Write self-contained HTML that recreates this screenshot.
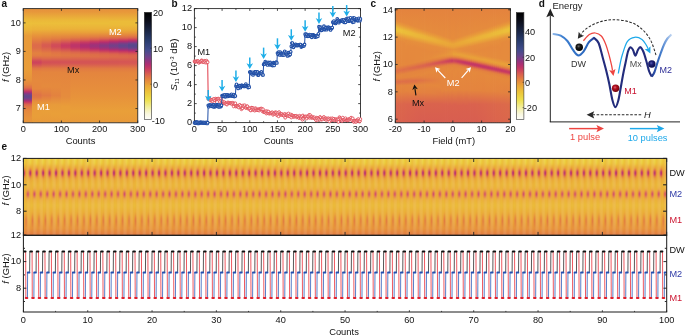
<!DOCTYPE html><html><head><meta charset="utf-8"><title>fig</title><style>html,body{margin:0;padding:0;background:#fff;width:685px;height:336px;overflow:hidden}svg{display:block;will-change:transform}text{font-family:"Liberation Sans",sans-serif}</style></head><body><svg width="685" height="336" viewBox="0 0 685 336"><defs><linearGradient id="g1" x1="0" y1="0" x2="0" y2="1"><stop offset="0.000" stop-color="#e6913c"/><stop offset="0.026" stop-color="#e7973b"/><stop offset="0.100" stop-color="#ebb939"/><stop offset="0.130" stop-color="#ecbf3a"/><stop offset="0.183" stop-color="#ebb439"/><stop offset="0.239" stop-color="#e89b3a"/><stop offset="0.322" stop-color="#e89a3a"/><stop offset="0.535" stop-color="#e99d39"/><stop offset="0.617" stop-color="#e7943b"/><stop offset="0.665" stop-color="#e4843e"/><stop offset="0.691" stop-color="#de7047"/><stop offset="0.704" stop-color="#d85e50"/><stop offset="0.722" stop-color="#c73a62"/><stop offset="0.730" stop-color="#b5306e"/><stop offset="0.743" stop-color="#8d3680"/><stop offset="0.757" stop-color="#6d438b"/><stop offset="0.765" stop-color="#64458c"/><stop offset="0.774" stop-color="#63458c"/><stop offset="0.783" stop-color="#6b448c"/><stop offset="0.796" stop-color="#893882"/><stop offset="0.809" stop-color="#b22e70"/><stop offset="0.822" stop-color="#cb3f5e"/><stop offset="0.839" stop-color="#da624e"/><stop offset="0.861" stop-color="#e17844"/><stop offset="0.896" stop-color="#e5883d"/><stop offset="0.961" stop-color="#e7933b"/><stop offset="1.000" stop-color="#e7953b"/></linearGradient><linearGradient id="g2" x1="0" y1="0" x2="0" y2="1"><stop offset="0.000" stop-color="#e6913c"/><stop offset="0.026" stop-color="#e7963b"/><stop offset="0.100" stop-color="#ebb839"/><stop offset="0.130" stop-color="#ecbe3a"/><stop offset="0.183" stop-color="#ebb139"/><stop offset="0.239" stop-color="#e7923b"/><stop offset="0.283" stop-color="#e27c42"/><stop offset="0.317" stop-color="#dd6b4a"/><stop offset="0.343" stop-color="#dd6d49"/><stop offset="0.391" stop-color="#e38140"/><stop offset="0.413" stop-color="#e27c42"/><stop offset="0.435" stop-color="#dc684b"/><stop offset="0.457" stop-color="#d14c59"/><stop offset="0.470" stop-color="#cd445c"/><stop offset="0.483" stop-color="#d0495a"/><stop offset="0.522" stop-color="#e07545"/><stop offset="0.548" stop-color="#e4833e"/><stop offset="0.630" stop-color="#e5893d"/><stop offset="0.700" stop-color="#e5873d"/><stop offset="0.757" stop-color="#df7246"/><stop offset="0.778" stop-color="#e07844"/><stop offset="0.817" stop-color="#e6913c"/><stop offset="0.857" stop-color="#e99c39"/><stop offset="0.939" stop-color="#e99e39"/><stop offset="1.000" stop-color="#e8993a"/></linearGradient><linearGradient id="g3" x1="0" y1="0" x2="0" y2="1"><stop offset="0.000" stop-color="#e6913c"/><stop offset="0.026" stop-color="#e7963b"/><stop offset="0.100" stop-color="#ebb839"/><stop offset="0.130" stop-color="#ecbe3a"/><stop offset="0.183" stop-color="#ebb139"/><stop offset="0.239" stop-color="#e6903c"/><stop offset="0.274" stop-color="#e17b42"/><stop offset="0.313" stop-color="#d85e50"/><stop offset="0.330" stop-color="#d75b51"/><stop offset="0.357" stop-color="#dc684b"/><stop offset="0.391" stop-color="#e27c42"/><stop offset="0.413" stop-color="#e17b42"/><stop offset="0.435" stop-color="#dd6c49"/><stop offset="0.461" stop-color="#d45355"/><stop offset="0.474" stop-color="#d35056"/><stop offset="0.491" stop-color="#d75b51"/><stop offset="0.526" stop-color="#e17b42"/><stop offset="0.557" stop-color="#e4853e"/><stop offset="0.683" stop-color="#e58a3d"/><stop offset="0.726" stop-color="#e3823f"/><stop offset="0.761" stop-color="#e17a43"/><stop offset="0.791" stop-color="#e4863e"/><stop offset="0.835" stop-color="#e8993a"/><stop offset="0.904" stop-color="#e99f39"/><stop offset="1.000" stop-color="#e8993a"/></linearGradient><linearGradient id="g4" x1="0" y1="0" x2="0" y2="1"><stop offset="0.000" stop-color="#e6913c"/><stop offset="0.026" stop-color="#e7963b"/><stop offset="0.100" stop-color="#ebb839"/><stop offset="0.130" stop-color="#ecbe3a"/><stop offset="0.178" stop-color="#ebb339"/><stop offset="0.217" stop-color="#e89c3a"/><stop offset="0.265" stop-color="#e27c42"/><stop offset="0.313" stop-color="#d24f57"/><stop offset="0.330" stop-color="#d04b59"/><stop offset="0.352" stop-color="#d65853"/><stop offset="0.387" stop-color="#e07545"/><stop offset="0.409" stop-color="#e17a43"/><stop offset="0.430" stop-color="#de6f48"/><stop offset="0.461" stop-color="#d45355"/><stop offset="0.474" stop-color="#d35156"/><stop offset="0.491" stop-color="#d75c51"/><stop offset="0.526" stop-color="#e17b42"/><stop offset="0.557" stop-color="#e4853e"/><stop offset="0.687" stop-color="#e58a3d"/><stop offset="0.761" stop-color="#e3823f"/><stop offset="0.843" stop-color="#e89b3a"/><stop offset="0.922" stop-color="#e99f39"/><stop offset="1.000" stop-color="#e8993a"/></linearGradient><linearGradient id="g5" x1="0" y1="0" x2="0" y2="1"><stop offset="0.000" stop-color="#e6913c"/><stop offset="0.026" stop-color="#e7963b"/><stop offset="0.100" stop-color="#ebb839"/><stop offset="0.130" stop-color="#ecbe3a"/><stop offset="0.178" stop-color="#ebb239"/><stop offset="0.213" stop-color="#e99e39"/><stop offset="0.257" stop-color="#e27f41"/><stop offset="0.287" stop-color="#d85d51"/><stop offset="0.309" stop-color="#cd435d"/><stop offset="0.322" stop-color="#c93c60"/><stop offset="0.339" stop-color="#cb3f5e"/><stop offset="0.365" stop-color="#d75b51"/><stop offset="0.387" stop-color="#de7047"/><stop offset="0.409" stop-color="#e07744"/><stop offset="0.430" stop-color="#dd6e48"/><stop offset="0.461" stop-color="#d45455"/><stop offset="0.474" stop-color="#d35256"/><stop offset="0.491" stop-color="#d85d51"/><stop offset="0.526" stop-color="#e17b42"/><stop offset="0.561" stop-color="#e4853e"/><stop offset="0.717" stop-color="#e58a3d"/><stop offset="0.774" stop-color="#e58c3d"/><stop offset="0.857" stop-color="#e99d39"/><stop offset="0.943" stop-color="#e99e39"/><stop offset="1.000" stop-color="#e8993a"/></linearGradient><linearGradient id="g6" x1="0" y1="0" x2="0" y2="1"><stop offset="0.000" stop-color="#e6913c"/><stop offset="0.026" stop-color="#e7963b"/><stop offset="0.100" stop-color="#ebb839"/><stop offset="0.130" stop-color="#ecbe3a"/><stop offset="0.178" stop-color="#ebb239"/><stop offset="0.213" stop-color="#e99d39"/><stop offset="0.252" stop-color="#e27f41"/><stop offset="0.278" stop-color="#d9604f"/><stop offset="0.300" stop-color="#cb3e5f"/><stop offset="0.317" stop-color="#be3568"/><stop offset="0.335" stop-color="#be3568"/><stop offset="0.352" stop-color="#cb3e5f"/><stop offset="0.383" stop-color="#db674c"/><stop offset="0.400" stop-color="#df7346"/><stop offset="0.417" stop-color="#df7446"/><stop offset="0.443" stop-color="#da624e"/><stop offset="0.465" stop-color="#d45355"/><stop offset="0.478" stop-color="#d45455"/><stop offset="0.526" stop-color="#e17b42"/><stop offset="0.561" stop-color="#e4853e"/><stop offset="0.765" stop-color="#e7923b"/><stop offset="0.900" stop-color="#e99f39"/><stop offset="1.000" stop-color="#e8993a"/></linearGradient><linearGradient id="g7" x1="0" y1="0" x2="0" y2="1"><stop offset="0.000" stop-color="#e6913c"/><stop offset="0.026" stop-color="#e7963b"/><stop offset="0.100" stop-color="#ebb839"/><stop offset="0.130" stop-color="#ecbe3a"/><stop offset="0.178" stop-color="#ebb239"/><stop offset="0.209" stop-color="#e9a039"/><stop offset="0.248" stop-color="#e37f40"/><stop offset="0.270" stop-color="#db664c"/><stop offset="0.296" stop-color="#c73a62"/><stop offset="0.313" stop-color="#b42f6e"/><stop offset="0.326" stop-color="#ae2f72"/><stop offset="0.339" stop-color="#b52f6e"/><stop offset="0.361" stop-color="#cb3f5f"/><stop offset="0.383" stop-color="#d9604f"/><stop offset="0.400" stop-color="#de6f48"/><stop offset="0.417" stop-color="#df7247"/><stop offset="0.439" stop-color="#db654c"/><stop offset="0.461" stop-color="#d45554"/><stop offset="0.478" stop-color="#d45554"/><stop offset="0.526" stop-color="#e17b42"/><stop offset="0.561" stop-color="#e4853e"/><stop offset="0.770" stop-color="#e7923b"/><stop offset="0.900" stop-color="#e99f39"/><stop offset="1.000" stop-color="#e8993a"/></linearGradient><linearGradient id="g8" x1="0" y1="0" x2="0" y2="1"><stop offset="0.000" stop-color="#e6913c"/><stop offset="0.026" stop-color="#e7963b"/><stop offset="0.100" stop-color="#ebb839"/><stop offset="0.130" stop-color="#ebbd39"/><stop offset="0.178" stop-color="#ebb139"/><stop offset="0.209" stop-color="#e99f39"/><stop offset="0.248" stop-color="#e27c42"/><stop offset="0.270" stop-color="#d95f4f"/><stop offset="0.287" stop-color="#ca3d60"/><stop offset="0.304" stop-color="#b12e71"/><stop offset="0.317" stop-color="#9f3279"/><stop offset="0.330" stop-color="#9c337a"/><stop offset="0.343" stop-color="#aa3074"/><stop offset="0.348" stop-color="#b12e70"/><stop offset="0.365" stop-color="#ca3c60"/><stop offset="0.387" stop-color="#d9604f"/><stop offset="0.404" stop-color="#dd6e48"/><stop offset="0.422" stop-color="#de6f48"/><stop offset="0.465" stop-color="#d45455"/><stop offset="0.483" stop-color="#d65853"/><stop offset="0.526" stop-color="#e17b42"/><stop offset="0.561" stop-color="#e4853e"/><stop offset="0.770" stop-color="#e7923b"/><stop offset="0.900" stop-color="#e99f39"/><stop offset="1.000" stop-color="#e8993a"/></linearGradient><linearGradient id="g9" x1="0" y1="0" x2="0" y2="1"><stop offset="0.000" stop-color="#e6913c"/><stop offset="0.026" stop-color="#e7963b"/><stop offset="0.100" stop-color="#ebb839"/><stop offset="0.130" stop-color="#ebbd39"/><stop offset="0.178" stop-color="#ebb139"/><stop offset="0.209" stop-color="#e99e39"/><stop offset="0.243" stop-color="#e27e41"/><stop offset="0.265" stop-color="#d9614f"/><stop offset="0.283" stop-color="#ca3c60"/><stop offset="0.296" stop-color="#b32f6f"/><stop offset="0.309" stop-color="#98347c"/><stop offset="0.322" stop-color="#893882"/><stop offset="0.330" stop-color="#8a3881"/><stop offset="0.343" stop-color="#98347b"/><stop offset="0.357" stop-color="#b32f6f"/><stop offset="0.370" stop-color="#c93b61"/><stop offset="0.391" stop-color="#d9604f"/><stop offset="0.409" stop-color="#dd6c49"/><stop offset="0.426" stop-color="#dd6b4a"/><stop offset="0.465" stop-color="#d45454"/><stop offset="0.483" stop-color="#d65853"/><stop offset="0.526" stop-color="#e17b42"/><stop offset="0.561" stop-color="#e4853e"/><stop offset="0.770" stop-color="#e7923b"/><stop offset="0.900" stop-color="#e99f39"/><stop offset="1.000" stop-color="#e8993a"/></linearGradient><linearGradient id="g10" x1="0" y1="0" x2="0" y2="1"><stop offset="0.000" stop-color="#e6913c"/><stop offset="0.030" stop-color="#e8983a"/><stop offset="0.113" stop-color="#ebbc39"/><stop offset="0.143" stop-color="#ebbb39"/><stop offset="0.187" stop-color="#eaac38"/><stop offset="0.213" stop-color="#e8993a"/><stop offset="0.243" stop-color="#e27c42"/><stop offset="0.261" stop-color="#da634d"/><stop offset="0.278" stop-color="#cb3d5f"/><stop offset="0.291" stop-color="#b12e70"/><stop offset="0.304" stop-color="#8f3680"/><stop offset="0.317" stop-color="#793e87"/><stop offset="0.326" stop-color="#754088"/><stop offset="0.335" stop-color="#7a3e87"/><stop offset="0.348" stop-color="#90367f"/><stop offset="0.361" stop-color="#b12e70"/><stop offset="0.374" stop-color="#c93b61"/><stop offset="0.391" stop-color="#d75a52"/><stop offset="0.404" stop-color="#dc684b"/><stop offset="0.422" stop-color="#dd6b4a"/><stop offset="0.448" stop-color="#d85d50"/><stop offset="0.465" stop-color="#d45554"/><stop offset="0.483" stop-color="#d65952"/><stop offset="0.526" stop-color="#e17b42"/><stop offset="0.561" stop-color="#e4853e"/><stop offset="0.770" stop-color="#e7923b"/><stop offset="0.900" stop-color="#e99f39"/><stop offset="1.000" stop-color="#e8993a"/></linearGradient><linearGradient id="g11" x1="0" y1="0" x2="0" y2="1"><stop offset="0.000" stop-color="#e6913c"/><stop offset="0.030" stop-color="#e8983a"/><stop offset="0.113" stop-color="#ebbc39"/><stop offset="0.143" stop-color="#ebbb39"/><stop offset="0.187" stop-color="#eaac38"/><stop offset="0.209" stop-color="#e99c39"/><stop offset="0.239" stop-color="#e27e41"/><stop offset="0.257" stop-color="#db664c"/><stop offset="0.274" stop-color="#cc405e"/><stop offset="0.287" stop-color="#b22e70"/><stop offset="0.304" stop-color="#7e3c85"/><stop offset="0.313" stop-color="#6d438b"/><stop offset="0.322" stop-color="#65458c"/><stop offset="0.335" stop-color="#68448c"/><stop offset="0.343" stop-color="#763f88"/><stop offset="0.361" stop-color="#a43176"/><stop offset="0.365" stop-color="#b12e71"/><stop offset="0.378" stop-color="#ca3c60"/><stop offset="0.396" stop-color="#d75b51"/><stop offset="0.409" stop-color="#db674c"/><stop offset="0.426" stop-color="#dc694b"/><stop offset="0.465" stop-color="#d55554"/><stop offset="0.483" stop-color="#d75a52"/><stop offset="0.526" stop-color="#e17b42"/><stop offset="0.561" stop-color="#e4853e"/><stop offset="0.770" stop-color="#e7923b"/><stop offset="0.900" stop-color="#e99f39"/><stop offset="1.000" stop-color="#e8993a"/></linearGradient><linearGradient id="g12" x1="0" y1="0" x2="0" y2="1"><stop offset="0.000" stop-color="#e6913c"/><stop offset="0.030" stop-color="#e8983a"/><stop offset="0.113" stop-color="#ebbc39"/><stop offset="0.143" stop-color="#ebbb39"/><stop offset="0.187" stop-color="#eaac38"/><stop offset="0.213" stop-color="#e8973a"/><stop offset="0.239" stop-color="#e27c42"/><stop offset="0.257" stop-color="#da624e"/><stop offset="0.274" stop-color="#c73a62"/><stop offset="0.283" stop-color="#b42f6f"/><stop offset="0.296" stop-color="#883982"/><stop offset="0.304" stop-color="#6e438b"/><stop offset="0.313" stop-color="#5e468c"/><stop offset="0.326" stop-color="#56488c"/><stop offset="0.339" stop-color="#5f468c"/><stop offset="0.348" stop-color="#6f428a"/><stop offset="0.365" stop-color="#a43176"/><stop offset="0.370" stop-color="#b22e70"/><stop offset="0.383" stop-color="#cb3f5f"/><stop offset="0.396" stop-color="#d55753"/><stop offset="0.409" stop-color="#db644d"/><stop offset="0.426" stop-color="#dc674b"/><stop offset="0.465" stop-color="#d55654"/><stop offset="0.483" stop-color="#d75a52"/><stop offset="0.526" stop-color="#e17b42"/><stop offset="0.565" stop-color="#e4863e"/><stop offset="0.770" stop-color="#e7923b"/><stop offset="0.900" stop-color="#e99f39"/><stop offset="1.000" stop-color="#e8993a"/></linearGradient><linearGradient id="g13" x1="0" y1="0" x2="0" y2="1"><stop offset="0.000" stop-color="#000000"/><stop offset="0.017" stop-color="#020305"/><stop offset="0.033" stop-color="#05060a"/><stop offset="0.050" stop-color="#070910"/><stop offset="0.067" stop-color="#0a0b15"/><stop offset="0.083" stop-color="#0c0f1c"/><stop offset="0.100" stop-color="#0f1323"/><stop offset="0.117" stop-color="#11172b"/><stop offset="0.133" stop-color="#141b32"/><stop offset="0.150" stop-color="#16203a"/><stop offset="0.167" stop-color="#192441"/><stop offset="0.183" stop-color="#1c2849"/><stop offset="0.200" stop-color="#1e2c50"/><stop offset="0.217" stop-color="#213158"/><stop offset="0.233" stop-color="#243560"/><stop offset="0.250" stop-color="#263967"/><stop offset="0.267" stop-color="#2a3d6e"/><stop offset="0.283" stop-color="#2f4074"/><stop offset="0.300" stop-color="#34437a"/><stop offset="0.317" stop-color="#384680"/><stop offset="0.333" stop-color="#3d4986"/><stop offset="0.350" stop-color="#424c8c"/><stop offset="0.367" stop-color="#4d4a8c"/><stop offset="0.383" stop-color="#58488c"/><stop offset="0.400" stop-color="#63458c"/><stop offset="0.417" stop-color="#70428a"/><stop offset="0.433" stop-color="#7f3c85"/><stop offset="0.450" stop-color="#8e3680"/><stop offset="0.467" stop-color="#9d3379"/><stop offset="0.483" stop-color="#ac2f73"/><stop offset="0.500" stop-color="#b8326c"/><stop offset="0.517" stop-color="#c23765"/><stop offset="0.533" stop-color="#cb3f5f"/><stop offset="0.550" stop-color="#d04b59"/><stop offset="0.567" stop-color="#d65853"/><stop offset="0.583" stop-color="#db644d"/><stop offset="0.600" stop-color="#de7048"/><stop offset="0.617" stop-color="#e17b42"/><stop offset="0.633" stop-color="#e4863e"/><stop offset="0.650" stop-color="#e6913c"/><stop offset="0.667" stop-color="#e89b3a"/><stop offset="0.683" stop-color="#eaa638"/><stop offset="0.700" stop-color="#ebae39"/><stop offset="0.717" stop-color="#ebb639"/><stop offset="0.733" stop-color="#ecbe3a"/><stop offset="0.750" stop-color="#ecc63a"/><stop offset="0.767" stop-color="#eccc3f"/><stop offset="0.783" stop-color="#ecd244"/><stop offset="0.800" stop-color="#edd948"/><stop offset="0.817" stop-color="#eddf4d"/><stop offset="0.833" stop-color="#eee35e"/><stop offset="0.850" stop-color="#f0e671"/><stop offset="0.867" stop-color="#f1ea85"/><stop offset="0.883" stop-color="#f2ee98"/><stop offset="0.900" stop-color="#f4f0aa"/><stop offset="0.917" stop-color="#f6f3bc"/><stop offset="0.933" stop-color="#f7f5cd"/><stop offset="0.950" stop-color="#f9f7de"/><stop offset="0.967" stop-color="#faf9e7"/><stop offset="0.983" stop-color="#fcfbf1"/><stop offset="1.000" stop-color="#fdfdfa"/></linearGradient><clipPath id="clipb"><rect x="192.4" y="2.5999999999999996" width="170.1" height="123.0"/></clipPath><linearGradient id="g14" x1="0" y1="0" x2="0" y2="1"><stop offset="0.000" stop-color="#e4833e"/><stop offset="0.100" stop-color="#e5883d"/><stop offset="0.129" stop-color="#e8973a"/><stop offset="0.171" stop-color="#ecbf3a"/><stop offset="0.192" stop-color="#ecc23a"/><stop offset="0.221" stop-color="#eaac38"/><stop offset="0.254" stop-color="#e6903c"/><stop offset="0.296" stop-color="#e5893d"/><stop offset="0.508" stop-color="#e5873d"/><stop offset="0.546" stop-color="#de7147"/><stop offset="0.562" stop-color="#e07844"/><stop offset="0.588" stop-color="#e4863e"/><stop offset="0.613" stop-color="#e4833e"/><stop offset="0.642" stop-color="#de6e48"/><stop offset="0.658" stop-color="#e07844"/><stop offset="0.679" stop-color="#e4853e"/><stop offset="0.738" stop-color="#e38140"/><stop offset="0.833" stop-color="#dc674c"/><stop offset="1.000" stop-color="#da634e"/></linearGradient><linearGradient id="g15" x1="0" y1="0" x2="0" y2="1"><stop offset="0.000" stop-color="#e4833e"/><stop offset="0.108" stop-color="#e5893d"/><stop offset="0.133" stop-color="#e7973b"/><stop offset="0.179" stop-color="#ecc03a"/><stop offset="0.200" stop-color="#ecc03a"/><stop offset="0.250" stop-color="#e7953b"/><stop offset="0.283" stop-color="#e58a3d"/><stop offset="0.504" stop-color="#e5873d"/><stop offset="0.542" stop-color="#de7147"/><stop offset="0.558" stop-color="#e07644"/><stop offset="0.583" stop-color="#e4863e"/><stop offset="0.608" stop-color="#e4853e"/><stop offset="0.637" stop-color="#de6f48"/><stop offset="0.650" stop-color="#df7247"/><stop offset="0.675" stop-color="#e4843e"/><stop offset="0.721" stop-color="#e4843e"/><stop offset="0.838" stop-color="#db664c"/><stop offset="1.000" stop-color="#da624e"/></linearGradient><linearGradient id="g16" x1="0" y1="0" x2="0" y2="1"><stop offset="0.000" stop-color="#e4833e"/><stop offset="0.113" stop-color="#e5893d"/><stop offset="0.142" stop-color="#e8993a"/><stop offset="0.183" stop-color="#ecbf3a"/><stop offset="0.204" stop-color="#ecbf3a"/><stop offset="0.254" stop-color="#e7943b"/><stop offset="0.287" stop-color="#e58a3d"/><stop offset="0.500" stop-color="#e5873d"/><stop offset="0.525" stop-color="#e17844"/><stop offset="0.542" stop-color="#de7048"/><stop offset="0.567" stop-color="#e38040"/><stop offset="0.592" stop-color="#e5883d"/><stop offset="0.613" stop-color="#e3823f"/><stop offset="0.637" stop-color="#de6f48"/><stop offset="0.650" stop-color="#df7246"/><stop offset="0.675" stop-color="#e4853e"/><stop offset="0.725" stop-color="#e4833e"/><stop offset="0.838" stop-color="#db664c"/><stop offset="1.000" stop-color="#da624e"/></linearGradient><linearGradient id="g17" x1="0" y1="0" x2="0" y2="1"><stop offset="0.000" stop-color="#e4833e"/><stop offset="0.117" stop-color="#e5893d"/><stop offset="0.146" stop-color="#e8983a"/><stop offset="0.188" stop-color="#ecbe3a"/><stop offset="0.208" stop-color="#ecbe3a"/><stop offset="0.258" stop-color="#e7943b"/><stop offset="0.292" stop-color="#e58a3d"/><stop offset="0.496" stop-color="#e5883d"/><stop offset="0.521" stop-color="#e17843"/><stop offset="0.537" stop-color="#de6f48"/><stop offset="0.554" stop-color="#e07844"/><stop offset="0.579" stop-color="#e5873d"/><stop offset="0.608" stop-color="#e4843e"/><stop offset="0.637" stop-color="#de6f48"/><stop offset="0.654" stop-color="#e07744"/><stop offset="0.675" stop-color="#e4853e"/><stop offset="0.729" stop-color="#e3823f"/><stop offset="0.838" stop-color="#db664c"/><stop offset="1.000" stop-color="#da624e"/></linearGradient><linearGradient id="g18" x1="0" y1="0" x2="0" y2="1"><stop offset="0.000" stop-color="#e4833e"/><stop offset="0.125" stop-color="#e58a3d"/><stop offset="0.150" stop-color="#e8973a"/><stop offset="0.192" stop-color="#ebbc39"/><stop offset="0.212" stop-color="#ebbd39"/><stop offset="0.267" stop-color="#e6913c"/><stop offset="0.304" stop-color="#e5893d"/><stop offset="0.492" stop-color="#e5883d"/><stop offset="0.512" stop-color="#e27c42"/><stop offset="0.533" stop-color="#de6e48"/><stop offset="0.550" stop-color="#e07644"/><stop offset="0.575" stop-color="#e4873e"/><stop offset="0.604" stop-color="#e4853e"/><stop offset="0.637" stop-color="#de6f48"/><stop offset="0.654" stop-color="#e07844"/><stop offset="0.675" stop-color="#e4853e"/><stop offset="0.733" stop-color="#e3813f"/><stop offset="0.833" stop-color="#db664c"/><stop offset="1.000" stop-color="#da614e"/></linearGradient><linearGradient id="g19" x1="0" y1="0" x2="0" y2="1"><stop offset="0.000" stop-color="#e4833e"/><stop offset="0.129" stop-color="#e58a3d"/><stop offset="0.154" stop-color="#e7963b"/><stop offset="0.196" stop-color="#ebbb39"/><stop offset="0.217" stop-color="#ebbd39"/><stop offset="0.254" stop-color="#e99d39"/><stop offset="0.279" stop-color="#e68d3c"/><stop offset="0.350" stop-color="#e5893d"/><stop offset="0.492" stop-color="#e5873d"/><stop offset="0.529" stop-color="#dd6e49"/><stop offset="0.546" stop-color="#e07545"/><stop offset="0.571" stop-color="#e4863e"/><stop offset="0.604" stop-color="#e4853e"/><stop offset="0.633" stop-color="#de6f48"/><stop offset="0.646" stop-color="#df7147"/><stop offset="0.671" stop-color="#e4843e"/><stop offset="0.717" stop-color="#e4843e"/><stop offset="0.838" stop-color="#db654d"/><stop offset="1.000" stop-color="#d9614f"/></linearGradient><linearGradient id="g20" x1="0" y1="0" x2="0" y2="1"><stop offset="0.000" stop-color="#e4833e"/><stop offset="0.133" stop-color="#e58a3d"/><stop offset="0.163" stop-color="#e8993a"/><stop offset="0.200" stop-color="#ebba39"/><stop offset="0.221" stop-color="#ebbc39"/><stop offset="0.254" stop-color="#e9a139"/><stop offset="0.279" stop-color="#e68f3c"/><stop offset="0.329" stop-color="#e5893d"/><stop offset="0.487" stop-color="#e5873d"/><stop offset="0.512" stop-color="#e07545"/><stop offset="0.529" stop-color="#dd6d49"/><stop offset="0.567" stop-color="#e4863e"/><stop offset="0.600" stop-color="#e4863e"/><stop offset="0.633" stop-color="#de6f48"/><stop offset="0.646" stop-color="#df7246"/><stop offset="0.671" stop-color="#e4853e"/><stop offset="0.721" stop-color="#e4833e"/><stop offset="0.838" stop-color="#db644d"/><stop offset="1.000" stop-color="#d9604f"/></linearGradient><linearGradient id="g21" x1="0" y1="0" x2="0" y2="1"><stop offset="0.000" stop-color="#e4833e"/><stop offset="0.142" stop-color="#e58a3d"/><stop offset="0.167" stop-color="#e8983a"/><stop offset="0.204" stop-color="#ebb939"/><stop offset="0.225" stop-color="#ebbb39"/><stop offset="0.258" stop-color="#e9a139"/><stop offset="0.283" stop-color="#e68e3c"/><stop offset="0.333" stop-color="#e5893d"/><stop offset="0.483" stop-color="#e5883d"/><stop offset="0.504" stop-color="#e17a43"/><stop offset="0.521" stop-color="#dd6c49"/><stop offset="0.533" stop-color="#de6f48"/><stop offset="0.562" stop-color="#e4863e"/><stop offset="0.600" stop-color="#e4863e"/><stop offset="0.633" stop-color="#de6f48"/><stop offset="0.650" stop-color="#e07644"/><stop offset="0.671" stop-color="#e4853e"/><stop offset="0.725" stop-color="#e4833f"/><stop offset="0.838" stop-color="#db644d"/><stop offset="1.000" stop-color="#d9604f"/></linearGradient><linearGradient id="g22" x1="0" y1="0" x2="0" y2="1"><stop offset="0.000" stop-color="#e4833e"/><stop offset="0.146" stop-color="#e58a3d"/><stop offset="0.171" stop-color="#e8973a"/><stop offset="0.208" stop-color="#ebb839"/><stop offset="0.229" stop-color="#ebba39"/><stop offset="0.263" stop-color="#e9a039"/><stop offset="0.287" stop-color="#e68e3c"/><stop offset="0.342" stop-color="#e5893d"/><stop offset="0.479" stop-color="#e5883d"/><stop offset="0.500" stop-color="#e17a43"/><stop offset="0.517" stop-color="#dd6c49"/><stop offset="0.529" stop-color="#dd6e48"/><stop offset="0.558" stop-color="#e4853e"/><stop offset="0.596" stop-color="#e5873d"/><stop offset="0.617" stop-color="#e17a43"/><stop offset="0.633" stop-color="#de6f48"/><stop offset="0.650" stop-color="#e07744"/><stop offset="0.671" stop-color="#e4853e"/><stop offset="0.729" stop-color="#e3823f"/><stop offset="0.833" stop-color="#db644d"/><stop offset="1.000" stop-color="#d95f4f"/></linearGradient><linearGradient id="g23" x1="0" y1="0" x2="0" y2="1"><stop offset="0.000" stop-color="#e4833e"/><stop offset="0.154" stop-color="#e58b3d"/><stop offset="0.179" stop-color="#e8993a"/><stop offset="0.217" stop-color="#ebb939"/><stop offset="0.237" stop-color="#ebb739"/><stop offset="0.287" stop-color="#e6903c"/><stop offset="0.329" stop-color="#e5893d"/><stop offset="0.475" stop-color="#e5883d"/><stop offset="0.496" stop-color="#e17b42"/><stop offset="0.512" stop-color="#dd6b4a"/><stop offset="0.525" stop-color="#dd6c49"/><stop offset="0.554" stop-color="#e4853e"/><stop offset="0.592" stop-color="#e5873d"/><stop offset="0.613" stop-color="#e27d41"/><stop offset="0.633" stop-color="#de6f48"/><stop offset="0.650" stop-color="#e17844"/><stop offset="0.671" stop-color="#e4853e"/><stop offset="0.729" stop-color="#e3823f"/><stop offset="0.833" stop-color="#db644d"/><stop offset="0.992" stop-color="#d95f4f"/><stop offset="1.000" stop-color="#d95f4f"/></linearGradient><linearGradient id="g24" x1="0" y1="0" x2="0" y2="1"><stop offset="0.000" stop-color="#e4833e"/><stop offset="0.158" stop-color="#e58b3d"/><stop offset="0.183" stop-color="#e8983a"/><stop offset="0.221" stop-color="#ebb739"/><stop offset="0.242" stop-color="#ebb739"/><stop offset="0.292" stop-color="#e68f3c"/><stop offset="0.333" stop-color="#e5893d"/><stop offset="0.471" stop-color="#e5893d"/><stop offset="0.492" stop-color="#e17b42"/><stop offset="0.512" stop-color="#dc694b"/><stop offset="0.525" stop-color="#de6e48"/><stop offset="0.550" stop-color="#e4843e"/><stop offset="0.588" stop-color="#e5883d"/><stop offset="0.608" stop-color="#e38040"/><stop offset="0.629" stop-color="#de6f48"/><stop offset="0.642" stop-color="#df7246"/><stop offset="0.667" stop-color="#e4853e"/><stop offset="0.717" stop-color="#e4843e"/><stop offset="0.838" stop-color="#da634e"/><stop offset="1.000" stop-color="#d95e50"/></linearGradient><linearGradient id="g25" x1="0" y1="0" x2="0" y2="1"><stop offset="0.000" stop-color="#e4833e"/><stop offset="0.163" stop-color="#e58b3d"/><stop offset="0.188" stop-color="#e8973a"/><stop offset="0.225" stop-color="#ebb639"/><stop offset="0.246" stop-color="#ebb639"/><stop offset="0.296" stop-color="#e68f3c"/><stop offset="0.342" stop-color="#e5893d"/><stop offset="0.467" stop-color="#e5893d"/><stop offset="0.487" stop-color="#e17b42"/><stop offset="0.508" stop-color="#dc684b"/><stop offset="0.521" stop-color="#dd6c49"/><stop offset="0.546" stop-color="#e4843e"/><stop offset="0.583" stop-color="#e5883d"/><stop offset="0.608" stop-color="#e37f40"/><stop offset="0.629" stop-color="#de7147"/><stop offset="0.646" stop-color="#e07744"/><stop offset="0.667" stop-color="#e4853e"/><stop offset="0.721" stop-color="#e4833e"/><stop offset="0.838" stop-color="#da634e"/><stop offset="1.000" stop-color="#d85e50"/></linearGradient><linearGradient id="g26" x1="0" y1="0" x2="0" y2="1"><stop offset="0.000" stop-color="#e4833e"/><stop offset="0.171" stop-color="#e58b3d"/><stop offset="0.196" stop-color="#e89a3a"/><stop offset="0.229" stop-color="#ebb539"/><stop offset="0.250" stop-color="#ebb539"/><stop offset="0.300" stop-color="#e68f3c"/><stop offset="0.346" stop-color="#e5893d"/><stop offset="0.463" stop-color="#e5893d"/><stop offset="0.483" stop-color="#e27c42"/><stop offset="0.504" stop-color="#dc674b"/><stop offset="0.517" stop-color="#dc6a4a"/><stop offset="0.542" stop-color="#e4833e"/><stop offset="0.575" stop-color="#e5883d"/><stop offset="0.604" stop-color="#e3823f"/><stop offset="0.629" stop-color="#df7246"/><stop offset="0.646" stop-color="#e17943"/><stop offset="0.667" stop-color="#e4863e"/><stop offset="0.729" stop-color="#e3823f"/><stop offset="0.833" stop-color="#da634d"/><stop offset="0.979" stop-color="#d85e50"/><stop offset="1.000" stop-color="#d85e50"/></linearGradient><linearGradient id="g27" x1="0" y1="0" x2="0" y2="1"><stop offset="0.000" stop-color="#e4833e"/><stop offset="0.175" stop-color="#e58b3d"/><stop offset="0.200" stop-color="#e8993a"/><stop offset="0.233" stop-color="#ebb439"/><stop offset="0.254" stop-color="#ebb439"/><stop offset="0.304" stop-color="#e68f3c"/><stop offset="0.354" stop-color="#e5893d"/><stop offset="0.458" stop-color="#e58a3d"/><stop offset="0.479" stop-color="#e27c42"/><stop offset="0.500" stop-color="#db674c"/><stop offset="0.512" stop-color="#dc694b"/><stop offset="0.542" stop-color="#e4853e"/><stop offset="0.588" stop-color="#e5883d"/><stop offset="0.613" stop-color="#e27c42"/><stop offset="0.629" stop-color="#df7446"/><stop offset="0.671" stop-color="#e4873e"/><stop offset="0.738" stop-color="#e38040"/><stop offset="0.833" stop-color="#da634d"/><stop offset="0.979" stop-color="#d85e50"/><stop offset="1.000" stop-color="#d85e50"/></linearGradient><linearGradient id="g28" x1="0" y1="0" x2="0" y2="1"><stop offset="0.000" stop-color="#e4833e"/><stop offset="0.179" stop-color="#e58b3d"/><stop offset="0.204" stop-color="#e8973a"/><stop offset="0.237" stop-color="#ebb339"/><stop offset="0.258" stop-color="#ebb339"/><stop offset="0.308" stop-color="#e68e3c"/><stop offset="0.358" stop-color="#e5893d"/><stop offset="0.454" stop-color="#e58a3d"/><stop offset="0.475" stop-color="#e27d41"/><stop offset="0.496" stop-color="#db664c"/><stop offset="0.508" stop-color="#db674c"/><stop offset="0.537" stop-color="#e4843e"/><stop offset="0.579" stop-color="#e5883d"/><stop offset="0.604" stop-color="#e3823f"/><stop offset="0.629" stop-color="#e07545"/><stop offset="0.667" stop-color="#e4863e"/><stop offset="0.733" stop-color="#e38140"/><stop offset="0.833" stop-color="#da634d"/><stop offset="0.979" stop-color="#d85e50"/><stop offset="1.000" stop-color="#d85e50"/></linearGradient><linearGradient id="g29" x1="0" y1="0" x2="0" y2="1"><stop offset="0.000" stop-color="#e4833e"/><stop offset="0.188" stop-color="#e58c3d"/><stop offset="0.212" stop-color="#e89a3a"/><stop offset="0.242" stop-color="#ebb239"/><stop offset="0.263" stop-color="#ebb339"/><stop offset="0.312" stop-color="#e68e3c"/><stop offset="0.362" stop-color="#e5893d"/><stop offset="0.450" stop-color="#e58b3d"/><stop offset="0.471" stop-color="#e27e41"/><stop offset="0.492" stop-color="#db654d"/><stop offset="0.504" stop-color="#db654d"/><stop offset="0.533" stop-color="#e4833e"/><stop offset="0.571" stop-color="#e5893d"/><stop offset="0.604" stop-color="#e3823f"/><stop offset="0.629" stop-color="#e07744"/><stop offset="0.667" stop-color="#e4873e"/><stop offset="0.733" stop-color="#e38140"/><stop offset="0.833" stop-color="#da634d"/><stop offset="0.979" stop-color="#d85e50"/><stop offset="1.000" stop-color="#d85e50"/></linearGradient><linearGradient id="g30" x1="0" y1="0" x2="0" y2="1"><stop offset="0.000" stop-color="#e4833e"/><stop offset="0.192" stop-color="#e58b3d"/><stop offset="0.217" stop-color="#e8993a"/><stop offset="0.246" stop-color="#ebb039"/><stop offset="0.267" stop-color="#ebb239"/><stop offset="0.317" stop-color="#e68e3c"/><stop offset="0.371" stop-color="#e5893d"/><stop offset="0.446" stop-color="#e58b3d"/><stop offset="0.467" stop-color="#e27e41"/><stop offset="0.487" stop-color="#db644d"/><stop offset="0.500" stop-color="#da634e"/><stop offset="0.529" stop-color="#e4833f"/><stop offset="0.558" stop-color="#e5893d"/><stop offset="0.600" stop-color="#e4843e"/><stop offset="0.629" stop-color="#e17943"/><stop offset="0.667" stop-color="#e5873d"/><stop offset="0.738" stop-color="#e38040"/><stop offset="0.833" stop-color="#da634d"/><stop offset="0.979" stop-color="#d85e50"/><stop offset="1.000" stop-color="#d85e50"/></linearGradient><linearGradient id="g31" x1="0" y1="0" x2="0" y2="1"><stop offset="0.000" stop-color="#e4833e"/><stop offset="0.196" stop-color="#e58b3d"/><stop offset="0.221" stop-color="#e8983a"/><stop offset="0.254" stop-color="#ebb139"/><stop offset="0.275" stop-color="#ebaf39"/><stop offset="0.321" stop-color="#e68e3c"/><stop offset="0.379" stop-color="#e5893d"/><stop offset="0.442" stop-color="#e58c3d"/><stop offset="0.463" stop-color="#e27f40"/><stop offset="0.487" stop-color="#d9604f"/><stop offset="0.500" stop-color="#db644d"/><stop offset="0.525" stop-color="#e3823f"/><stop offset="0.550" stop-color="#e5883d"/><stop offset="0.600" stop-color="#e4843e"/><stop offset="0.629" stop-color="#e17a43"/><stop offset="0.667" stop-color="#e5873d"/><stop offset="0.738" stop-color="#e38040"/><stop offset="0.833" stop-color="#da634d"/><stop offset="0.979" stop-color="#d85e50"/><stop offset="1.000" stop-color="#d85e50"/></linearGradient><linearGradient id="g32" x1="0" y1="0" x2="0" y2="1"><stop offset="0.000" stop-color="#e4833e"/><stop offset="0.204" stop-color="#e58c3d"/><stop offset="0.229" stop-color="#e89a3a"/><stop offset="0.258" stop-color="#ebb039"/><stop offset="0.279" stop-color="#ebae39"/><stop offset="0.325" stop-color="#e68d3c"/><stop offset="0.383" stop-color="#e5893d"/><stop offset="0.438" stop-color="#e68c3c"/><stop offset="0.458" stop-color="#e37f40"/><stop offset="0.483" stop-color="#d95f50"/><stop offset="0.492" stop-color="#d85e50"/><stop offset="0.525" stop-color="#e4843e"/><stop offset="0.562" stop-color="#e5893d"/><stop offset="0.604" stop-color="#e4833f"/><stop offset="0.629" stop-color="#e27c42"/><stop offset="0.667" stop-color="#e5873d"/><stop offset="0.738" stop-color="#e38040"/><stop offset="0.833" stop-color="#da634d"/><stop offset="0.979" stop-color="#d85e50"/><stop offset="1.000" stop-color="#d85e50"/></linearGradient><linearGradient id="g33" x1="0" y1="0" x2="0" y2="1"><stop offset="0.000" stop-color="#e4833e"/><stop offset="0.208" stop-color="#e58b3d"/><stop offset="0.233" stop-color="#e8993a"/><stop offset="0.263" stop-color="#ebaf39"/><stop offset="0.283" stop-color="#ebad39"/><stop offset="0.329" stop-color="#e68d3c"/><stop offset="0.383" stop-color="#e5893d"/><stop offset="0.433" stop-color="#e68d3c"/><stop offset="0.454" stop-color="#e38040"/><stop offset="0.479" stop-color="#d85d50"/><stop offset="0.487" stop-color="#d75b51"/><stop offset="0.504" stop-color="#de7048"/><stop offset="0.521" stop-color="#e4833f"/><stop offset="0.550" stop-color="#e5893d"/><stop offset="0.600" stop-color="#e4853e"/><stop offset="0.629" stop-color="#e27e41"/><stop offset="0.671" stop-color="#e5873d"/><stop offset="0.742" stop-color="#e27f41"/><stop offset="0.833" stop-color="#da634d"/><stop offset="0.979" stop-color="#d85e50"/><stop offset="1.000" stop-color="#d85e50"/></linearGradient><linearGradient id="g34" x1="0" y1="0" x2="0" y2="1"><stop offset="0.000" stop-color="#e4833e"/><stop offset="0.212" stop-color="#e58b3d"/><stop offset="0.237" stop-color="#e8983a"/><stop offset="0.267" stop-color="#ebae39"/><stop offset="0.287" stop-color="#ebad39"/><stop offset="0.333" stop-color="#e68d3c"/><stop offset="0.383" stop-color="#e58a3d"/><stop offset="0.429" stop-color="#e68e3c"/><stop offset="0.450" stop-color="#e3813f"/><stop offset="0.475" stop-color="#d85c51"/><stop offset="0.483" stop-color="#d65952"/><stop offset="0.496" stop-color="#db664c"/><stop offset="0.517" stop-color="#e3823f"/><stop offset="0.542" stop-color="#e5883d"/><stop offset="0.600" stop-color="#e4853e"/><stop offset="0.629" stop-color="#e37f40"/><stop offset="0.671" stop-color="#e5873d"/><stop offset="0.742" stop-color="#e27f41"/><stop offset="0.833" stop-color="#da634d"/><stop offset="0.979" stop-color="#d85e50"/><stop offset="1.000" stop-color="#d85e50"/></linearGradient><linearGradient id="g35" x1="0" y1="0" x2="0" y2="1"><stop offset="0.000" stop-color="#e4833e"/><stop offset="0.221" stop-color="#e58c3d"/><stop offset="0.250" stop-color="#e99e39"/><stop offset="0.275" stop-color="#ebae39"/><stop offset="0.296" stop-color="#eaaa38"/><stop offset="0.333" stop-color="#e68e3c"/><stop offset="0.375" stop-color="#e5893d"/><stop offset="0.425" stop-color="#e68f3c"/><stop offset="0.446" stop-color="#e3823f"/><stop offset="0.475" stop-color="#d55753"/><stop offset="0.483" stop-color="#d65853"/><stop offset="0.512" stop-color="#e38140"/><stop offset="0.537" stop-color="#e5883d"/><stop offset="0.600" stop-color="#e4853e"/><stop offset="0.629" stop-color="#e38140"/><stop offset="0.675" stop-color="#e5873d"/><stop offset="0.746" stop-color="#e27d41"/><stop offset="0.833" stop-color="#da634d"/><stop offset="0.979" stop-color="#d85e50"/><stop offset="1.000" stop-color="#d85e50"/></linearGradient><linearGradient id="g36" x1="0" y1="0" x2="0" y2="1"><stop offset="0.000" stop-color="#e4833e"/><stop offset="0.225" stop-color="#e58b3d"/><stop offset="0.254" stop-color="#e99c39"/><stop offset="0.279" stop-color="#ebad39"/><stop offset="0.300" stop-color="#eaa938"/><stop offset="0.338" stop-color="#e68e3c"/><stop offset="0.375" stop-color="#e58a3d"/><stop offset="0.421" stop-color="#e6903c"/><stop offset="0.442" stop-color="#e4833e"/><stop offset="0.471" stop-color="#d55554"/><stop offset="0.479" stop-color="#d55554"/><stop offset="0.508" stop-color="#e38040"/><stop offset="0.529" stop-color="#e5883d"/><stop offset="0.600" stop-color="#e4853e"/><stop offset="0.629" stop-color="#e3823f"/><stop offset="0.679" stop-color="#e5873d"/><stop offset="0.746" stop-color="#e27d41"/><stop offset="0.833" stop-color="#da634d"/><stop offset="0.979" stop-color="#d85e50"/><stop offset="1.000" stop-color="#d85e50"/></linearGradient><linearGradient id="g37" x1="0" y1="0" x2="0" y2="1"><stop offset="0.000" stop-color="#e4833e"/><stop offset="0.229" stop-color="#e58b3d"/><stop offset="0.258" stop-color="#e89b3a"/><stop offset="0.283" stop-color="#eaac38"/><stop offset="0.304" stop-color="#eaa838"/><stop offset="0.342" stop-color="#e68e3c"/><stop offset="0.379" stop-color="#e58b3d"/><stop offset="0.417" stop-color="#e6913c"/><stop offset="0.438" stop-color="#e4843e"/><stop offset="0.467" stop-color="#d45455"/><stop offset="0.475" stop-color="#d35256"/><stop offset="0.487" stop-color="#da644d"/><stop offset="0.504" stop-color="#e27e41"/><stop offset="0.521" stop-color="#e5873d"/><stop offset="0.600" stop-color="#e4863e"/><stop offset="0.633" stop-color="#e4843e"/><stop offset="0.692" stop-color="#e4863e"/><stop offset="0.758" stop-color="#e17943"/><stop offset="0.833" stop-color="#da634d"/><stop offset="0.979" stop-color="#d85e50"/><stop offset="1.000" stop-color="#d85e50"/></linearGradient><linearGradient id="g38" x1="0" y1="0" x2="0" y2="1"><stop offset="0.000" stop-color="#e4833e"/><stop offset="0.237" stop-color="#e58c3d"/><stop offset="0.267" stop-color="#e99d39"/><stop offset="0.287" stop-color="#eaaa38"/><stop offset="0.308" stop-color="#eaa738"/><stop offset="0.346" stop-color="#e68e3c"/><stop offset="0.379" stop-color="#e58c3d"/><stop offset="0.412" stop-color="#e7923b"/><stop offset="0.433" stop-color="#e4863e"/><stop offset="0.450" stop-color="#dc694b"/><stop offset="0.463" stop-color="#d35256"/><stop offset="0.471" stop-color="#d24e57"/><stop offset="0.479" stop-color="#d65853"/><stop offset="0.500" stop-color="#e27c42"/><stop offset="0.517" stop-color="#e5873d"/><stop offset="0.600" stop-color="#e4863e"/><stop offset="0.642" stop-color="#e4863e"/><stop offset="0.721" stop-color="#e4833e"/><stop offset="0.838" stop-color="#da624e"/><stop offset="1.000" stop-color="#d85e50"/></linearGradient><linearGradient id="g39" x1="0" y1="0" x2="0" y2="1"><stop offset="0.000" stop-color="#e4833e"/><stop offset="0.242" stop-color="#e58b3d"/><stop offset="0.271" stop-color="#e99c39"/><stop offset="0.292" stop-color="#eaa938"/><stop offset="0.312" stop-color="#eaa738"/><stop offset="0.350" stop-color="#e68d3c"/><stop offset="0.379" stop-color="#e68d3c"/><stop offset="0.408" stop-color="#e7933b"/><stop offset="0.425" stop-color="#e58b3d"/><stop offset="0.438" stop-color="#e17b42"/><stop offset="0.458" stop-color="#d35156"/><stop offset="0.467" stop-color="#d04b59"/><stop offset="0.475" stop-color="#d45355"/><stop offset="0.496" stop-color="#e17a43"/><stop offset="0.512" stop-color="#e5873d"/><stop offset="0.604" stop-color="#e4863e"/><stop offset="0.708" stop-color="#e4853e"/><stop offset="0.775" stop-color="#df7346"/><stop offset="0.842" stop-color="#da624e"/><stop offset="1.000" stop-color="#d85e50"/></linearGradient><linearGradient id="g40" x1="0" y1="0" x2="0" y2="1"><stop offset="0.000" stop-color="#e4833e"/><stop offset="0.250" stop-color="#e68c3c"/><stop offset="0.279" stop-color="#e99e39"/><stop offset="0.300" stop-color="#eaa938"/><stop offset="0.321" stop-color="#eaa438"/><stop offset="0.354" stop-color="#e68d3c"/><stop offset="0.379" stop-color="#e68f3c"/><stop offset="0.408" stop-color="#e7943b"/><stop offset="0.425" stop-color="#e5893d"/><stop offset="0.442" stop-color="#dd6c49"/><stop offset="0.454" stop-color="#d25057"/><stop offset="0.463" stop-color="#cf475b"/><stop offset="0.471" stop-color="#d14e58"/><stop offset="0.492" stop-color="#e07744"/><stop offset="0.504" stop-color="#e4843e"/><stop offset="0.550" stop-color="#e5893d"/><stop offset="0.717" stop-color="#e4843e"/><stop offset="0.838" stop-color="#da624e"/><stop offset="1.000" stop-color="#d85e50"/></linearGradient><linearGradient id="g41" x1="0" y1="0" x2="0" y2="1"><stop offset="0.000" stop-color="#e4833e"/><stop offset="0.254" stop-color="#e58c3d"/><stop offset="0.283" stop-color="#e99d39"/><stop offset="0.304" stop-color="#eaa838"/><stop offset="0.325" stop-color="#eaa338"/><stop offset="0.354" stop-color="#e68f3c"/><stop offset="0.379" stop-color="#e6913c"/><stop offset="0.404" stop-color="#e7963b"/><stop offset="0.421" stop-color="#e58b3d"/><stop offset="0.433" stop-color="#e07744"/><stop offset="0.454" stop-color="#cf485a"/><stop offset="0.463" stop-color="#cd445c"/><stop offset="0.471" stop-color="#d24f57"/><stop offset="0.487" stop-color="#df7446"/><stop offset="0.500" stop-color="#e4833e"/><stop offset="0.529" stop-color="#e5893d"/><stop offset="0.713" stop-color="#e4843e"/><stop offset="0.783" stop-color="#de7047"/><stop offset="0.850" stop-color="#da614e"/><stop offset="1.000" stop-color="#d85e50"/></linearGradient><linearGradient id="g42" x1="0" y1="0" x2="0" y2="1"><stop offset="0.000" stop-color="#e4833e"/><stop offset="0.258" stop-color="#e58b3d"/><stop offset="0.287" stop-color="#e89b3a"/><stop offset="0.308" stop-color="#eaa738"/><stop offset="0.329" stop-color="#eaa238"/><stop offset="0.358" stop-color="#e6903c"/><stop offset="0.383" stop-color="#e7953b"/><stop offset="0.404" stop-color="#e8973a"/><stop offset="0.421" stop-color="#e5893d"/><stop offset="0.433" stop-color="#df7247"/><stop offset="0.450" stop-color="#cf485a"/><stop offset="0.458" stop-color="#cc405e"/><stop offset="0.467" stop-color="#cf485a"/><stop offset="0.487" stop-color="#e07644"/><stop offset="0.500" stop-color="#e4843e"/><stop offset="0.542" stop-color="#e5893d"/><stop offset="0.717" stop-color="#e4843e"/><stop offset="0.838" stop-color="#da624e"/><stop offset="1.000" stop-color="#d85e50"/></linearGradient><linearGradient id="g43" x1="0" y1="0" x2="0" y2="1"><stop offset="0.000" stop-color="#e4833e"/><stop offset="0.267" stop-color="#e68c3c"/><stop offset="0.312" stop-color="#eaa638"/><stop offset="0.333" stop-color="#e9a139"/><stop offset="0.358" stop-color="#e7923b"/><stop offset="0.383" stop-color="#e8973a"/><stop offset="0.404" stop-color="#e8983a"/><stop offset="0.421" stop-color="#e5883d"/><stop offset="0.438" stop-color="#da634e"/><stop offset="0.450" stop-color="#cd425d"/><stop offset="0.458" stop-color="#ca3c60"/><stop offset="0.467" stop-color="#ce465b"/><stop offset="0.483" stop-color="#de7048"/><stop offset="0.496" stop-color="#e3823f"/><stop offset="0.521" stop-color="#e5883d"/><stop offset="0.713" stop-color="#e4843e"/><stop offset="0.783" stop-color="#de7047"/><stop offset="0.850" stop-color="#da614e"/><stop offset="1.000" stop-color="#d85e50"/></linearGradient><linearGradient id="g44" x1="0" y1="0" x2="0" y2="1"><stop offset="0.000" stop-color="#e4833e"/><stop offset="0.267" stop-color="#e68c3c"/><stop offset="0.312" stop-color="#eaa638"/><stop offset="0.333" stop-color="#e9a139"/><stop offset="0.358" stop-color="#e7933b"/><stop offset="0.379" stop-color="#e8993a"/><stop offset="0.400" stop-color="#e9a039"/><stop offset="0.417" stop-color="#e7923b"/><stop offset="0.429" stop-color="#e27c42"/><stop offset="0.450" stop-color="#d04a5a"/><stop offset="0.458" stop-color="#cd445c"/><stop offset="0.467" stop-color="#d14d58"/><stop offset="0.487" stop-color="#e17943"/><stop offset="0.500" stop-color="#e4853e"/><stop offset="0.567" stop-color="#e5893d"/><stop offset="0.717" stop-color="#e4843e"/><stop offset="0.838" stop-color="#da624e"/><stop offset="1.000" stop-color="#d85e50"/></linearGradient><linearGradient id="g45" x1="0" y1="0" x2="0" y2="1"><stop offset="0.000" stop-color="#e4833e"/><stop offset="0.258" stop-color="#e58b3d"/><stop offset="0.287" stop-color="#e89b3a"/><stop offset="0.308" stop-color="#eaa738"/><stop offset="0.329" stop-color="#eaa238"/><stop offset="0.358" stop-color="#e6913c"/><stop offset="0.379" stop-color="#e8983a"/><stop offset="0.400" stop-color="#e9a039"/><stop offset="0.417" stop-color="#e7943b"/><stop offset="0.429" stop-color="#e27e41"/><stop offset="0.450" stop-color="#d0495a"/><stop offset="0.458" stop-color="#cc405e"/><stop offset="0.467" stop-color="#cf475b"/><stop offset="0.487" stop-color="#e07645"/><stop offset="0.500" stop-color="#e4843e"/><stop offset="0.542" stop-color="#e5893d"/><stop offset="0.717" stop-color="#e4843e"/><stop offset="0.838" stop-color="#da624e"/><stop offset="1.000" stop-color="#d85e50"/></linearGradient><linearGradient id="g46" x1="0" y1="0" x2="0" y2="1"><stop offset="0.000" stop-color="#e4833e"/><stop offset="0.254" stop-color="#e58c3d"/><stop offset="0.283" stop-color="#e99d39"/><stop offset="0.304" stop-color="#eaa838"/><stop offset="0.325" stop-color="#eaa338"/><stop offset="0.354" stop-color="#e6903c"/><stop offset="0.375" stop-color="#e7933b"/><stop offset="0.400" stop-color="#e9a039"/><stop offset="0.412" stop-color="#e89b3a"/><stop offset="0.429" stop-color="#e4833f"/><stop offset="0.454" stop-color="#cd435d"/><stop offset="0.463" stop-color="#ca3d60"/><stop offset="0.471" stop-color="#cf485a"/><stop offset="0.487" stop-color="#de7047"/><stop offset="0.500" stop-color="#e3823f"/><stop offset="0.525" stop-color="#e5883d"/><stop offset="0.713" stop-color="#e4843e"/><stop offset="0.783" stop-color="#de7047"/><stop offset="0.850" stop-color="#da614e"/><stop offset="1.000" stop-color="#d85e50"/></linearGradient><linearGradient id="g47" x1="0" y1="0" x2="0" y2="1"><stop offset="0.000" stop-color="#e4833e"/><stop offset="0.250" stop-color="#e68c3c"/><stop offset="0.279" stop-color="#e99e39"/><stop offset="0.300" stop-color="#eaa938"/><stop offset="0.321" stop-color="#eaa438"/><stop offset="0.350" stop-color="#e68f3c"/><stop offset="0.371" stop-color="#e68f3c"/><stop offset="0.400" stop-color="#e9a039"/><stop offset="0.412" stop-color="#e99d39"/><stop offset="0.429" stop-color="#e5883d"/><stop offset="0.446" stop-color="#d85d50"/><stop offset="0.454" stop-color="#ce465b"/><stop offset="0.458" stop-color="#cb3e5f"/><stop offset="0.467" stop-color="#c93b61"/><stop offset="0.475" stop-color="#cf485a"/><stop offset="0.492" stop-color="#df7246"/><stop offset="0.504" stop-color="#e4833f"/><stop offset="0.533" stop-color="#e5893d"/><stop offset="0.713" stop-color="#e4843e"/><stop offset="0.783" stop-color="#de7047"/><stop offset="0.850" stop-color="#da614e"/><stop offset="1.000" stop-color="#d85e50"/></linearGradient><linearGradient id="g48" x1="0" y1="0" x2="0" y2="1"><stop offset="0.000" stop-color="#e4833e"/><stop offset="0.242" stop-color="#e58b3d"/><stop offset="0.271" stop-color="#e99c39"/><stop offset="0.292" stop-color="#eaa938"/><stop offset="0.312" stop-color="#eaa738"/><stop offset="0.350" stop-color="#e68d3c"/><stop offset="0.375" stop-color="#e68f3c"/><stop offset="0.404" stop-color="#e9a039"/><stop offset="0.417" stop-color="#e99c39"/><stop offset="0.429" stop-color="#e68d3c"/><stop offset="0.442" stop-color="#de7147"/><stop offset="0.458" stop-color="#cc405e"/><stop offset="0.467" stop-color="#c53963"/><stop offset="0.475" stop-color="#cb3e5f"/><stop offset="0.496" stop-color="#df7346"/><stop offset="0.508" stop-color="#e4833e"/><stop offset="0.537" stop-color="#e5893d"/><stop offset="0.713" stop-color="#e4843e"/><stop offset="0.783" stop-color="#de7047"/><stop offset="0.850" stop-color="#da614e"/><stop offset="1.000" stop-color="#d85e50"/></linearGradient><linearGradient id="g49" x1="0" y1="0" x2="0" y2="1"><stop offset="0.000" stop-color="#e4833e"/><stop offset="0.237" stop-color="#e58c3d"/><stop offset="0.267" stop-color="#e99d39"/><stop offset="0.287" stop-color="#eaaa38"/><stop offset="0.308" stop-color="#eaa738"/><stop offset="0.346" stop-color="#e68e3c"/><stop offset="0.371" stop-color="#e58c3d"/><stop offset="0.408" stop-color="#e9a039"/><stop offset="0.421" stop-color="#e89c3a"/><stop offset="0.433" stop-color="#e58b3d"/><stop offset="0.446" stop-color="#dd6e48"/><stop offset="0.463" stop-color="#ca3c60"/><stop offset="0.471" stop-color="#c33865"/><stop offset="0.479" stop-color="#ca3d60"/><stop offset="0.500" stop-color="#df7446"/><stop offset="0.512" stop-color="#e4843e"/><stop offset="0.546" stop-color="#e5893d"/><stop offset="0.717" stop-color="#e4843e"/><stop offset="0.838" stop-color="#da624e"/><stop offset="1.000" stop-color="#d85e50"/></linearGradient><linearGradient id="g50" x1="0" y1="0" x2="0" y2="1"><stop offset="0.000" stop-color="#e4833e"/><stop offset="0.229" stop-color="#e58b3d"/><stop offset="0.258" stop-color="#e89b3a"/><stop offset="0.283" stop-color="#eaac38"/><stop offset="0.304" stop-color="#eaa838"/><stop offset="0.342" stop-color="#e68e3c"/><stop offset="0.371" stop-color="#e58b3d"/><stop offset="0.412" stop-color="#e9a039"/><stop offset="0.425" stop-color="#e89b3a"/><stop offset="0.438" stop-color="#e58a3d"/><stop offset="0.450" stop-color="#dd6b4a"/><stop offset="0.463" stop-color="#cd435d"/><stop offset="0.467" stop-color="#c73a62"/><stop offset="0.475" stop-color="#c13766"/><stop offset="0.483" stop-color="#ca3d60"/><stop offset="0.500" stop-color="#dd6c49"/><stop offset="0.512" stop-color="#e38140"/><stop offset="0.533" stop-color="#e5883d"/><stop offset="0.713" stop-color="#e4843e"/><stop offset="0.783" stop-color="#de7047"/><stop offset="0.850" stop-color="#da614e"/><stop offset="1.000" stop-color="#d85e50"/></linearGradient><linearGradient id="g51" x1="0" y1="0" x2="0" y2="1"><stop offset="0.000" stop-color="#e4833e"/><stop offset="0.225" stop-color="#e58b3d"/><stop offset="0.254" stop-color="#e99c39"/><stop offset="0.279" stop-color="#ebad39"/><stop offset="0.300" stop-color="#eaa938"/><stop offset="0.338" stop-color="#e68e3c"/><stop offset="0.371" stop-color="#e58a3d"/><stop offset="0.396" stop-color="#e7953b"/><stop offset="0.417" stop-color="#e9a039"/><stop offset="0.429" stop-color="#e89a3a"/><stop offset="0.442" stop-color="#e5893d"/><stop offset="0.454" stop-color="#dc694b"/><stop offset="0.467" stop-color="#cc415e"/><stop offset="0.475" stop-color="#c23765"/><stop offset="0.483" stop-color="#c53963"/><stop offset="0.487" stop-color="#cb3e5f"/><stop offset="0.504" stop-color="#dd6e49"/><stop offset="0.517" stop-color="#e3813f"/><stop offset="0.537" stop-color="#e5883d"/><stop offset="0.713" stop-color="#e4843e"/><stop offset="0.783" stop-color="#de7047"/><stop offset="0.850" stop-color="#da614e"/><stop offset="1.000" stop-color="#d85e50"/></linearGradient><linearGradient id="g52" x1="0" y1="0" x2="0" y2="1"><stop offset="0.000" stop-color="#e4833e"/><stop offset="0.221" stop-color="#e58c3d"/><stop offset="0.250" stop-color="#e99e39"/><stop offset="0.275" stop-color="#ebae39"/><stop offset="0.296" stop-color="#eaaa38"/><stop offset="0.333" stop-color="#e68e3c"/><stop offset="0.371" stop-color="#e58a3d"/><stop offset="0.396" stop-color="#e7933b"/><stop offset="0.421" stop-color="#e9a039"/><stop offset="0.433" stop-color="#e89a3a"/><stop offset="0.446" stop-color="#e5873d"/><stop offset="0.458" stop-color="#db674c"/><stop offset="0.471" stop-color="#cb3f5e"/><stop offset="0.479" stop-color="#c23766"/><stop offset="0.487" stop-color="#c63a63"/><stop offset="0.492" stop-color="#cc405e"/><stop offset="0.508" stop-color="#de6f48"/><stop offset="0.521" stop-color="#e3823f"/><stop offset="0.546" stop-color="#e5883d"/><stop offset="0.717" stop-color="#e4843e"/><stop offset="0.838" stop-color="#da624e"/><stop offset="1.000" stop-color="#d85e50"/></linearGradient><linearGradient id="g53" x1="0" y1="0" x2="0" y2="1"><stop offset="0.000" stop-color="#e4833e"/><stop offset="0.212" stop-color="#e58b3d"/><stop offset="0.237" stop-color="#e8983a"/><stop offset="0.267" stop-color="#ebae39"/><stop offset="0.287" stop-color="#ebad39"/><stop offset="0.333" stop-color="#e68d3c"/><stop offset="0.379" stop-color="#e58a3d"/><stop offset="0.404" stop-color="#e7963b"/><stop offset="0.425" stop-color="#e9a039"/><stop offset="0.438" stop-color="#e8993a"/><stop offset="0.450" stop-color="#e4863e"/><stop offset="0.463" stop-color="#db654c"/><stop offset="0.475" stop-color="#cb3e5f"/><stop offset="0.483" stop-color="#c13766"/><stop offset="0.492" stop-color="#c73a62"/><stop offset="0.500" stop-color="#d14e58"/><stop offset="0.512" stop-color="#de7047"/><stop offset="0.525" stop-color="#e4823f"/><stop offset="0.550" stop-color="#e5883d"/><stop offset="0.717" stop-color="#e4843e"/><stop offset="0.838" stop-color="#da624e"/><stop offset="1.000" stop-color="#d85e50"/></linearGradient><linearGradient id="g54" x1="0" y1="0" x2="0" y2="1"><stop offset="0.000" stop-color="#e4833e"/><stop offset="0.208" stop-color="#e58b3d"/><stop offset="0.233" stop-color="#e8993a"/><stop offset="0.263" stop-color="#ebaf39"/><stop offset="0.283" stop-color="#ebad39"/><stop offset="0.329" stop-color="#e68d3c"/><stop offset="0.379" stop-color="#e58a3d"/><stop offset="0.404" stop-color="#e7933b"/><stop offset="0.425" stop-color="#e9a039"/><stop offset="0.438" stop-color="#e99c39"/><stop offset="0.450" stop-color="#e68d3c"/><stop offset="0.463" stop-color="#de7048"/><stop offset="0.479" stop-color="#ca3c60"/><stop offset="0.487" stop-color="#c13766"/><stop offset="0.496" stop-color="#c83b62"/><stop offset="0.504" stop-color="#d24f57"/><stop offset="0.517" stop-color="#df7247"/><stop offset="0.529" stop-color="#e4833f"/><stop offset="0.558" stop-color="#e5893d"/><stop offset="0.717" stop-color="#e4843e"/><stop offset="0.838" stop-color="#da624e"/><stop offset="1.000" stop-color="#d85e50"/></linearGradient><linearGradient id="g55" x1="0" y1="0" x2="0" y2="1"><stop offset="0.000" stop-color="#e4833e"/><stop offset="0.204" stop-color="#e58c3d"/><stop offset="0.229" stop-color="#e89a3a"/><stop offset="0.258" stop-color="#ebb039"/><stop offset="0.279" stop-color="#ebae39"/><stop offset="0.325" stop-color="#e68d3c"/><stop offset="0.379" stop-color="#e5893d"/><stop offset="0.404" stop-color="#e6913c"/><stop offset="0.429" stop-color="#e9a039"/><stop offset="0.442" stop-color="#e89c3a"/><stop offset="0.454" stop-color="#e58c3d"/><stop offset="0.467" stop-color="#de6e48"/><stop offset="0.483" stop-color="#c93b61"/><stop offset="0.492" stop-color="#c13766"/><stop offset="0.500" stop-color="#c93b61"/><stop offset="0.521" stop-color="#df7346"/><stop offset="0.533" stop-color="#e4833e"/><stop offset="0.562" stop-color="#e5893d"/><stop offset="0.717" stop-color="#e4843e"/><stop offset="0.838" stop-color="#da624e"/><stop offset="1.000" stop-color="#d85e50"/></linearGradient><linearGradient id="g56" x1="0" y1="0" x2="0" y2="1"><stop offset="0.000" stop-color="#e4833e"/><stop offset="0.196" stop-color="#e58b3d"/><stop offset="0.221" stop-color="#e8983a"/><stop offset="0.254" stop-color="#ebb139"/><stop offset="0.275" stop-color="#ebaf39"/><stop offset="0.321" stop-color="#e68e3c"/><stop offset="0.375" stop-color="#e5893d"/><stop offset="0.404" stop-color="#e68f3c"/><stop offset="0.433" stop-color="#e9a039"/><stop offset="0.446" stop-color="#e89b3a"/><stop offset="0.458" stop-color="#e58b3d"/><stop offset="0.471" stop-color="#dd6d49"/><stop offset="0.483" stop-color="#cd445c"/><stop offset="0.487" stop-color="#c83b61"/><stop offset="0.496" stop-color="#c13766"/><stop offset="0.504" stop-color="#ca3c60"/><stop offset="0.521" stop-color="#dd6b4a"/><stop offset="0.533" stop-color="#e38040"/><stop offset="0.554" stop-color="#e5883d"/><stop offset="0.717" stop-color="#e4843e"/><stop offset="0.838" stop-color="#da634e"/><stop offset="1.000" stop-color="#d85e50"/></linearGradient><linearGradient id="g57" x1="0" y1="0" x2="0" y2="1"><stop offset="0.000" stop-color="#e4833e"/><stop offset="0.192" stop-color="#e58b3d"/><stop offset="0.217" stop-color="#e8993a"/><stop offset="0.246" stop-color="#ebb039"/><stop offset="0.267" stop-color="#ebb239"/><stop offset="0.317" stop-color="#e68e3c"/><stop offset="0.371" stop-color="#e5893d"/><stop offset="0.404" stop-color="#e68d3c"/><stop offset="0.438" stop-color="#e9a039"/><stop offset="0.450" stop-color="#e89b3a"/><stop offset="0.463" stop-color="#e58a3d"/><stop offset="0.475" stop-color="#dd6b4a"/><stop offset="0.487" stop-color="#cd435d"/><stop offset="0.492" stop-color="#c73a62"/><stop offset="0.500" stop-color="#c13766"/><stop offset="0.508" stop-color="#ca3d60"/><stop offset="0.525" stop-color="#dd6c49"/><stop offset="0.537" stop-color="#e38140"/><stop offset="0.558" stop-color="#e5883d"/><stop offset="0.717" stop-color="#e4843e"/><stop offset="0.838" stop-color="#da634d"/><stop offset="1.000" stop-color="#d95f50"/></linearGradient><linearGradient id="g58" x1="0" y1="0" x2="0" y2="1"><stop offset="0.000" stop-color="#e4833e"/><stop offset="0.188" stop-color="#e58c3d"/><stop offset="0.212" stop-color="#e89a3a"/><stop offset="0.242" stop-color="#ebb239"/><stop offset="0.263" stop-color="#ebb339"/><stop offset="0.312" stop-color="#e68e3c"/><stop offset="0.362" stop-color="#e5893d"/><stop offset="0.408" stop-color="#e68d3c"/><stop offset="0.442" stop-color="#e9a039"/><stop offset="0.454" stop-color="#e89a3a"/><stop offset="0.467" stop-color="#e5893d"/><stop offset="0.479" stop-color="#dc694b"/><stop offset="0.492" stop-color="#cc415e"/><stop offset="0.500" stop-color="#c23765"/><stop offset="0.508" stop-color="#c53963"/><stop offset="0.512" stop-color="#cb3e5f"/><stop offset="0.529" stop-color="#dd6d49"/><stop offset="0.542" stop-color="#e3813f"/><stop offset="0.562" stop-color="#e5883d"/><stop offset="0.717" stop-color="#e4843e"/><stop offset="0.838" stop-color="#da644d"/><stop offset="1.000" stop-color="#d95f4f"/></linearGradient><linearGradient id="g59" x1="0" y1="0" x2="0" y2="1"><stop offset="0.000" stop-color="#e4833e"/><stop offset="0.179" stop-color="#e58b3d"/><stop offset="0.204" stop-color="#e8973a"/><stop offset="0.237" stop-color="#ebb339"/><stop offset="0.258" stop-color="#ebb339"/><stop offset="0.308" stop-color="#e68e3c"/><stop offset="0.358" stop-color="#e5893d"/><stop offset="0.408" stop-color="#e58c3d"/><stop offset="0.446" stop-color="#e9a039"/><stop offset="0.458" stop-color="#e89a3a"/><stop offset="0.471" stop-color="#e5883d"/><stop offset="0.483" stop-color="#dc684b"/><stop offset="0.496" stop-color="#cc405e"/><stop offset="0.504" stop-color="#c23765"/><stop offset="0.512" stop-color="#c63963"/><stop offset="0.517" stop-color="#cb3f5e"/><stop offset="0.533" stop-color="#de6f48"/><stop offset="0.546" stop-color="#e3823f"/><stop offset="0.571" stop-color="#e5883d"/><stop offset="0.721" stop-color="#e4833e"/><stop offset="0.838" stop-color="#db644d"/><stop offset="1.000" stop-color="#d9604f"/></linearGradient><linearGradient id="g60" x1="0" y1="0" x2="0" y2="1"><stop offset="0.000" stop-color="#e4833e"/><stop offset="0.175" stop-color="#e58b3d"/><stop offset="0.200" stop-color="#e8993a"/><stop offset="0.233" stop-color="#ebb439"/><stop offset="0.254" stop-color="#ebb439"/><stop offset="0.304" stop-color="#e68f3c"/><stop offset="0.354" stop-color="#e5893d"/><stop offset="0.412" stop-color="#e68c3c"/><stop offset="0.446" stop-color="#e9a039"/><stop offset="0.458" stop-color="#e99d39"/><stop offset="0.471" stop-color="#e68e3c"/><stop offset="0.483" stop-color="#df7246"/><stop offset="0.500" stop-color="#cb3f5f"/><stop offset="0.508" stop-color="#c23765"/><stop offset="0.517" stop-color="#c73a62"/><stop offset="0.525" stop-color="#d14d58"/><stop offset="0.537" stop-color="#de7048"/><stop offset="0.550" stop-color="#e3823f"/><stop offset="0.575" stop-color="#e5883d"/><stop offset="0.721" stop-color="#e4833e"/><stop offset="0.838" stop-color="#db654d"/><stop offset="1.000" stop-color="#d9604f"/></linearGradient><linearGradient id="g61" x1="0" y1="0" x2="0" y2="1"><stop offset="0.000" stop-color="#e4833e"/><stop offset="0.171" stop-color="#e58b3d"/><stop offset="0.196" stop-color="#e89a3a"/><stop offset="0.229" stop-color="#ebb539"/><stop offset="0.250" stop-color="#ebb539"/><stop offset="0.300" stop-color="#e68f3c"/><stop offset="0.346" stop-color="#e5893d"/><stop offset="0.417" stop-color="#e68c3c"/><stop offset="0.450" stop-color="#e9a039"/><stop offset="0.463" stop-color="#e99d39"/><stop offset="0.475" stop-color="#e68d3c"/><stop offset="0.487" stop-color="#de7147"/><stop offset="0.504" stop-color="#cb3e5f"/><stop offset="0.512" stop-color="#c23765"/><stop offset="0.521" stop-color="#c83b62"/><stop offset="0.529" stop-color="#d24f57"/><stop offset="0.542" stop-color="#de7147"/><stop offset="0.554" stop-color="#e4833f"/><stop offset="0.583" stop-color="#e5893d"/><stop offset="0.721" stop-color="#e4843e"/><stop offset="0.838" stop-color="#db654d"/><stop offset="1.000" stop-color="#da614e"/></linearGradient><linearGradient id="g62" x1="0" y1="0" x2="0" y2="1"><stop offset="0.000" stop-color="#e4833e"/><stop offset="0.163" stop-color="#e58b3d"/><stop offset="0.188" stop-color="#e8973a"/><stop offset="0.225" stop-color="#ebb639"/><stop offset="0.246" stop-color="#ebb639"/><stop offset="0.296" stop-color="#e68f3c"/><stop offset="0.342" stop-color="#e5893d"/><stop offset="0.417" stop-color="#e58b3d"/><stop offset="0.454" stop-color="#e9a039"/><stop offset="0.467" stop-color="#e99c39"/><stop offset="0.479" stop-color="#e68d3c"/><stop offset="0.492" stop-color="#de7048"/><stop offset="0.508" stop-color="#ca3d60"/><stop offset="0.517" stop-color="#c23765"/><stop offset="0.525" stop-color="#c93b61"/><stop offset="0.546" stop-color="#df7246"/><stop offset="0.558" stop-color="#e4833e"/><stop offset="0.588" stop-color="#e5893d"/><stop offset="0.721" stop-color="#e4843e"/><stop offset="0.838" stop-color="#db664c"/><stop offset="1.000" stop-color="#da624e"/></linearGradient><linearGradient id="g63" x1="0" y1="0" x2="0" y2="1"><stop offset="0.000" stop-color="#e4833e"/><stop offset="0.158" stop-color="#e58b3d"/><stop offset="0.183" stop-color="#e8983a"/><stop offset="0.221" stop-color="#ebb739"/><stop offset="0.242" stop-color="#ebb739"/><stop offset="0.292" stop-color="#e68f3c"/><stop offset="0.333" stop-color="#e5893d"/><stop offset="0.421" stop-color="#e58b3d"/><stop offset="0.458" stop-color="#e9a039"/><stop offset="0.471" stop-color="#e89c3a"/><stop offset="0.483" stop-color="#e58c3d"/><stop offset="0.496" stop-color="#de6e48"/><stop offset="0.512" stop-color="#ca3c60"/><stop offset="0.521" stop-color="#c23765"/><stop offset="0.529" stop-color="#ca3c60"/><stop offset="0.550" stop-color="#df7346"/><stop offset="0.562" stop-color="#e4833e"/><stop offset="0.596" stop-color="#e5893d"/><stop offset="0.725" stop-color="#e4833e"/><stop offset="0.838" stop-color="#db664c"/><stop offset="1.000" stop-color="#da624e"/></linearGradient><linearGradient id="g64" x1="0" y1="0" x2="0" y2="1"><stop offset="0.000" stop-color="#e4833e"/><stop offset="0.154" stop-color="#e58b3d"/><stop offset="0.179" stop-color="#e8993a"/><stop offset="0.217" stop-color="#ebb939"/><stop offset="0.237" stop-color="#ebb739"/><stop offset="0.287" stop-color="#e6903c"/><stop offset="0.329" stop-color="#e5893d"/><stop offset="0.425" stop-color="#e58b3d"/><stop offset="0.463" stop-color="#e9a039"/><stop offset="0.475" stop-color="#e89b3a"/><stop offset="0.487" stop-color="#e58b3d"/><stop offset="0.500" stop-color="#dd6d49"/><stop offset="0.517" stop-color="#c93c61"/><stop offset="0.525" stop-color="#c33865"/><stop offset="0.533" stop-color="#ca3d60"/><stop offset="0.550" stop-color="#dd6b4a"/><stop offset="0.562" stop-color="#e38040"/><stop offset="0.583" stop-color="#e5883d"/><stop offset="0.721" stop-color="#e4843e"/><stop offset="0.838" stop-color="#db674c"/><stop offset="1.000" stop-color="#da634e"/></linearGradient><linearGradient id="g65" x1="0" y1="0" x2="0" y2="1"><stop offset="0.000" stop-color="#e4833e"/><stop offset="0.146" stop-color="#e58a3d"/><stop offset="0.171" stop-color="#e8973a"/><stop offset="0.208" stop-color="#ebb839"/><stop offset="0.229" stop-color="#ebba39"/><stop offset="0.263" stop-color="#e9a039"/><stop offset="0.287" stop-color="#e68e3c"/><stop offset="0.342" stop-color="#e5893d"/><stop offset="0.429" stop-color="#e58c3d"/><stop offset="0.467" stop-color="#e9a039"/><stop offset="0.479" stop-color="#e89b3a"/><stop offset="0.492" stop-color="#e58a3d"/><stop offset="0.504" stop-color="#dd6c4a"/><stop offset="0.517" stop-color="#cd445c"/><stop offset="0.521" stop-color="#c93b61"/><stop offset="0.529" stop-color="#c33865"/><stop offset="0.537" stop-color="#cb3e5f"/><stop offset="0.554" stop-color="#dd6d49"/><stop offset="0.567" stop-color="#e3813f"/><stop offset="0.588" stop-color="#e5883d"/><stop offset="0.721" stop-color="#e4843e"/><stop offset="0.838" stop-color="#db674c"/><stop offset="1.000" stop-color="#da634d"/></linearGradient><linearGradient id="g66" x1="0" y1="0" x2="0" y2="1"><stop offset="0.000" stop-color="#e4833e"/><stop offset="0.142" stop-color="#e58a3d"/><stop offset="0.167" stop-color="#e8983a"/><stop offset="0.204" stop-color="#ebb939"/><stop offset="0.225" stop-color="#ebbb39"/><stop offset="0.258" stop-color="#e9a139"/><stop offset="0.283" stop-color="#e68e3c"/><stop offset="0.333" stop-color="#e5893d"/><stop offset="0.433" stop-color="#e58c3d"/><stop offset="0.471" stop-color="#e9a039"/><stop offset="0.483" stop-color="#e89a3a"/><stop offset="0.496" stop-color="#e5893d"/><stop offset="0.508" stop-color="#dc6a4a"/><stop offset="0.521" stop-color="#cd435d"/><stop offset="0.525" stop-color="#c83b61"/><stop offset="0.533" stop-color="#c33865"/><stop offset="0.542" stop-color="#cc405e"/><stop offset="0.558" stop-color="#de6e48"/><stop offset="0.571" stop-color="#e3813f"/><stop offset="0.592" stop-color="#e5883d"/><stop offset="0.725" stop-color="#e4833e"/><stop offset="0.838" stop-color="#dc674b"/><stop offset="1.000" stop-color="#db644d"/></linearGradient><linearGradient id="g67" x1="0" y1="0" x2="0" y2="1"><stop offset="0.000" stop-color="#e4833e"/><stop offset="0.133" stop-color="#e58a3d"/><stop offset="0.163" stop-color="#e8993a"/><stop offset="0.200" stop-color="#ebba39"/><stop offset="0.221" stop-color="#ebbc39"/><stop offset="0.254" stop-color="#e9a139"/><stop offset="0.279" stop-color="#e68f3c"/><stop offset="0.329" stop-color="#e5893d"/><stop offset="0.433" stop-color="#e58b3d"/><stop offset="0.475" stop-color="#e9a039"/><stop offset="0.487" stop-color="#e89a3a"/><stop offset="0.500" stop-color="#e5883d"/><stop offset="0.512" stop-color="#dc694b"/><stop offset="0.525" stop-color="#cc425d"/><stop offset="0.529" stop-color="#c83b62"/><stop offset="0.537" stop-color="#c43864"/><stop offset="0.546" stop-color="#cc415d"/><stop offset="0.562" stop-color="#de6f48"/><stop offset="0.575" stop-color="#e3823f"/><stop offset="0.600" stop-color="#e5883d"/><stop offset="0.725" stop-color="#e4833e"/><stop offset="0.838" stop-color="#dc684b"/><stop offset="1.000" stop-color="#db644d"/></linearGradient><linearGradient id="g68" x1="0" y1="0" x2="0" y2="1"><stop offset="0.000" stop-color="#e4833e"/><stop offset="0.129" stop-color="#e58a3d"/><stop offset="0.154" stop-color="#e7963b"/><stop offset="0.196" stop-color="#ebbb39"/><stop offset="0.217" stop-color="#ebbd39"/><stop offset="0.254" stop-color="#e99d39"/><stop offset="0.279" stop-color="#e68d3c"/><stop offset="0.350" stop-color="#e5893d"/><stop offset="0.438" stop-color="#e58b3d"/><stop offset="0.479" stop-color="#e9a039"/><stop offset="0.492" stop-color="#e8993a"/><stop offset="0.504" stop-color="#e5873d"/><stop offset="0.517" stop-color="#dc674b"/><stop offset="0.529" stop-color="#cc415e"/><stop offset="0.537" stop-color="#c43864"/><stop offset="0.546" stop-color="#c83b61"/><stop offset="0.554" stop-color="#d24f57"/><stop offset="0.567" stop-color="#de7047"/><stop offset="0.579" stop-color="#e3823f"/><stop offset="0.604" stop-color="#e5883d"/><stop offset="0.729" stop-color="#e4833f"/><stop offset="0.838" stop-color="#dc684b"/><stop offset="1.000" stop-color="#db654d"/></linearGradient><linearGradient id="g69" x1="0" y1="0" x2="0" y2="1"><stop offset="0.000" stop-color="#e4833e"/><stop offset="0.125" stop-color="#e58a3d"/><stop offset="0.150" stop-color="#e8973a"/><stop offset="0.192" stop-color="#ebbc39"/><stop offset="0.212" stop-color="#ebbd39"/><stop offset="0.267" stop-color="#e6913c"/><stop offset="0.304" stop-color="#e5893d"/><stop offset="0.442" stop-color="#e58b3d"/><stop offset="0.479" stop-color="#e9a039"/><stop offset="0.492" stop-color="#e99d39"/><stop offset="0.504" stop-color="#e68e3c"/><stop offset="0.517" stop-color="#df7246"/><stop offset="0.533" stop-color="#cc405e"/><stop offset="0.542" stop-color="#c43864"/><stop offset="0.550" stop-color="#c93c61"/><stop offset="0.571" stop-color="#df7147"/><stop offset="0.583" stop-color="#e4833f"/><stop offset="0.613" stop-color="#e5883d"/><stop offset="0.729" stop-color="#e4833f"/><stop offset="0.838" stop-color="#dc694b"/><stop offset="1.000" stop-color="#db654c"/></linearGradient><linearGradient id="g70" x1="0" y1="0" x2="0" y2="1"><stop offset="0.000" stop-color="#e4833e"/><stop offset="0.117" stop-color="#e5893d"/><stop offset="0.146" stop-color="#e8983a"/><stop offset="0.188" stop-color="#ecbe3a"/><stop offset="0.208" stop-color="#ecbe3a"/><stop offset="0.258" stop-color="#e7943b"/><stop offset="0.292" stop-color="#e58a3d"/><stop offset="0.446" stop-color="#e58b3d"/><stop offset="0.483" stop-color="#e9a039"/><stop offset="0.496" stop-color="#e99c39"/><stop offset="0.508" stop-color="#e68d3c"/><stop offset="0.521" stop-color="#de7147"/><stop offset="0.537" stop-color="#cb3f5f"/><stop offset="0.546" stop-color="#c43864"/><stop offset="0.554" stop-color="#ca3c60"/><stop offset="0.575" stop-color="#df7346"/><stop offset="0.588" stop-color="#e4833e"/><stop offset="0.617" stop-color="#e5883d"/><stop offset="0.733" stop-color="#e3823f"/><stop offset="0.838" stop-color="#dc694b"/><stop offset="1.000" stop-color="#db664c"/></linearGradient><linearGradient id="g71" x1="0" y1="0" x2="0" y2="1"><stop offset="0.000" stop-color="#e4833e"/><stop offset="0.113" stop-color="#e5893d"/><stop offset="0.142" stop-color="#e8993a"/><stop offset="0.183" stop-color="#ecbf3a"/><stop offset="0.204" stop-color="#ecbf3a"/><stop offset="0.254" stop-color="#e7943b"/><stop offset="0.287" stop-color="#e58a3d"/><stop offset="0.450" stop-color="#e58b3d"/><stop offset="0.487" stop-color="#e9a039"/><stop offset="0.500" stop-color="#e89c3a"/><stop offset="0.512" stop-color="#e68c3c"/><stop offset="0.525" stop-color="#de6f48"/><stop offset="0.542" stop-color="#cb3e5f"/><stop offset="0.550" stop-color="#c43964"/><stop offset="0.558" stop-color="#cb3e5f"/><stop offset="0.579" stop-color="#df7446"/><stop offset="0.592" stop-color="#e4833e"/><stop offset="0.625" stop-color="#e5883d"/><stop offset="0.733" stop-color="#e3823f"/><stop offset="0.838" stop-color="#dc6a4a"/><stop offset="1.000" stop-color="#db664c"/></linearGradient><linearGradient id="g72" x1="0" y1="0" x2="0" y2="1"><stop offset="0.000" stop-color="#e4833e"/><stop offset="0.108" stop-color="#e5893d"/><stop offset="0.133" stop-color="#e7973b"/><stop offset="0.179" stop-color="#ecc03a"/><stop offset="0.200" stop-color="#ecc03a"/><stop offset="0.250" stop-color="#e7953b"/><stop offset="0.283" stop-color="#e58a3d"/><stop offset="0.454" stop-color="#e58b3d"/><stop offset="0.492" stop-color="#e9a039"/><stop offset="0.504" stop-color="#e89b3a"/><stop offset="0.517" stop-color="#e58b3d"/><stop offset="0.529" stop-color="#de6e48"/><stop offset="0.546" stop-color="#cb3d5f"/><stop offset="0.554" stop-color="#c43964"/><stop offset="0.562" stop-color="#cb3f5f"/><stop offset="0.579" stop-color="#dd6c49"/><stop offset="0.592" stop-color="#e38040"/><stop offset="0.613" stop-color="#e5883d"/><stop offset="0.729" stop-color="#e4833e"/><stop offset="0.842" stop-color="#dc6a4a"/><stop offset="1.000" stop-color="#db674c"/></linearGradient><linearGradient id="g73" x1="0" y1="0" x2="0" y2="1"><stop offset="0.000" stop-color="#e4833e"/><stop offset="0.100" stop-color="#e5883d"/><stop offset="0.129" stop-color="#e8973a"/><stop offset="0.171" stop-color="#ecbf3a"/><stop offset="0.192" stop-color="#ecc23a"/><stop offset="0.221" stop-color="#eaac38"/><stop offset="0.254" stop-color="#e6903c"/><stop offset="0.296" stop-color="#e5893d"/><stop offset="0.458" stop-color="#e58c3d"/><stop offset="0.496" stop-color="#e9a039"/><stop offset="0.508" stop-color="#e89b3a"/><stop offset="0.521" stop-color="#e58a3d"/><stop offset="0.533" stop-color="#dd6d49"/><stop offset="0.550" stop-color="#ca3d60"/><stop offset="0.558" stop-color="#c53964"/><stop offset="0.567" stop-color="#cc405e"/><stop offset="0.583" stop-color="#dd6d49"/><stop offset="0.596" stop-color="#e3813f"/><stop offset="0.617" stop-color="#e5883d"/><stop offset="0.733" stop-color="#e4823f"/><stop offset="0.842" stop-color="#dc6a4a"/><stop offset="1.000" stop-color="#dc674b"/></linearGradient><linearGradient id="g74" x1="0" y1="0" x2="0" y2="1"><stop offset="0.000" stop-color="#000000"/><stop offset="0.017" stop-color="#020305"/><stop offset="0.033" stop-color="#05060a"/><stop offset="0.050" stop-color="#070910"/><stop offset="0.067" stop-color="#0a0b15"/><stop offset="0.083" stop-color="#0c0f1c"/><stop offset="0.100" stop-color="#0f1323"/><stop offset="0.117" stop-color="#11172b"/><stop offset="0.133" stop-color="#141b32"/><stop offset="0.150" stop-color="#16203a"/><stop offset="0.167" stop-color="#192441"/><stop offset="0.183" stop-color="#1c2849"/><stop offset="0.200" stop-color="#1e2c50"/><stop offset="0.217" stop-color="#213158"/><stop offset="0.233" stop-color="#243560"/><stop offset="0.250" stop-color="#263967"/><stop offset="0.267" stop-color="#2a3d6e"/><stop offset="0.283" stop-color="#2f4074"/><stop offset="0.300" stop-color="#34437a"/><stop offset="0.317" stop-color="#384680"/><stop offset="0.333" stop-color="#3d4986"/><stop offset="0.350" stop-color="#424c8c"/><stop offset="0.367" stop-color="#4d4a8c"/><stop offset="0.383" stop-color="#58488c"/><stop offset="0.400" stop-color="#63458c"/><stop offset="0.417" stop-color="#70428a"/><stop offset="0.433" stop-color="#7f3c85"/><stop offset="0.450" stop-color="#8e3680"/><stop offset="0.467" stop-color="#9d3379"/><stop offset="0.483" stop-color="#ac2f73"/><stop offset="0.500" stop-color="#b8326c"/><stop offset="0.517" stop-color="#c23765"/><stop offset="0.533" stop-color="#cb3f5f"/><stop offset="0.550" stop-color="#d04b59"/><stop offset="0.567" stop-color="#d65853"/><stop offset="0.583" stop-color="#db644d"/><stop offset="0.600" stop-color="#de7048"/><stop offset="0.617" stop-color="#e17b42"/><stop offset="0.633" stop-color="#e4863e"/><stop offset="0.650" stop-color="#e6913c"/><stop offset="0.667" stop-color="#e89b3a"/><stop offset="0.683" stop-color="#eaa638"/><stop offset="0.700" stop-color="#ebae39"/><stop offset="0.717" stop-color="#ebb639"/><stop offset="0.733" stop-color="#ecbe3a"/><stop offset="0.750" stop-color="#ecc63a"/><stop offset="0.767" stop-color="#eccc3f"/><stop offset="0.783" stop-color="#ecd244"/><stop offset="0.800" stop-color="#edd948"/><stop offset="0.817" stop-color="#eddf4d"/><stop offset="0.833" stop-color="#eee35e"/><stop offset="0.850" stop-color="#f0e671"/><stop offset="0.867" stop-color="#f1ea85"/><stop offset="0.883" stop-color="#f2ee98"/><stop offset="0.900" stop-color="#f4f0aa"/><stop offset="0.917" stop-color="#f6f3bc"/><stop offset="0.933" stop-color="#f7f5cd"/><stop offset="0.950" stop-color="#f9f7de"/><stop offset="0.967" stop-color="#faf9e7"/><stop offset="0.983" stop-color="#fcfbf1"/><stop offset="1.000" stop-color="#fdfdfa"/></linearGradient><linearGradient id="cv1" gradientUnits="userSpaceOnUse" x1="553" y1="0" x2="596" y2="0"><stop offset="0" stop-color="#8fb8ea"/><stop offset="0.22" stop-color="#3d7fd0"/><stop offset="0.8" stop-color="#2a66bd"/><stop offset="1" stop-color="#24308a"/></linearGradient><linearGradient id="cv3" gradientUnits="userSpaceOnUse" x1="650" y1="0" x2="673" y2="0"><stop offset="0" stop-color="#23307e"/><stop offset="0.2" stop-color="#2a4fa8"/><stop offset="0.45" stop-color="#3f78c8"/><stop offset="0.72" stop-color="#80a8e0"/><stop offset="1" stop-color="#d2e2f6"/></linearGradient><radialGradient id="bk" cx="0.42" cy="0.38" r="0.65"><stop offset="0" stop-color="#6a6a6a"/><stop offset="0.35" stop-color="#1a1a1a"/><stop offset="1" stop-color="#000"/></radialGradient><radialGradient id="rd" cx="0.42" cy="0.38" r="0.65"><stop offset="0" stop-color="#e06070"/><stop offset="0.35" stop-color="#b01020"/><stop offset="1" stop-color="#6a0008"/></radialGradient><radialGradient id="nv" cx="0.42" cy="0.38" r="0.65"><stop offset="0" stop-color="#5a60b0"/><stop offset="0.35" stop-color="#1e2078"/><stop offset="1" stop-color="#0a0a40"/></radialGradient><linearGradient id="g75" x1="0" y1="0" x2="0" y2="1"><stop offset="0.000" stop-color="#edd545"/><stop offset="0.062" stop-color="#eccc3f"/><stop offset="0.087" stop-color="#ecbe3a"/><stop offset="0.125" stop-color="#e99e39"/><stop offset="0.144" stop-color="#e27f40"/><stop offset="0.163" stop-color="#d24f57"/><stop offset="0.169" stop-color="#cb3e5f"/><stop offset="0.181" stop-color="#b8326c"/><stop offset="0.188" stop-color="#b42f6f"/><stop offset="0.194" stop-color="#b42f6f"/><stop offset="0.206" stop-color="#bf3667"/><stop offset="0.212" stop-color="#ca3c60"/><stop offset="0.231" stop-color="#dd6c49"/><stop offset="0.244" stop-color="#e4863e"/><stop offset="0.263" stop-color="#e99e39"/><stop offset="0.287" stop-color="#eaab38"/><stop offset="0.350" stop-color="#ebb439"/><stop offset="0.475" stop-color="#eaab38"/><stop offset="0.613" stop-color="#ebba39"/><stop offset="0.825" stop-color="#eaa238"/><stop offset="0.912" stop-color="#e7963b"/><stop offset="1.000" stop-color="#e17a43"/></linearGradient><linearGradient id="g76" x1="0" y1="0" x2="0" y2="1"><stop offset="0.000" stop-color="#eccb3e"/><stop offset="0.062" stop-color="#ecc53a"/><stop offset="0.131" stop-color="#e9a139"/><stop offset="0.163" stop-color="#e3813f"/><stop offset="0.181" stop-color="#de7047"/><stop offset="0.194" stop-color="#de6e48"/><stop offset="0.212" stop-color="#e17a43"/><stop offset="0.244" stop-color="#e8993a"/><stop offset="0.269" stop-color="#eaa838"/><stop offset="0.338" stop-color="#ebb439"/><stop offset="0.481" stop-color="#ebae39"/><stop offset="0.613" stop-color="#ebbd39"/><stop offset="0.713" stop-color="#ebae39"/><stop offset="0.806" stop-color="#e7963b"/><stop offset="0.912" stop-color="#e7943b"/><stop offset="0.994" stop-color="#e27c42"/><stop offset="1.000" stop-color="#e17a43"/></linearGradient><linearGradient id="g77" x1="0" y1="0" x2="0" y2="1"><stop offset="0.000" stop-color="#ecc53a"/><stop offset="0.069" stop-color="#ecbe3a"/><stop offset="0.131" stop-color="#eaa938"/><stop offset="0.181" stop-color="#e89b3a"/><stop offset="0.219" stop-color="#e9a039"/><stop offset="0.312" stop-color="#ebb339"/><stop offset="0.362" stop-color="#ebb539"/><stop offset="0.469" stop-color="#eaa738"/><stop offset="0.544" stop-color="#ebb239"/><stop offset="0.613" stop-color="#ebba39"/><stop offset="0.688" stop-color="#ebaf39"/><stop offset="0.725" stop-color="#e9a139"/><stop offset="0.781" stop-color="#e38040"/><stop offset="0.812" stop-color="#e17943"/><stop offset="0.856" stop-color="#e4843e"/><stop offset="0.906" stop-color="#e6913c"/><stop offset="0.969" stop-color="#e4843e"/><stop offset="1.000" stop-color="#e17a43"/></linearGradient><linearGradient id="g78" x1="0" y1="0" x2="0" y2="1"><stop offset="0.000" stop-color="#ecc43a"/><stop offset="0.069" stop-color="#ebbd39"/><stop offset="0.125" stop-color="#ebae39"/><stop offset="0.194" stop-color="#eaa838"/><stop offset="0.344" stop-color="#ebb939"/><stop offset="0.394" stop-color="#ebb039"/><stop offset="0.425" stop-color="#e9a039"/><stop offset="0.456" stop-color="#e68c3c"/><stop offset="0.475" stop-color="#e68c3c"/><stop offset="0.525" stop-color="#eaa838"/><stop offset="0.588" stop-color="#ebb639"/><stop offset="0.637" stop-color="#ebb639"/><stop offset="0.706" stop-color="#eaaa38"/><stop offset="0.750" stop-color="#e7963b"/><stop offset="0.794" stop-color="#e4833f"/><stop offset="0.825" stop-color="#e3813f"/><stop offset="0.906" stop-color="#e7923b"/><stop offset="0.975" stop-color="#e3823f"/><stop offset="1.000" stop-color="#e17a43"/></linearGradient><linearGradient id="g79" x1="0" y1="0" x2="0" y2="1"><stop offset="0.000" stop-color="#ecc43a"/><stop offset="0.069" stop-color="#ebbd39"/><stop offset="0.125" stop-color="#ebae39"/><stop offset="0.194" stop-color="#eaa838"/><stop offset="0.344" stop-color="#ebb839"/><stop offset="0.388" stop-color="#ebae39"/><stop offset="0.406" stop-color="#eaa238"/><stop offset="0.425" stop-color="#e4863e"/><stop offset="0.450" stop-color="#d55753"/><stop offset="0.463" stop-color="#d14c59"/><stop offset="0.469" stop-color="#d14c58"/><stop offset="0.481" stop-color="#d65952"/><stop offset="0.506" stop-color="#e4863e"/><stop offset="0.525" stop-color="#e9a039"/><stop offset="0.550" stop-color="#ebad39"/><stop offset="0.613" stop-color="#ebb639"/><stop offset="0.719" stop-color="#ebad39"/><stop offset="0.825" stop-color="#e89b3a"/><stop offset="0.912" stop-color="#e7953b"/><stop offset="0.994" stop-color="#e27c42"/><stop offset="1.000" stop-color="#e17a43"/></linearGradient><linearGradient id="g80" x1="0" y1="0" x2="0" y2="1"><stop offset="0.000" stop-color="#ecc53a"/><stop offset="0.069" stop-color="#ecbe3a"/><stop offset="0.131" stop-color="#eaa938"/><stop offset="0.181" stop-color="#e89b3a"/><stop offset="0.219" stop-color="#e9a039"/><stop offset="0.306" stop-color="#ebb239"/><stop offset="0.356" stop-color="#ebb339"/><stop offset="0.394" stop-color="#eaa738"/><stop offset="0.406" stop-color="#e89c3a"/><stop offset="0.419" stop-color="#e5883d"/><stop offset="0.444" stop-color="#d24f57"/><stop offset="0.450" stop-color="#cd425d"/><stop offset="0.456" stop-color="#c83b61"/><stop offset="0.463" stop-color="#c43964"/><stop offset="0.469" stop-color="#c53963"/><stop offset="0.475" stop-color="#ca3c60"/><stop offset="0.487" stop-color="#d45455"/><stop offset="0.506" stop-color="#e27f40"/><stop offset="0.525" stop-color="#e99d39"/><stop offset="0.544" stop-color="#eaaa38"/><stop offset="0.600" stop-color="#ebb639"/><stop offset="0.738" stop-color="#ebad39"/><stop offset="0.912" stop-color="#e7963b"/><stop offset="1.000" stop-color="#e17a43"/></linearGradient><linearGradient id="g81" x1="0" y1="0" x2="0" y2="1"><stop offset="0.000" stop-color="#eccb3e"/><stop offset="0.062" stop-color="#ecc53a"/><stop offset="0.131" stop-color="#e9a139"/><stop offset="0.163" stop-color="#e3813f"/><stop offset="0.181" stop-color="#de7047"/><stop offset="0.194" stop-color="#de6e48"/><stop offset="0.212" stop-color="#e17a43"/><stop offset="0.244" stop-color="#e8993a"/><stop offset="0.269" stop-color="#eaa838"/><stop offset="0.331" stop-color="#ebb339"/><stop offset="0.375" stop-color="#ebaf39"/><stop offset="0.406" stop-color="#eaa438"/><stop offset="0.444" stop-color="#e27c42"/><stop offset="0.456" stop-color="#df7246"/><stop offset="0.469" stop-color="#de7147"/><stop offset="0.487" stop-color="#e27f41"/><stop offset="0.519" stop-color="#e9a039"/><stop offset="0.544" stop-color="#eaac38"/><stop offset="0.606" stop-color="#ebb739"/><stop offset="0.762" stop-color="#eaab38"/><stop offset="0.912" stop-color="#e7963b"/><stop offset="1.000" stop-color="#e17a43"/></linearGradient><linearGradient id="g82" x1="0" y1="0" x2="0" y2="1"><stop offset="0.000" stop-color="#edd545"/><stop offset="0.062" stop-color="#eccc3f"/><stop offset="0.087" stop-color="#ecbe3a"/><stop offset="0.125" stop-color="#e99e39"/><stop offset="0.144" stop-color="#e27f40"/><stop offset="0.163" stop-color="#d24f57"/><stop offset="0.169" stop-color="#cb3e5f"/><stop offset="0.181" stop-color="#b8326c"/><stop offset="0.188" stop-color="#b42f6f"/><stop offset="0.194" stop-color="#b42f6f"/><stop offset="0.206" stop-color="#bf3667"/><stop offset="0.212" stop-color="#ca3c60"/><stop offset="0.231" stop-color="#dd6c49"/><stop offset="0.244" stop-color="#e4863e"/><stop offset="0.263" stop-color="#e99e39"/><stop offset="0.287" stop-color="#eaab38"/><stop offset="0.350" stop-color="#ebb339"/><stop offset="0.419" stop-color="#eaa838"/><stop offset="0.463" stop-color="#e99e39"/><stop offset="0.506" stop-color="#eaa638"/><stop offset="0.581" stop-color="#ebb539"/><stop offset="0.631" stop-color="#ebb639"/><stop offset="0.838" stop-color="#eaa238"/><stop offset="0.919" stop-color="#e7943b"/><stop offset="1.000" stop-color="#e17a43"/></linearGradient><pattern id="pe" patternUnits="userSpaceOnUse" x="23.800" y="158.4" width="6.437" height="76.90"><rect x="0.000" y="0" width="1.155" height="76.90" fill="url(#g75)"/><rect x="0.805" y="0" width="1.155" height="76.90" fill="url(#g76)"/><rect x="1.609" y="0" width="1.155" height="76.90" fill="url(#g77)"/><rect x="2.414" y="0" width="1.155" height="76.90" fill="url(#g78)"/><rect x="3.219" y="0" width="1.155" height="76.90" fill="url(#g79)"/><rect x="4.023" y="0" width="1.155" height="76.90" fill="url(#g80)"/><rect x="4.828" y="0" width="1.155" height="76.90" fill="url(#g81)"/><rect x="5.632" y="0" width="1.155" height="76.90" fill="url(#g82)"/></pattern><clipPath id="clipel"><rect x="23.4" y="235.3" width="643.30" height="76.70"/></clipPath></defs><rect x="23.25" y="8.6" width="9.70" height="114.20" fill="url(#g1)"/><rect x="31.95" y="8.6" width="10.62" height="114.20" fill="url(#g2)"/><rect x="41.57" y="8.6" width="10.62" height="114.20" fill="url(#g3)"/><rect x="51.19" y="8.6" width="10.62" height="114.20" fill="url(#g4)"/><rect x="60.80" y="8.6" width="10.62" height="114.20" fill="url(#g5)"/><rect x="70.42" y="8.6" width="10.62" height="114.20" fill="url(#g6)"/><rect x="80.04" y="8.6" width="10.62" height="114.20" fill="url(#g7)"/><rect x="89.66" y="8.6" width="10.62" height="114.20" fill="url(#g8)"/><rect x="99.28" y="8.6" width="10.62" height="114.20" fill="url(#g9)"/><rect x="108.90" y="8.6" width="10.62" height="114.20" fill="url(#g10)"/><rect x="118.51" y="8.6" width="10.62" height="114.20" fill="url(#g11)"/><rect x="128.13" y="8.6" width="9.62" height="114.20" fill="url(#g12)"/><rect x="23.25" y="8.60" width="114.50" height="114.20" fill="none" stroke="#2a2a2a" stroke-width="0.9"/><line x1="23.25" y1="108.52" x2="25.55" y2="108.52" stroke="#222" stroke-width="0.8" /><line x1="135.45" y1="108.52" x2="137.75" y2="108.52" stroke="#222" stroke-width="0.8" /><text x="20.85" y="111.32" font-size="9.2" text-anchor="end" fill="#111" >7</text><line x1="23.25" y1="79.97" x2="25.55" y2="79.97" stroke="#222" stroke-width="0.8" /><line x1="135.45" y1="79.97" x2="137.75" y2="79.97" stroke="#222" stroke-width="0.8" /><text x="20.85" y="82.77" font-size="9.2" text-anchor="end" fill="#111" >8</text><line x1="23.25" y1="51.43" x2="25.55" y2="51.43" stroke="#222" stroke-width="0.8" /><line x1="135.45" y1="51.43" x2="137.75" y2="51.43" stroke="#222" stroke-width="0.8" /><text x="20.85" y="54.23" font-size="9.2" text-anchor="end" fill="#111" >9</text><line x1="23.25" y1="22.88" x2="25.55" y2="22.88" stroke="#222" stroke-width="0.8" /><line x1="135.45" y1="22.88" x2="137.75" y2="22.88" stroke="#222" stroke-width="0.8" /><text x="20.85" y="25.68" font-size="9.2" text-anchor="end" fill="#111" >10</text><line x1="23.25" y1="122.80" x2="23.25" y2="120.50" stroke="#222" stroke-width="0.8" /><line x1="23.25" y1="8.60" x2="23.25" y2="10.90" stroke="#222" stroke-width="0.8" /><text x="23.25" y="132.10" font-size="9.2" text-anchor="middle" fill="#111" >0</text><line x1="61.42" y1="122.80" x2="61.42" y2="120.50" stroke="#222" stroke-width="0.8" /><line x1="61.42" y1="8.60" x2="61.42" y2="10.90" stroke="#222" stroke-width="0.8" /><text x="61.42" y="132.10" font-size="9.2" text-anchor="middle" fill="#111" >100</text><line x1="99.58" y1="122.80" x2="99.58" y2="120.50" stroke="#222" stroke-width="0.8" /><line x1="99.58" y1="8.60" x2="99.58" y2="10.90" stroke="#222" stroke-width="0.8" /><text x="99.58" y="132.10" font-size="9.2" text-anchor="middle" fill="#111" >200</text><line x1="137.75" y1="122.80" x2="137.75" y2="120.50" stroke="#222" stroke-width="0.8" /><line x1="137.75" y1="8.60" x2="137.75" y2="10.90" stroke="#222" stroke-width="0.8" /><text x="137.75" y="132.10" font-size="9.2" text-anchor="middle" fill="#111" >300</text><text x="80.50" y="144.20" font-size="9.4" text-anchor="middle" fill="#111" >Counts</text><text transform="translate(8.6,67) rotate(-90)" font-size="9.4" text-anchor="middle" fill="#111"><tspan font-style="italic">f</tspan> (GHz)</text><text x="115.30" y="34.60" font-size="9.2" text-anchor="middle" fill="#fff" >M2</text><text x="73.20" y="73.00" font-size="9.2" text-anchor="middle" fill="#111" >Mx</text><text x="43.50" y="110.00" font-size="9.2" text-anchor="middle" fill="#fff" >M1</text><text x="1.6" y="7.2" font-size="10" font-weight="bold" fill="#111">a</text><rect x="144.3" y="12.3" width="7.30" height="107.00" fill="url(#g13)" stroke="#333" stroke-width="0.6"/><line x1="150.30" y1="12.50" x2="151.60" y2="12.50" stroke="#222" stroke-width="0.6" /><text x="153.00" y="15.80" font-size="9.2" text-anchor="start" fill="#111" >20</text><line x1="150.30" y1="48.20" x2="151.60" y2="48.20" stroke="#222" stroke-width="0.6" /><text x="153.00" y="51.50" font-size="9.2" text-anchor="start" fill="#111" >10</text><line x1="150.30" y1="84.20" x2="151.60" y2="84.20" stroke="#222" stroke-width="0.6" /><text x="153.00" y="87.50" font-size="9.2" text-anchor="start" fill="#111" >0</text><text x="151.70" y="124.30" font-size="9.2" text-anchor="start" fill="#111" >-10</text><text transform="translate(176.9,64.6) rotate(-90)" font-size="9.8" text-anchor="middle" fill="#111"><tspan font-style="italic">S</tspan><tspan font-size="5.6" dy="1.8">11</tspan><tspan dy="-1.8"> (10</tspan><tspan font-size="5.6" dy="-3.2">-3</tspan><tspan dy="3.2"> dB)</tspan></text><rect x="194.40" y="8.60" width="166.10" height="114.00" fill="none" stroke="#2a2a2a" stroke-width="0.9"/><line x1="194.40" y1="122.60" x2="196.70" y2="122.60" stroke="#222" stroke-width="0.8" /><line x1="358.20" y1="122.60" x2="360.50" y2="122.60" stroke="#222" stroke-width="0.8" /><text x="192.00" y="125.40" font-size="9.2" text-anchor="end" fill="#111" >0</text><line x1="194.40" y1="113.10" x2="195.80" y2="113.10" stroke="#222" stroke-width="0.8" /><line x1="359.10" y1="113.10" x2="360.50" y2="113.10" stroke="#222" stroke-width="0.8" /><line x1="194.40" y1="103.60" x2="196.70" y2="103.60" stroke="#222" stroke-width="0.8" /><line x1="358.20" y1="103.60" x2="360.50" y2="103.60" stroke="#222" stroke-width="0.8" /><text x="192.00" y="106.40" font-size="9.2" text-anchor="end" fill="#111" >2</text><line x1="194.40" y1="94.10" x2="195.80" y2="94.10" stroke="#222" stroke-width="0.8" /><line x1="359.10" y1="94.10" x2="360.50" y2="94.10" stroke="#222" stroke-width="0.8" /><line x1="194.40" y1="84.60" x2="196.70" y2="84.60" stroke="#222" stroke-width="0.8" /><line x1="358.20" y1="84.60" x2="360.50" y2="84.60" stroke="#222" stroke-width="0.8" /><text x="192.00" y="87.40" font-size="9.2" text-anchor="end" fill="#111" >4</text><line x1="194.40" y1="75.10" x2="195.80" y2="75.10" stroke="#222" stroke-width="0.8" /><line x1="359.10" y1="75.10" x2="360.50" y2="75.10" stroke="#222" stroke-width="0.8" /><line x1="194.40" y1="65.60" x2="196.70" y2="65.60" stroke="#222" stroke-width="0.8" /><line x1="358.20" y1="65.60" x2="360.50" y2="65.60" stroke="#222" stroke-width="0.8" /><text x="192.00" y="68.40" font-size="9.2" text-anchor="end" fill="#111" >6</text><line x1="194.40" y1="56.10" x2="195.80" y2="56.10" stroke="#222" stroke-width="0.8" /><line x1="359.10" y1="56.10" x2="360.50" y2="56.10" stroke="#222" stroke-width="0.8" /><line x1="194.40" y1="46.60" x2="196.70" y2="46.60" stroke="#222" stroke-width="0.8" /><line x1="358.20" y1="46.60" x2="360.50" y2="46.60" stroke="#222" stroke-width="0.8" /><text x="192.00" y="49.40" font-size="9.2" text-anchor="end" fill="#111" >8</text><line x1="194.40" y1="37.10" x2="195.80" y2="37.10" stroke="#222" stroke-width="0.8" /><line x1="359.10" y1="37.10" x2="360.50" y2="37.10" stroke="#222" stroke-width="0.8" /><line x1="194.40" y1="27.60" x2="196.70" y2="27.60" stroke="#222" stroke-width="0.8" /><line x1="358.20" y1="27.60" x2="360.50" y2="27.60" stroke="#222" stroke-width="0.8" /><text x="192.00" y="30.40" font-size="9.2" text-anchor="end" fill="#111" >10</text><line x1="194.40" y1="18.10" x2="195.80" y2="18.10" stroke="#222" stroke-width="0.8" /><line x1="359.10" y1="18.10" x2="360.50" y2="18.10" stroke="#222" stroke-width="0.8" /><line x1="194.40" y1="8.60" x2="196.70" y2="8.60" stroke="#222" stroke-width="0.8" /><line x1="358.20" y1="8.60" x2="360.50" y2="8.60" stroke="#222" stroke-width="0.8" /><text x="192.00" y="11.40" font-size="9.2" text-anchor="end" fill="#111" >12</text><line x1="194.40" y1="122.60" x2="194.40" y2="120.30" stroke="#222" stroke-width="0.8" /><line x1="194.40" y1="8.60" x2="194.40" y2="10.90" stroke="#222" stroke-width="0.8" /><text x="194.40" y="132.10" font-size="9.2" text-anchor="middle" fill="#111" >0</text><line x1="208.24" y1="122.60" x2="208.24" y2="121.20" stroke="#222" stroke-width="0.8" /><line x1="208.24" y1="8.60" x2="208.24" y2="10.00" stroke="#222" stroke-width="0.8" /><line x1="222.08" y1="122.60" x2="222.08" y2="120.30" stroke="#222" stroke-width="0.8" /><line x1="222.08" y1="8.60" x2="222.08" y2="10.90" stroke="#222" stroke-width="0.8" /><text x="222.08" y="132.10" font-size="9.2" text-anchor="middle" fill="#111" >50</text><line x1="235.93" y1="122.60" x2="235.93" y2="121.20" stroke="#222" stroke-width="0.8" /><line x1="235.93" y1="8.60" x2="235.93" y2="10.00" stroke="#222" stroke-width="0.8" /><line x1="249.77" y1="122.60" x2="249.77" y2="120.30" stroke="#222" stroke-width="0.8" /><line x1="249.77" y1="8.60" x2="249.77" y2="10.90" stroke="#222" stroke-width="0.8" /><text x="249.77" y="132.10" font-size="9.2" text-anchor="middle" fill="#111" >100</text><line x1="263.61" y1="122.60" x2="263.61" y2="121.20" stroke="#222" stroke-width="0.8" /><line x1="263.61" y1="8.60" x2="263.61" y2="10.00" stroke="#222" stroke-width="0.8" /><line x1="277.45" y1="122.60" x2="277.45" y2="120.30" stroke="#222" stroke-width="0.8" /><line x1="277.45" y1="8.60" x2="277.45" y2="10.90" stroke="#222" stroke-width="0.8" /><text x="277.45" y="132.10" font-size="9.2" text-anchor="middle" fill="#111" >150</text><line x1="291.29" y1="122.60" x2="291.29" y2="121.20" stroke="#222" stroke-width="0.8" /><line x1="291.29" y1="8.60" x2="291.29" y2="10.00" stroke="#222" stroke-width="0.8" /><line x1="305.13" y1="122.60" x2="305.13" y2="120.30" stroke="#222" stroke-width="0.8" /><line x1="305.13" y1="8.60" x2="305.13" y2="10.90" stroke="#222" stroke-width="0.8" /><text x="305.13" y="132.10" font-size="9.2" text-anchor="middle" fill="#111" >200</text><line x1="318.98" y1="122.60" x2="318.98" y2="121.20" stroke="#222" stroke-width="0.8" /><line x1="318.98" y1="8.60" x2="318.98" y2="10.00" stroke="#222" stroke-width="0.8" /><line x1="332.82" y1="122.60" x2="332.82" y2="120.30" stroke="#222" stroke-width="0.8" /><line x1="332.82" y1="8.60" x2="332.82" y2="10.90" stroke="#222" stroke-width="0.8" /><text x="332.82" y="132.10" font-size="9.2" text-anchor="middle" fill="#111" >250</text><line x1="346.66" y1="122.60" x2="346.66" y2="121.20" stroke="#222" stroke-width="0.8" /><line x1="346.66" y1="8.60" x2="346.66" y2="10.00" stroke="#222" stroke-width="0.8" /><line x1="360.50" y1="122.60" x2="360.50" y2="120.30" stroke="#222" stroke-width="0.8" /><line x1="360.50" y1="8.60" x2="360.50" y2="10.90" stroke="#222" stroke-width="0.8" /><text x="360.50" y="132.10" font-size="9.2" text-anchor="middle" fill="#111" >300</text><text x="278.50" y="144.20" font-size="9.4" text-anchor="middle" fill="#111" >Counts</text><text x="171.5" y="7.0" font-size="10" font-weight="bold" fill="#111">b</text><g clip-path="url(#clipb)"><polyline fill="none" stroke="#e03a48" stroke-width="1.0" points="194.4,61.2 195.0,61.8 195.5,61.8 196.1,61.3 196.6,61.4 197.2,61.5 197.7,61.0 198.3,61.2 198.8,62.9 199.4,62.0 199.9,61.6 200.5,62.1 201.0,61.3 201.6,60.3 202.2,60.7 202.7,62.2 203.3,61.7 203.8,61.4 204.4,62.3 204.9,60.7 205.5,61.4 206.0,62.7 206.6,60.6 207.1,61.9 207.7,62.2 208.2,99.1 208.8,98.2 209.3,98.1 209.9,98.8 210.5,100.6 211.0,99.9 211.6,100.6 212.1,99.9 212.7,101.5 213.2,99.2 213.8,98.9 214.3,102.2 214.9,100.4 215.4,98.6 216.0,99.5 216.5,99.3 217.1,99.1 217.7,99.2 218.2,98.5 218.8,99.4 219.3,100.6 219.9,101.9 220.4,99.0 221.0,98.4 221.5,100.3 222.1,102.2 222.6,101.7 223.2,103.4 223.7,102.9 224.3,102.0 224.9,103.5 225.4,103.3 226.0,103.5 226.5,104.3 227.1,104.6 227.6,102.6 228.2,102.4 228.7,103.2 229.3,102.8 229.8,103.2 230.4,103.5 230.9,103.0 231.5,103.3 232.0,104.1 232.6,102.7 233.2,103.3 233.7,106.5 234.3,103.6 234.8,103.6 235.4,103.2 235.9,106.6 236.5,105.7 237.0,106.3 237.6,106.3 238.1,106.8 238.7,107.5 239.2,105.3 239.8,104.8 240.4,106.8 240.9,105.8 241.5,109.3 242.0,108.1 242.6,108.2 243.1,105.4 243.7,106.5 244.2,106.6 244.8,105.2 245.3,107.2 245.9,108.1 246.4,107.2 247.0,106.2 247.6,106.4 248.1,108.7 248.7,108.1 249.2,108.7 249.8,108.4 250.3,110.2 250.9,110.5 251.4,107.7 252.0,107.8 252.5,109.6 253.1,108.0 253.6,110.2 254.2,109.1 254.7,110.7 255.3,108.1 255.9,109.9 256.4,108.7 257.0,109.7 257.5,110.1 258.1,110.3 258.6,109.1 259.2,110.6 259.7,109.2 260.3,108.7 260.8,109.0 261.4,108.5 261.9,109.3 262.5,111.4 263.1,109.2 263.6,112.1 264.2,112.1 264.7,111.9 265.3,112.1 265.8,111.2 266.4,113.6 266.9,111.2 267.5,113.0 268.0,111.6 268.6,111.6 269.1,113.7 269.7,113.2 270.3,113.2 270.8,113.5 271.4,112.8 271.9,112.4 272.5,112.4 273.0,114.9 273.6,113.2 274.1,113.8 274.7,113.4 275.2,112.2 275.8,112.7 276.3,112.4 276.9,115.3 277.4,113.1 278.0,115.0 278.6,116.4 279.1,112.0 279.7,113.9 280.2,114.8 280.8,113.8 281.3,114.8 281.9,113.9 282.4,115.0 283.0,115.3 283.5,114.8 284.1,115.9 284.6,113.8 285.2,117.8 285.8,114.6 286.3,114.7 286.9,114.7 287.4,114.2 288.0,116.0 288.5,113.5 289.1,116.1 289.6,115.2 290.2,116.5 290.7,114.4 291.3,117.5 291.8,115.2 292.4,115.4 293.0,116.0 293.5,117.1 294.1,115.8 294.6,116.5 295.2,116.1 295.7,116.3 296.3,115.7 296.8,117.5 297.4,116.6 297.9,116.5 298.5,116.5 299.0,118.1 299.6,115.7 300.2,117.1 300.7,117.9 301.3,116.9 301.8,116.2 302.4,119.8 302.9,115.4 303.5,118.6 304.0,116.6 304.6,117.0 305.1,116.5 305.7,116.7 306.2,116.4 306.8,118.5 307.3,116.7 307.9,116.4 308.5,116.6 309.0,114.9 309.6,117.9 310.1,115.0 310.7,116.8 311.2,117.8 311.8,117.6 312.3,116.7 312.9,117.9 313.4,117.4 314.0,118.0 314.5,117.3 315.1,118.8 315.7,119.7 316.2,120.3 316.8,117.6 317.3,118.3 317.9,119.8 318.4,117.8 319.0,118.7 319.5,119.7 320.1,116.9 320.6,117.9 321.2,119.8 321.7,119.1 322.3,119.5 322.9,117.8 323.4,117.4 324.0,116.9 324.5,118.7 325.1,119.4 325.6,118.3 326.2,120.0 326.7,118.4 327.3,118.8 327.8,119.3 328.4,118.2 328.9,119.3 329.5,121.5 330.0,118.6 330.6,118.5 331.2,120.2 331.7,119.1 332.3,118.2 332.8,119.9 333.4,119.1 333.9,118.8 334.5,120.5 335.0,119.9 335.6,119.3 336.1,119.2 336.7,119.7 337.2,119.7 337.8,119.3 338.4,121.9 338.9,119.2 339.5,117.1 340.0,118.2 340.6,118.6 341.1,119.8 341.7,120.8 342.2,120.8 342.8,117.6 343.3,119.8 343.9,119.9 344.4,119.7 345.0,119.3 345.6,118.2 346.1,120.1 346.7,120.1 347.2,120.4 347.8,120.2 348.3,119.0 348.9,119.8 349.4,119.0 350.0,119.6 350.5,118.8 351.1,117.6 351.6,119.2 352.2,120.2 352.7,118.3 353.3,121.5 353.9,121.9 354.4,120.8 355.0,120.7 355.5,121.5 356.1,121.9 356.6,120.2 357.2,120.8 357.7,120.4 358.3,119.0 358.8,120.8 359.4,121.4 359.9,121.1 360.5,119.1"/><g fill="#fff" stroke="#e04452" stroke-width="0.85"><circle cx="194.40" cy="61.22" r="1.35"/><circle cx="194.95" cy="61.85" r="1.35"/><circle cx="195.51" cy="61.77" r="1.35"/><circle cx="196.06" cy="61.29" r="1.35"/><circle cx="196.61" cy="61.42" r="1.35"/><circle cx="197.17" cy="61.47" r="1.35"/><circle cx="197.72" cy="60.96" r="1.35"/><circle cx="198.28" cy="61.23" r="1.35"/><circle cx="198.83" cy="62.94" r="1.35"/><circle cx="199.38" cy="61.97" r="1.35"/><circle cx="199.94" cy="61.64" r="1.35"/><circle cx="200.49" cy="62.10" r="1.35"/><circle cx="201.04" cy="61.31" r="1.35"/><circle cx="201.60" cy="60.30" r="1.35"/><circle cx="202.15" cy="60.70" r="1.35"/><circle cx="202.71" cy="62.17" r="1.35"/><circle cx="203.26" cy="61.69" r="1.35"/><circle cx="203.81" cy="61.42" r="1.35"/><circle cx="204.37" cy="62.34" r="1.35"/><circle cx="204.92" cy="60.68" r="1.35"/><circle cx="205.47" cy="61.42" r="1.35"/><circle cx="206.03" cy="62.74" r="1.35"/><circle cx="206.58" cy="60.62" r="1.35"/><circle cx="207.13" cy="61.85" r="1.35"/><circle cx="207.69" cy="62.23" r="1.35"/><circle cx="208.24" cy="99.11" r="1.35"/><circle cx="208.80" cy="98.22" r="1.35"/><circle cx="209.35" cy="98.14" r="1.35"/><circle cx="209.90" cy="98.80" r="1.35"/><circle cx="210.46" cy="100.58" r="1.35"/><circle cx="211.01" cy="99.91" r="1.35"/><circle cx="211.56" cy="100.64" r="1.35"/><circle cx="212.12" cy="99.91" r="1.35"/><circle cx="212.67" cy="101.53" r="1.35"/><circle cx="213.22" cy="99.20" r="1.35"/><circle cx="213.78" cy="98.89" r="1.35"/><circle cx="214.33" cy="102.17" r="1.35"/><circle cx="214.89" cy="100.36" r="1.35"/><circle cx="215.44" cy="98.61" r="1.35"/><circle cx="215.99" cy="99.51" r="1.35"/><circle cx="216.55" cy="99.27" r="1.35"/><circle cx="217.10" cy="99.12" r="1.35"/><circle cx="217.65" cy="99.24" r="1.35"/><circle cx="218.21" cy="98.52" r="1.35"/><circle cx="218.76" cy="99.35" r="1.35"/><circle cx="219.31" cy="100.61" r="1.35"/><circle cx="219.87" cy="101.89" r="1.35"/><circle cx="220.42" cy="98.98" r="1.35"/><circle cx="220.98" cy="98.41" r="1.35"/><circle cx="221.53" cy="100.29" r="1.35"/><circle cx="222.08" cy="102.16" r="1.35"/><circle cx="222.64" cy="101.69" r="1.35"/><circle cx="223.19" cy="103.36" r="1.35"/><circle cx="223.74" cy="102.95" r="1.35"/><circle cx="224.30" cy="102.03" r="1.35"/><circle cx="224.85" cy="103.53" r="1.35"/><circle cx="225.41" cy="103.25" r="1.35"/><circle cx="225.96" cy="103.47" r="1.35"/><circle cx="226.51" cy="104.28" r="1.35"/><circle cx="227.07" cy="104.58" r="1.35"/><circle cx="227.62" cy="102.64" r="1.35"/><circle cx="228.17" cy="102.44" r="1.35"/><circle cx="228.73" cy="103.24" r="1.35"/><circle cx="229.28" cy="102.83" r="1.35"/><circle cx="229.83" cy="103.19" r="1.35"/><circle cx="230.39" cy="103.52" r="1.35"/><circle cx="230.94" cy="102.98" r="1.35"/><circle cx="231.50" cy="103.28" r="1.35"/><circle cx="232.05" cy="104.05" r="1.35"/><circle cx="232.60" cy="102.74" r="1.35"/><circle cx="233.16" cy="103.35" r="1.35"/><circle cx="233.71" cy="106.48" r="1.35"/><circle cx="234.26" cy="103.59" r="1.35"/><circle cx="234.82" cy="103.64" r="1.35"/><circle cx="235.37" cy="103.25" r="1.35"/><circle cx="235.93" cy="106.62" r="1.35"/><circle cx="236.48" cy="105.74" r="1.35"/><circle cx="237.03" cy="106.27" r="1.35"/><circle cx="237.59" cy="106.27" r="1.35"/><circle cx="238.14" cy="106.76" r="1.35"/><circle cx="238.69" cy="107.52" r="1.35"/><circle cx="239.25" cy="105.35" r="1.35"/><circle cx="239.80" cy="104.83" r="1.35"/><circle cx="240.35" cy="106.80" r="1.35"/><circle cx="240.91" cy="105.83" r="1.35"/><circle cx="241.46" cy="109.33" r="1.35"/><circle cx="242.02" cy="108.08" r="1.35"/><circle cx="242.57" cy="108.18" r="1.35"/><circle cx="243.12" cy="105.41" r="1.35"/><circle cx="243.68" cy="106.51" r="1.35"/><circle cx="244.23" cy="106.61" r="1.35"/><circle cx="244.78" cy="105.20" r="1.35"/><circle cx="245.34" cy="107.15" r="1.35"/><circle cx="245.89" cy="108.09" r="1.35"/><circle cx="246.44" cy="107.21" r="1.35"/><circle cx="247.00" cy="106.25" r="1.35"/><circle cx="247.55" cy="106.36" r="1.35"/><circle cx="248.11" cy="108.65" r="1.35"/><circle cx="248.66" cy="108.13" r="1.35"/><circle cx="249.21" cy="108.70" r="1.35"/><circle cx="249.77" cy="108.42" r="1.35"/><circle cx="250.32" cy="110.23" r="1.35"/><circle cx="250.87" cy="110.49" r="1.35"/><circle cx="251.43" cy="107.68" r="1.35"/><circle cx="251.98" cy="107.76" r="1.35"/><circle cx="252.53" cy="109.62" r="1.35"/><circle cx="253.09" cy="108.01" r="1.35"/><circle cx="253.64" cy="110.15" r="1.35"/><circle cx="254.20" cy="109.14" r="1.35"/><circle cx="254.75" cy="110.68" r="1.35"/><circle cx="255.30" cy="108.11" r="1.35"/><circle cx="255.86" cy="109.90" r="1.35"/><circle cx="256.41" cy="108.69" r="1.35"/><circle cx="256.96" cy="109.67" r="1.35"/><circle cx="257.52" cy="110.12" r="1.35"/><circle cx="258.07" cy="110.29" r="1.35"/><circle cx="258.63" cy="109.08" r="1.35"/><circle cx="259.18" cy="110.62" r="1.35"/><circle cx="259.73" cy="109.16" r="1.35"/><circle cx="260.29" cy="108.69" r="1.35"/><circle cx="260.84" cy="109.03" r="1.35"/><circle cx="261.39" cy="108.48" r="1.35"/><circle cx="261.95" cy="109.29" r="1.35"/><circle cx="262.50" cy="111.39" r="1.35"/><circle cx="263.05" cy="109.18" r="1.35"/><circle cx="263.61" cy="112.07" r="1.35"/><circle cx="264.16" cy="112.13" r="1.35"/><circle cx="264.72" cy="111.90" r="1.35"/><circle cx="265.27" cy="112.15" r="1.35"/><circle cx="265.82" cy="111.19" r="1.35"/><circle cx="266.38" cy="113.60" r="1.35"/><circle cx="266.93" cy="111.21" r="1.35"/><circle cx="267.48" cy="113.00" r="1.35"/><circle cx="268.04" cy="111.59" r="1.35"/><circle cx="268.59" cy="111.62" r="1.35"/><circle cx="269.14" cy="113.74" r="1.35"/><circle cx="269.70" cy="113.22" r="1.35"/><circle cx="270.25" cy="113.19" r="1.35"/><circle cx="270.81" cy="113.45" r="1.35"/><circle cx="271.36" cy="112.82" r="1.35"/><circle cx="271.91" cy="112.36" r="1.35"/><circle cx="272.47" cy="112.44" r="1.35"/><circle cx="273.02" cy="114.86" r="1.35"/><circle cx="273.57" cy="113.16" r="1.35"/><circle cx="274.13" cy="113.84" r="1.35"/><circle cx="274.68" cy="113.45" r="1.35"/><circle cx="275.24" cy="112.23" r="1.35"/><circle cx="275.79" cy="112.72" r="1.35"/><circle cx="276.34" cy="112.41" r="1.35"/><circle cx="276.90" cy="115.33" r="1.35"/><circle cx="277.45" cy="113.06" r="1.35"/><circle cx="278.00" cy="114.97" r="1.35"/><circle cx="278.56" cy="116.36" r="1.35"/><circle cx="279.11" cy="112.03" r="1.35"/><circle cx="279.66" cy="113.89" r="1.35"/><circle cx="280.22" cy="114.78" r="1.35"/><circle cx="280.77" cy="113.76" r="1.35"/><circle cx="281.33" cy="114.84" r="1.35"/><circle cx="281.88" cy="113.93" r="1.35"/><circle cx="282.43" cy="115.04" r="1.35"/><circle cx="282.99" cy="115.26" r="1.35"/><circle cx="283.54" cy="114.83" r="1.35"/><circle cx="284.09" cy="115.86" r="1.35"/><circle cx="284.65" cy="113.83" r="1.35"/><circle cx="285.20" cy="117.78" r="1.35"/><circle cx="285.75" cy="114.61" r="1.35"/><circle cx="286.31" cy="114.71" r="1.35"/><circle cx="286.86" cy="114.66" r="1.35"/><circle cx="287.42" cy="114.17" r="1.35"/><circle cx="287.97" cy="116.03" r="1.35"/><circle cx="288.52" cy="113.45" r="1.35"/><circle cx="289.08" cy="116.08" r="1.35"/><circle cx="289.63" cy="115.24" r="1.35"/><circle cx="290.18" cy="116.50" r="1.35"/><circle cx="290.74" cy="114.44" r="1.35"/><circle cx="291.29" cy="117.55" r="1.35"/><circle cx="291.85" cy="115.15" r="1.35"/><circle cx="292.40" cy="115.38" r="1.35"/><circle cx="292.95" cy="116.00" r="1.35"/><circle cx="293.51" cy="117.10" r="1.35"/><circle cx="294.06" cy="115.82" r="1.35"/><circle cx="294.61" cy="116.54" r="1.35"/><circle cx="295.17" cy="116.07" r="1.35"/><circle cx="295.72" cy="116.29" r="1.35"/><circle cx="296.27" cy="115.73" r="1.35"/><circle cx="296.83" cy="117.46" r="1.35"/><circle cx="297.38" cy="116.64" r="1.35"/><circle cx="297.94" cy="116.52" r="1.35"/><circle cx="298.49" cy="116.55" r="1.35"/><circle cx="299.04" cy="118.09" r="1.35"/><circle cx="299.60" cy="115.72" r="1.35"/><circle cx="300.15" cy="117.07" r="1.35"/><circle cx="300.70" cy="117.92" r="1.35"/><circle cx="301.26" cy="116.90" r="1.35"/><circle cx="301.81" cy="116.23" r="1.35"/><circle cx="302.37" cy="119.80" r="1.35"/><circle cx="302.92" cy="115.45" r="1.35"/><circle cx="303.47" cy="118.57" r="1.35"/><circle cx="304.03" cy="116.64" r="1.35"/><circle cx="304.58" cy="117.05" r="1.35"/><circle cx="305.13" cy="116.54" r="1.35"/><circle cx="305.69" cy="116.70" r="1.35"/><circle cx="306.24" cy="116.36" r="1.35"/><circle cx="306.79" cy="118.55" r="1.35"/><circle cx="307.35" cy="116.70" r="1.35"/><circle cx="307.90" cy="116.39" r="1.35"/><circle cx="308.46" cy="116.60" r="1.35"/><circle cx="309.01" cy="114.94" r="1.35"/><circle cx="309.56" cy="117.87" r="1.35"/><circle cx="310.12" cy="114.98" r="1.35"/><circle cx="310.67" cy="116.82" r="1.35"/><circle cx="311.22" cy="117.77" r="1.35"/><circle cx="311.78" cy="117.63" r="1.35"/><circle cx="312.33" cy="116.69" r="1.35"/><circle cx="312.88" cy="117.89" r="1.35"/><circle cx="313.44" cy="117.40" r="1.35"/><circle cx="313.99" cy="117.95" r="1.35"/><circle cx="314.55" cy="117.34" r="1.35"/><circle cx="315.10" cy="118.76" r="1.35"/><circle cx="315.65" cy="119.68" r="1.35"/><circle cx="316.21" cy="120.29" r="1.35"/><circle cx="316.76" cy="117.64" r="1.35"/><circle cx="317.31" cy="118.34" r="1.35"/><circle cx="317.87" cy="119.81" r="1.35"/><circle cx="318.42" cy="117.84" r="1.35"/><circle cx="318.98" cy="118.68" r="1.35"/><circle cx="319.53" cy="119.70" r="1.35"/><circle cx="320.08" cy="116.87" r="1.35"/><circle cx="320.64" cy="117.95" r="1.35"/><circle cx="321.19" cy="119.78" r="1.35"/><circle cx="321.74" cy="119.10" r="1.35"/><circle cx="322.30" cy="119.49" r="1.35"/><circle cx="322.85" cy="117.81" r="1.35"/><circle cx="323.40" cy="117.39" r="1.35"/><circle cx="323.96" cy="116.95" r="1.35"/><circle cx="324.51" cy="118.74" r="1.35"/><circle cx="325.07" cy="119.38" r="1.35"/><circle cx="325.62" cy="118.30" r="1.35"/><circle cx="326.17" cy="120.01" r="1.35"/><circle cx="326.73" cy="118.42" r="1.35"/><circle cx="327.28" cy="118.76" r="1.35"/><circle cx="327.83" cy="119.28" r="1.35"/><circle cx="328.39" cy="118.16" r="1.35"/><circle cx="328.94" cy="119.28" r="1.35"/><circle cx="329.49" cy="121.47" r="1.35"/><circle cx="330.05" cy="118.63" r="1.35"/><circle cx="330.60" cy="118.50" r="1.35"/><circle cx="331.16" cy="120.20" r="1.35"/><circle cx="331.71" cy="119.13" r="1.35"/><circle cx="332.26" cy="118.21" r="1.35"/><circle cx="332.82" cy="119.88" r="1.35"/><circle cx="333.37" cy="119.10" r="1.35"/><circle cx="333.92" cy="118.77" r="1.35"/><circle cx="334.48" cy="120.54" r="1.35"/><circle cx="335.03" cy="119.95" r="1.35"/><circle cx="335.59" cy="119.34" r="1.35"/><circle cx="336.14" cy="119.15" r="1.35"/><circle cx="336.69" cy="119.74" r="1.35"/><circle cx="337.25" cy="119.69" r="1.35"/><circle cx="337.80" cy="119.27" r="1.35"/><circle cx="338.35" cy="121.93" r="1.35"/><circle cx="338.91" cy="119.23" r="1.35"/><circle cx="339.46" cy="117.10" r="1.35"/><circle cx="340.01" cy="118.25" r="1.35"/><circle cx="340.57" cy="118.64" r="1.35"/><circle cx="341.12" cy="119.84" r="1.35"/><circle cx="341.68" cy="120.85" r="1.35"/><circle cx="342.23" cy="120.83" r="1.35"/><circle cx="342.78" cy="117.59" r="1.35"/><circle cx="343.34" cy="119.84" r="1.35"/><circle cx="343.89" cy="119.87" r="1.35"/><circle cx="344.44" cy="119.68" r="1.35"/><circle cx="345.00" cy="119.25" r="1.35"/><circle cx="345.55" cy="118.21" r="1.35"/><circle cx="346.10" cy="120.07" r="1.35"/><circle cx="346.66" cy="120.10" r="1.35"/><circle cx="347.21" cy="120.44" r="1.35"/><circle cx="347.77" cy="120.25" r="1.35"/><circle cx="348.32" cy="119.04" r="1.35"/><circle cx="348.87" cy="119.85" r="1.35"/><circle cx="349.43" cy="119.04" r="1.35"/><circle cx="349.98" cy="119.60" r="1.35"/><circle cx="350.53" cy="118.79" r="1.35"/><circle cx="351.09" cy="117.63" r="1.35"/><circle cx="351.64" cy="119.24" r="1.35"/><circle cx="352.19" cy="120.16" r="1.35"/><circle cx="352.75" cy="118.29" r="1.35"/><circle cx="353.30" cy="121.47" r="1.35"/><circle cx="353.86" cy="121.94" r="1.35"/><circle cx="354.41" cy="120.77" r="1.35"/><circle cx="354.96" cy="120.67" r="1.35"/><circle cx="355.52" cy="121.52" r="1.35"/><circle cx="356.07" cy="121.93" r="1.35"/><circle cx="356.62" cy="120.15" r="1.35"/><circle cx="357.18" cy="120.76" r="1.35"/><circle cx="357.73" cy="120.40" r="1.35"/><circle cx="358.29" cy="118.98" r="1.35"/><circle cx="358.84" cy="120.78" r="1.35"/><circle cx="359.39" cy="121.44" r="1.35"/><circle cx="359.95" cy="121.12" r="1.35"/><circle cx="360.50" cy="119.12" r="1.35"/></g><polyline fill="none" stroke="#1f4ea6" stroke-width="1.0" points="194.4,122.7 195.0,122.7 195.5,123.1 196.1,122.0 196.6,122.0 197.2,122.4 197.7,123.5 198.3,122.3 198.8,123.6 199.4,123.1 199.9,122.4 200.5,122.3 201.0,122.4 201.6,123.0 202.2,122.3 202.7,123.0 203.3,122.8 203.8,122.2 204.4,122.9 204.9,122.9 205.5,123.1 206.0,122.4 206.6,122.6 207.1,123.7 207.7,122.7 208.2,105.4 208.8,106.6 209.3,105.3 209.9,104.8 210.5,105.6 211.0,105.3 211.6,106.0 212.1,106.3 212.7,104.9 213.2,106.6 213.8,104.8 214.3,106.9 214.9,105.5 215.4,106.4 216.0,105.0 216.5,105.5 217.1,104.7 217.7,105.4 218.2,106.7 218.8,105.1 219.3,107.0 219.9,105.1 220.4,105.8 221.0,106.5 221.5,105.3 222.1,95.6 222.6,95.7 223.2,96.3 223.7,95.1 224.3,96.4 224.9,94.8 225.4,96.8 226.0,95.9 226.5,94.8 227.1,94.9 227.6,96.4 228.2,95.0 228.7,95.6 229.3,95.7 229.8,95.9 230.4,95.4 230.9,95.3 231.5,94.4 232.0,96.1 232.6,95.8 233.2,96.1 233.7,94.5 234.3,96.6 234.8,95.5 235.4,96.1 235.9,86.1 236.5,84.4 237.0,86.8 237.6,86.5 238.1,88.5 238.7,85.5 239.2,86.4 239.8,85.6 240.4,87.7 240.9,86.6 241.5,85.4 242.0,85.4 242.6,85.8 243.1,86.2 243.7,86.4 244.2,85.7 244.8,86.4 245.3,85.5 245.9,84.1 246.4,85.6 247.0,86.2 247.6,86.1 248.1,87.5 248.7,85.8 249.2,87.1 249.8,72.1 250.3,71.9 250.9,73.2 251.4,72.5 252.0,74.0 252.5,72.3 253.1,74.9 253.6,73.3 254.2,72.9 254.7,71.9 255.3,72.2 255.9,71.9 256.4,73.9 257.0,73.1 257.5,72.0 258.1,75.2 258.6,74.8 259.2,72.9 259.7,73.2 260.3,73.1 260.8,73.3 261.4,71.9 261.9,73.8 262.5,74.8 263.1,74.9 263.6,64.5 264.2,63.5 264.7,63.9 265.3,61.6 265.8,62.8 266.4,63.5 266.9,63.8 267.5,64.9 268.0,62.4 268.6,63.3 269.1,63.2 269.7,64.8 270.3,62.4 270.8,64.2 271.4,64.8 271.9,64.4 272.5,65.6 273.0,63.9 273.6,62.6 274.1,65.4 274.7,63.0 275.2,62.6 275.8,62.7 276.3,62.1 276.9,62.9 277.4,53.1 278.0,54.3 278.6,52.0 279.1,53.5 279.7,55.0 280.2,52.1 280.8,53.4 281.3,54.9 281.9,53.7 282.4,54.0 283.0,55.1 283.5,53.1 284.1,54.9 284.6,51.3 285.2,53.4 285.8,53.4 286.3,52.3 286.9,54.1 287.4,56.0 288.0,53.7 288.5,52.6 289.1,55.4 289.6,53.7 290.2,54.4 290.7,51.8 291.3,46.3 291.8,43.1 292.4,43.0 293.0,45.9 293.5,47.4 294.1,45.0 294.6,45.8 295.2,44.5 295.7,44.3 296.3,45.3 296.8,44.9 297.4,45.7 297.9,45.1 298.5,45.0 299.0,45.1 299.6,44.5 300.2,44.5 300.7,44.5 301.3,47.1 301.8,46.0 302.4,46.2 302.9,46.1 303.5,45.4 304.0,45.8 304.6,44.4 305.1,34.2 305.7,36.0 306.2,34.0 306.8,34.8 307.3,36.1 307.9,36.3 308.5,35.3 309.0,36.2 309.6,34.5 310.1,35.9 310.7,36.4 311.2,34.8 311.8,37.3 312.3,35.5 312.9,35.0 313.4,35.0 314.0,35.7 314.5,36.2 315.1,37.2 315.7,36.0 316.2,36.5 316.8,36.8 317.3,35.3 317.9,36.2 318.4,33.8 319.0,26.7 319.5,28.3 320.1,27.1 320.6,30.5 321.2,27.3 321.7,30.4 322.3,28.9 322.9,28.0 323.4,27.3 324.0,26.2 324.5,29.7 325.1,29.4 325.6,28.2 326.2,27.5 326.7,29.6 327.3,28.3 327.8,28.2 328.4,27.2 328.9,28.2 329.5,28.3 330.0,29.3 330.6,30.0 331.2,27.9 331.7,28.4 332.3,27.5 332.8,22.2 333.4,22.3 333.9,21.1 334.5,23.0 335.0,22.5 335.6,23.5 336.1,22.6 336.7,21.2 337.2,18.8 337.8,20.4 338.4,20.3 338.9,22.7 339.5,20.9 340.0,21.2 340.6,20.6 341.1,20.9 341.7,20.9 342.2,19.9 342.8,21.2 343.3,21.7 343.9,19.9 344.4,22.4 345.0,20.6 345.6,22.3 346.1,19.0 346.7,19.9 347.2,18.2 347.8,19.2 348.3,21.1 348.9,18.2 349.4,21.0 350.0,20.1 350.5,17.9 351.1,20.7 351.6,19.9 352.2,20.8 352.7,22.3 353.3,17.9 353.9,21.9 354.4,18.1 355.0,19.8 355.5,19.8 356.1,19.6 356.6,19.7 357.2,18.9 357.7,20.8 358.3,20.1 358.8,18.4 359.4,20.1 359.9,20.7 360.5,18.9"/><g fill="#fff" stroke="#1f4ea6" stroke-width="1.1"><circle cx="194.40" cy="122.75" r="1.3"/><circle cx="194.95" cy="122.73" r="1.3"/><circle cx="195.51" cy="123.13" r="1.3"/><circle cx="196.06" cy="121.97" r="1.3"/><circle cx="196.61" cy="122.01" r="1.3"/><circle cx="197.17" cy="122.37" r="1.3"/><circle cx="197.72" cy="123.55" r="1.3"/><circle cx="198.28" cy="122.31" r="1.3"/><circle cx="198.83" cy="123.56" r="1.3"/><circle cx="199.38" cy="123.11" r="1.3"/><circle cx="199.94" cy="122.43" r="1.3"/><circle cx="200.49" cy="122.30" r="1.3"/><circle cx="201.04" cy="122.42" r="1.3"/><circle cx="201.60" cy="122.98" r="1.3"/><circle cx="202.15" cy="122.28" r="1.3"/><circle cx="202.71" cy="122.95" r="1.3"/><circle cx="203.26" cy="122.80" r="1.3"/><circle cx="203.81" cy="122.24" r="1.3"/><circle cx="204.37" cy="122.85" r="1.3"/><circle cx="204.92" cy="122.90" r="1.3"/><circle cx="205.47" cy="123.06" r="1.3"/><circle cx="206.03" cy="122.36" r="1.3"/><circle cx="206.58" cy="122.57" r="1.3"/><circle cx="207.13" cy="123.75" r="1.3"/><circle cx="207.69" cy="122.66" r="1.3"/><circle cx="208.24" cy="105.37" r="1.3"/><circle cx="208.80" cy="106.64" r="1.3"/><circle cx="209.35" cy="105.26" r="1.3"/><circle cx="209.90" cy="104.76" r="1.3"/><circle cx="210.46" cy="105.61" r="1.3"/><circle cx="211.01" cy="105.29" r="1.3"/><circle cx="211.56" cy="105.98" r="1.3"/><circle cx="212.12" cy="106.32" r="1.3"/><circle cx="212.67" cy="104.86" r="1.3"/><circle cx="213.22" cy="106.63" r="1.3"/><circle cx="213.78" cy="104.76" r="1.3"/><circle cx="214.33" cy="106.92" r="1.3"/><circle cx="214.89" cy="105.46" r="1.3"/><circle cx="215.44" cy="106.41" r="1.3"/><circle cx="215.99" cy="104.98" r="1.3"/><circle cx="216.55" cy="105.53" r="1.3"/><circle cx="217.10" cy="104.66" r="1.3"/><circle cx="217.65" cy="105.35" r="1.3"/><circle cx="218.21" cy="106.70" r="1.3"/><circle cx="218.76" cy="105.07" r="1.3"/><circle cx="219.31" cy="106.97" r="1.3"/><circle cx="219.87" cy="105.15" r="1.3"/><circle cx="220.42" cy="105.81" r="1.3"/><circle cx="220.98" cy="106.54" r="1.3"/><circle cx="221.53" cy="105.33" r="1.3"/><circle cx="222.08" cy="95.58" r="1.3"/><circle cx="222.64" cy="95.72" r="1.3"/><circle cx="223.19" cy="96.29" r="1.3"/><circle cx="223.74" cy="95.06" r="1.3"/><circle cx="224.30" cy="96.45" r="1.3"/><circle cx="224.85" cy="94.75" r="1.3"/><circle cx="225.41" cy="96.81" r="1.3"/><circle cx="225.96" cy="95.92" r="1.3"/><circle cx="226.51" cy="94.80" r="1.3"/><circle cx="227.07" cy="94.90" r="1.3"/><circle cx="227.62" cy="96.38" r="1.3"/><circle cx="228.17" cy="95.00" r="1.3"/><circle cx="228.73" cy="95.56" r="1.3"/><circle cx="229.28" cy="95.70" r="1.3"/><circle cx="229.83" cy="95.94" r="1.3"/><circle cx="230.39" cy="95.40" r="1.3"/><circle cx="230.94" cy="95.26" r="1.3"/><circle cx="231.50" cy="94.36" r="1.3"/><circle cx="232.05" cy="96.12" r="1.3"/><circle cx="232.60" cy="95.82" r="1.3"/><circle cx="233.16" cy="96.05" r="1.3"/><circle cx="233.71" cy="94.48" r="1.3"/><circle cx="234.26" cy="96.62" r="1.3"/><circle cx="234.82" cy="95.52" r="1.3"/><circle cx="235.37" cy="96.12" r="1.3"/><circle cx="235.93" cy="86.08" r="1.3"/><circle cx="236.48" cy="84.37" r="1.3"/><circle cx="237.03" cy="86.75" r="1.3"/><circle cx="237.59" cy="86.49" r="1.3"/><circle cx="238.14" cy="88.49" r="1.3"/><circle cx="238.69" cy="85.51" r="1.3"/><circle cx="239.25" cy="86.36" r="1.3"/><circle cx="239.80" cy="85.63" r="1.3"/><circle cx="240.35" cy="87.67" r="1.3"/><circle cx="240.91" cy="86.58" r="1.3"/><circle cx="241.46" cy="85.44" r="1.3"/><circle cx="242.02" cy="85.44" r="1.3"/><circle cx="242.57" cy="85.76" r="1.3"/><circle cx="243.12" cy="86.17" r="1.3"/><circle cx="243.68" cy="86.43" r="1.3"/><circle cx="244.23" cy="85.67" r="1.3"/><circle cx="244.78" cy="86.38" r="1.3"/><circle cx="245.34" cy="85.47" r="1.3"/><circle cx="245.89" cy="84.12" r="1.3"/><circle cx="246.44" cy="85.58" r="1.3"/><circle cx="247.00" cy="86.20" r="1.3"/><circle cx="247.55" cy="86.13" r="1.3"/><circle cx="248.11" cy="87.53" r="1.3"/><circle cx="248.66" cy="85.82" r="1.3"/><circle cx="249.21" cy="87.13" r="1.3"/><circle cx="249.77" cy="72.09" r="1.3"/><circle cx="250.32" cy="71.91" r="1.3"/><circle cx="250.87" cy="73.20" r="1.3"/><circle cx="251.43" cy="72.53" r="1.3"/><circle cx="251.98" cy="73.98" r="1.3"/><circle cx="252.53" cy="72.34" r="1.3"/><circle cx="253.09" cy="74.92" r="1.3"/><circle cx="253.64" cy="73.28" r="1.3"/><circle cx="254.20" cy="72.85" r="1.3"/><circle cx="254.75" cy="71.89" r="1.3"/><circle cx="255.30" cy="72.21" r="1.3"/><circle cx="255.86" cy="71.93" r="1.3"/><circle cx="256.41" cy="73.85" r="1.3"/><circle cx="256.96" cy="73.10" r="1.3"/><circle cx="257.52" cy="71.96" r="1.3"/><circle cx="258.07" cy="75.21" r="1.3"/><circle cx="258.63" cy="74.82" r="1.3"/><circle cx="259.18" cy="72.92" r="1.3"/><circle cx="259.73" cy="73.21" r="1.3"/><circle cx="260.29" cy="73.13" r="1.3"/><circle cx="260.84" cy="73.25" r="1.3"/><circle cx="261.39" cy="71.90" r="1.3"/><circle cx="261.95" cy="73.79" r="1.3"/><circle cx="262.50" cy="74.84" r="1.3"/><circle cx="263.05" cy="74.92" r="1.3"/><circle cx="263.61" cy="64.49" r="1.3"/><circle cx="264.16" cy="63.50" r="1.3"/><circle cx="264.72" cy="63.88" r="1.3"/><circle cx="265.27" cy="61.62" r="1.3"/><circle cx="265.82" cy="62.82" r="1.3"/><circle cx="266.38" cy="63.51" r="1.3"/><circle cx="266.93" cy="63.85" r="1.3"/><circle cx="267.48" cy="64.88" r="1.3"/><circle cx="268.04" cy="62.36" r="1.3"/><circle cx="268.59" cy="63.31" r="1.3"/><circle cx="269.14" cy="63.16" r="1.3"/><circle cx="269.70" cy="64.81" r="1.3"/><circle cx="270.25" cy="62.44" r="1.3"/><circle cx="270.81" cy="64.18" r="1.3"/><circle cx="271.36" cy="64.78" r="1.3"/><circle cx="271.91" cy="64.44" r="1.3"/><circle cx="272.47" cy="65.56" r="1.3"/><circle cx="273.02" cy="63.93" r="1.3"/><circle cx="273.57" cy="62.63" r="1.3"/><circle cx="274.13" cy="65.44" r="1.3"/><circle cx="274.68" cy="63.04" r="1.3"/><circle cx="275.24" cy="62.58" r="1.3"/><circle cx="275.79" cy="62.69" r="1.3"/><circle cx="276.34" cy="62.05" r="1.3"/><circle cx="276.90" cy="62.89" r="1.3"/><circle cx="277.45" cy="53.09" r="1.3"/><circle cx="278.00" cy="54.31" r="1.3"/><circle cx="278.56" cy="52.02" r="1.3"/><circle cx="279.11" cy="53.53" r="1.3"/><circle cx="279.66" cy="54.96" r="1.3"/><circle cx="280.22" cy="52.07" r="1.3"/><circle cx="280.77" cy="53.43" r="1.3"/><circle cx="281.33" cy="54.94" r="1.3"/><circle cx="281.88" cy="53.71" r="1.3"/><circle cx="282.43" cy="54.05" r="1.3"/><circle cx="282.99" cy="55.05" r="1.3"/><circle cx="283.54" cy="53.10" r="1.3"/><circle cx="284.09" cy="54.89" r="1.3"/><circle cx="284.65" cy="51.27" r="1.3"/><circle cx="285.20" cy="53.36" r="1.3"/><circle cx="285.75" cy="53.37" r="1.3"/><circle cx="286.31" cy="52.28" r="1.3"/><circle cx="286.86" cy="54.08" r="1.3"/><circle cx="287.42" cy="56.00" r="1.3"/><circle cx="287.97" cy="53.68" r="1.3"/><circle cx="288.52" cy="52.65" r="1.3"/><circle cx="289.08" cy="55.45" r="1.3"/><circle cx="289.63" cy="53.71" r="1.3"/><circle cx="290.18" cy="54.42" r="1.3"/><circle cx="290.74" cy="51.83" r="1.3"/><circle cx="291.29" cy="46.30" r="1.3"/><circle cx="291.85" cy="43.11" r="1.3"/><circle cx="292.40" cy="42.98" r="1.3"/><circle cx="292.95" cy="45.95" r="1.3"/><circle cx="293.51" cy="47.37" r="1.3"/><circle cx="294.06" cy="45.05" r="1.3"/><circle cx="294.61" cy="45.79" r="1.3"/><circle cx="295.17" cy="44.48" r="1.3"/><circle cx="295.72" cy="44.28" r="1.3"/><circle cx="296.27" cy="45.34" r="1.3"/><circle cx="296.83" cy="44.93" r="1.3"/><circle cx="297.38" cy="45.67" r="1.3"/><circle cx="297.94" cy="45.11" r="1.3"/><circle cx="298.49" cy="44.99" r="1.3"/><circle cx="299.04" cy="45.13" r="1.3"/><circle cx="299.60" cy="44.52" r="1.3"/><circle cx="300.15" cy="44.51" r="1.3"/><circle cx="300.70" cy="44.49" r="1.3"/><circle cx="301.26" cy="47.07" r="1.3"/><circle cx="301.81" cy="46.01" r="1.3"/><circle cx="302.37" cy="46.18" r="1.3"/><circle cx="302.92" cy="46.13" r="1.3"/><circle cx="303.47" cy="45.41" r="1.3"/><circle cx="304.03" cy="45.83" r="1.3"/><circle cx="304.58" cy="44.44" r="1.3"/><circle cx="305.13" cy="34.21" r="1.3"/><circle cx="305.69" cy="35.98" r="1.3"/><circle cx="306.24" cy="34.01" r="1.3"/><circle cx="306.79" cy="34.75" r="1.3"/><circle cx="307.35" cy="36.13" r="1.3"/><circle cx="307.90" cy="36.31" r="1.3"/><circle cx="308.46" cy="35.26" r="1.3"/><circle cx="309.01" cy="36.21" r="1.3"/><circle cx="309.56" cy="34.50" r="1.3"/><circle cx="310.12" cy="35.85" r="1.3"/><circle cx="310.67" cy="36.36" r="1.3"/><circle cx="311.22" cy="34.81" r="1.3"/><circle cx="311.78" cy="37.33" r="1.3"/><circle cx="312.33" cy="35.54" r="1.3"/><circle cx="312.88" cy="35.04" r="1.3"/><circle cx="313.44" cy="34.95" r="1.3"/><circle cx="313.99" cy="35.72" r="1.3"/><circle cx="314.55" cy="36.25" r="1.3"/><circle cx="315.10" cy="37.20" r="1.3"/><circle cx="315.65" cy="35.95" r="1.3"/><circle cx="316.21" cy="36.47" r="1.3"/><circle cx="316.76" cy="36.76" r="1.3"/><circle cx="317.31" cy="35.29" r="1.3"/><circle cx="317.87" cy="36.23" r="1.3"/><circle cx="318.42" cy="33.81" r="1.3"/><circle cx="318.98" cy="26.70" r="1.3"/><circle cx="319.53" cy="28.31" r="1.3"/><circle cx="320.08" cy="27.10" r="1.3"/><circle cx="320.64" cy="30.45" r="1.3"/><circle cx="321.19" cy="27.28" r="1.3"/><circle cx="321.74" cy="30.36" r="1.3"/><circle cx="322.30" cy="28.86" r="1.3"/><circle cx="322.85" cy="28.04" r="1.3"/><circle cx="323.40" cy="27.28" r="1.3"/><circle cx="323.96" cy="26.19" r="1.3"/><circle cx="324.51" cy="29.72" r="1.3"/><circle cx="325.07" cy="29.40" r="1.3"/><circle cx="325.62" cy="28.18" r="1.3"/><circle cx="326.17" cy="27.46" r="1.3"/><circle cx="326.73" cy="29.63" r="1.3"/><circle cx="327.28" cy="28.33" r="1.3"/><circle cx="327.83" cy="28.15" r="1.3"/><circle cx="328.39" cy="27.20" r="1.3"/><circle cx="328.94" cy="28.19" r="1.3"/><circle cx="329.49" cy="28.29" r="1.3"/><circle cx="330.05" cy="29.31" r="1.3"/><circle cx="330.60" cy="29.96" r="1.3"/><circle cx="331.16" cy="27.89" r="1.3"/><circle cx="331.71" cy="28.39" r="1.3"/><circle cx="332.26" cy="27.50" r="1.3"/><circle cx="332.82" cy="22.21" r="1.3"/><circle cx="333.37" cy="22.32" r="1.3"/><circle cx="333.92" cy="21.11" r="1.3"/><circle cx="334.48" cy="23.01" r="1.3"/><circle cx="335.03" cy="22.51" r="1.3"/><circle cx="335.59" cy="23.45" r="1.3"/><circle cx="336.14" cy="22.59" r="1.3"/><circle cx="336.69" cy="21.20" r="1.3"/><circle cx="337.25" cy="18.77" r="1.3"/><circle cx="337.80" cy="20.36" r="1.3"/><circle cx="338.35" cy="20.30" r="1.3"/><circle cx="338.91" cy="22.75" r="1.3"/><circle cx="339.46" cy="20.91" r="1.3"/><circle cx="340.01" cy="21.24" r="1.3"/><circle cx="340.57" cy="20.61" r="1.3"/><circle cx="341.12" cy="20.92" r="1.3"/><circle cx="341.68" cy="20.88" r="1.3"/><circle cx="342.23" cy="19.95" r="1.3"/><circle cx="342.78" cy="21.15" r="1.3"/><circle cx="343.34" cy="21.74" r="1.3"/><circle cx="343.89" cy="19.86" r="1.3"/><circle cx="344.44" cy="22.44" r="1.3"/><circle cx="345.00" cy="20.56" r="1.3"/><circle cx="345.55" cy="22.32" r="1.3"/><circle cx="346.10" cy="19.04" r="1.3"/><circle cx="346.66" cy="19.89" r="1.3"/><circle cx="347.21" cy="18.24" r="1.3"/><circle cx="347.77" cy="19.24" r="1.3"/><circle cx="348.32" cy="21.13" r="1.3"/><circle cx="348.87" cy="18.24" r="1.3"/><circle cx="349.43" cy="21.03" r="1.3"/><circle cx="349.98" cy="20.11" r="1.3"/><circle cx="350.53" cy="17.86" r="1.3"/><circle cx="351.09" cy="20.69" r="1.3"/><circle cx="351.64" cy="19.92" r="1.3"/><circle cx="352.19" cy="20.80" r="1.3"/><circle cx="352.75" cy="22.31" r="1.3"/><circle cx="353.30" cy="17.89" r="1.3"/><circle cx="353.86" cy="21.89" r="1.3"/><circle cx="354.41" cy="18.08" r="1.3"/><circle cx="354.96" cy="19.78" r="1.3"/><circle cx="355.52" cy="19.83" r="1.3"/><circle cx="356.07" cy="19.59" r="1.3"/><circle cx="356.62" cy="19.68" r="1.3"/><circle cx="357.18" cy="18.89" r="1.3"/><circle cx="357.73" cy="20.78" r="1.3"/><circle cx="358.29" cy="20.15" r="1.3"/><circle cx="358.84" cy="18.35" r="1.3"/><circle cx="359.39" cy="20.05" r="1.3"/><circle cx="359.95" cy="20.67" r="1.3"/><circle cx="360.50" cy="18.90" r="1.3"/></g></g><line x1="208.24" y1="89.99" x2="208.24" y2="99.49" stroke="#1eaee8" stroke-width="1.5"/><path d="M204.94,95.69 L208.24,97.29 L211.54,95.69 L208.24,101.49 Z" fill="#1eaee8"/><line x1="222.08" y1="80.11" x2="222.08" y2="89.61" stroke="#1eaee8" stroke-width="1.5"/><path d="M218.78,85.81 L222.08,87.41 L225.38,85.81 L222.08,91.61 Z" fill="#1eaee8"/><line x1="235.93" y1="70.61" x2="235.93" y2="80.11" stroke="#1eaee8" stroke-width="1.5"/><path d="M232.62,76.31 L235.93,77.91 L239.23,76.31 L235.93,82.11 Z" fill="#1eaee8"/><line x1="249.77" y1="57.50" x2="249.77" y2="67.00" stroke="#1eaee8" stroke-width="1.5"/><path d="M246.47,63.20 L249.77,64.80 L253.07,63.20 L249.77,69.00 Z" fill="#1eaee8"/><line x1="263.61" y1="47.62" x2="263.61" y2="57.12" stroke="#1eaee8" stroke-width="1.5"/><path d="M260.31,53.32 L263.61,54.92 L266.91,53.32 L263.61,59.12 Z" fill="#1eaee8"/><line x1="277.45" y1="38.31" x2="277.45" y2="47.81" stroke="#1eaee8" stroke-width="1.5"/><path d="M274.15,44.01 L277.45,45.61 L280.75,44.01 L277.45,49.81 Z" fill="#1eaee8"/><line x1="291.29" y1="29.28" x2="291.29" y2="38.78" stroke="#1eaee8" stroke-width="1.5"/><path d="M287.99,34.98 L291.29,36.59 L294.59,34.98 L291.29,40.78 Z" fill="#1eaee8"/><line x1="305.13" y1="20.26" x2="305.13" y2="29.76" stroke="#1eaee8" stroke-width="1.5"/><path d="M301.83,25.96 L305.13,27.56 L308.43,25.96 L305.13,31.76 Z" fill="#1eaee8"/><line x1="318.98" y1="12.38" x2="318.98" y2="21.88" stroke="#1eaee8" stroke-width="1.5"/><path d="M315.68,18.08 L318.98,19.68 L322.28,18.08 L318.98,23.88 Z" fill="#1eaee8"/><line x1="332.82" y1="6.01" x2="332.82" y2="15.51" stroke="#1eaee8" stroke-width="1.5"/><path d="M329.52,11.71 L332.82,13.31 L336.12,11.71 L332.82,17.51 Z" fill="#1eaee8"/><line x1="346.66" y1="5.06" x2="346.66" y2="14.56" stroke="#1eaee8" stroke-width="1.5"/><path d="M343.36,10.76 L346.66,12.36 L349.96,10.76 L346.66,16.56 Z" fill="#1eaee8"/><text x="203.80" y="55.00" font-size="9.2" text-anchor="middle" fill="#111" >M1</text><text x="349.20" y="35.60" font-size="9.2" text-anchor="middle" fill="#111" >M2</text><rect x="395.30" y="8.6" width="2.72" height="114.20" fill="url(#g14)"/><rect x="397.22" y="8.6" width="2.72" height="114.20" fill="url(#g15)"/><rect x="399.14" y="8.6" width="2.72" height="114.20" fill="url(#g16)"/><rect x="401.06" y="8.6" width="2.72" height="114.20" fill="url(#g17)"/><rect x="402.97" y="8.6" width="2.72" height="114.20" fill="url(#g18)"/><rect x="404.89" y="8.6" width="2.72" height="114.20" fill="url(#g19)"/><rect x="406.81" y="8.6" width="2.72" height="114.20" fill="url(#g20)"/><rect x="408.73" y="8.6" width="2.72" height="114.20" fill="url(#g21)"/><rect x="410.65" y="8.6" width="2.72" height="114.20" fill="url(#g22)"/><rect x="412.56" y="8.6" width="2.72" height="114.20" fill="url(#g23)"/><rect x="414.48" y="8.6" width="2.72" height="114.20" fill="url(#g24)"/><rect x="416.40" y="8.6" width="2.72" height="114.20" fill="url(#g25)"/><rect x="418.32" y="8.6" width="2.72" height="114.20" fill="url(#g26)"/><rect x="420.24" y="8.6" width="2.72" height="114.20" fill="url(#g27)"/><rect x="422.16" y="8.6" width="2.72" height="114.20" fill="url(#g28)"/><rect x="424.07" y="8.6" width="2.72" height="114.20" fill="url(#g29)"/><rect x="425.99" y="8.6" width="2.72" height="114.20" fill="url(#g30)"/><rect x="427.91" y="8.6" width="2.72" height="114.20" fill="url(#g31)"/><rect x="429.83" y="8.6" width="2.72" height="114.20" fill="url(#g32)"/><rect x="431.75" y="8.6" width="2.72" height="114.20" fill="url(#g33)"/><rect x="433.67" y="8.6" width="2.72" height="114.20" fill="url(#g34)"/><rect x="435.58" y="8.6" width="2.72" height="114.20" fill="url(#g35)"/><rect x="437.50" y="8.6" width="2.72" height="114.20" fill="url(#g36)"/><rect x="439.42" y="8.6" width="2.72" height="114.20" fill="url(#g37)"/><rect x="441.34" y="8.6" width="2.72" height="114.20" fill="url(#g38)"/><rect x="443.26" y="8.6" width="2.72" height="114.20" fill="url(#g39)"/><rect x="445.18" y="8.6" width="2.72" height="114.20" fill="url(#g40)"/><rect x="447.10" y="8.6" width="2.72" height="114.20" fill="url(#g41)"/><rect x="449.01" y="8.6" width="2.72" height="114.20" fill="url(#g42)"/><rect x="450.93" y="8.6" width="2.72" height="114.20" fill="url(#g43)"/><rect x="452.85" y="8.6" width="2.72" height="114.20" fill="url(#g44)"/><rect x="454.77" y="8.6" width="2.72" height="114.20" fill="url(#g45)"/><rect x="456.69" y="8.6" width="2.72" height="114.20" fill="url(#g46)"/><rect x="458.61" y="8.6" width="2.72" height="114.20" fill="url(#g47)"/><rect x="460.52" y="8.6" width="2.72" height="114.20" fill="url(#g48)"/><rect x="462.44" y="8.6" width="2.72" height="114.20" fill="url(#g49)"/><rect x="464.36" y="8.6" width="2.72" height="114.20" fill="url(#g50)"/><rect x="466.28" y="8.6" width="2.72" height="114.20" fill="url(#g51)"/><rect x="468.20" y="8.6" width="2.72" height="114.20" fill="url(#g52)"/><rect x="470.12" y="8.6" width="2.72" height="114.20" fill="url(#g53)"/><rect x="472.03" y="8.6" width="2.72" height="114.20" fill="url(#g54)"/><rect x="473.95" y="8.6" width="2.72" height="114.20" fill="url(#g55)"/><rect x="475.87" y="8.6" width="2.72" height="114.20" fill="url(#g56)"/><rect x="477.79" y="8.6" width="2.72" height="114.20" fill="url(#g57)"/><rect x="479.71" y="8.6" width="2.72" height="114.20" fill="url(#g58)"/><rect x="481.62" y="8.6" width="2.72" height="114.20" fill="url(#g59)"/><rect x="483.54" y="8.6" width="2.72" height="114.20" fill="url(#g60)"/><rect x="485.46" y="8.6" width="2.72" height="114.20" fill="url(#g61)"/><rect x="487.38" y="8.6" width="2.72" height="114.20" fill="url(#g62)"/><rect x="489.30" y="8.6" width="2.72" height="114.20" fill="url(#g63)"/><rect x="491.22" y="8.6" width="2.72" height="114.20" fill="url(#g64)"/><rect x="493.13" y="8.6" width="2.72" height="114.20" fill="url(#g65)"/><rect x="495.05" y="8.6" width="2.72" height="114.20" fill="url(#g66)"/><rect x="496.97" y="8.6" width="2.72" height="114.20" fill="url(#g67)"/><rect x="498.89" y="8.6" width="2.72" height="114.20" fill="url(#g68)"/><rect x="500.81" y="8.6" width="2.72" height="114.20" fill="url(#g69)"/><rect x="502.73" y="8.6" width="2.72" height="114.20" fill="url(#g70)"/><rect x="504.64" y="8.6" width="2.72" height="114.20" fill="url(#g71)"/><rect x="506.56" y="8.6" width="2.72" height="114.20" fill="url(#g72)"/><rect x="508.48" y="8.6" width="1.92" height="114.20" fill="url(#g73)"/><rect x="395.30" y="8.60" width="115.10" height="114.20" fill="none" stroke="#2a2a2a" stroke-width="0.9"/><line x1="395.30" y1="119.20" x2="397.60" y2="119.20" stroke="#222" stroke-width="0.8" /><line x1="508.10" y1="119.20" x2="510.40" y2="119.20" stroke="#222" stroke-width="0.8" /><text x="392.90" y="122.00" font-size="9.2" text-anchor="end" fill="#111" >6</text><line x1="395.30" y1="91.84" x2="397.60" y2="91.84" stroke="#222" stroke-width="0.8" /><line x1="508.10" y1="91.84" x2="510.40" y2="91.84" stroke="#222" stroke-width="0.8" /><text x="392.90" y="94.64" font-size="9.2" text-anchor="end" fill="#111" >8</text><line x1="395.30" y1="64.48" x2="397.60" y2="64.48" stroke="#222" stroke-width="0.8" /><line x1="508.10" y1="64.48" x2="510.40" y2="64.48" stroke="#222" stroke-width="0.8" /><text x="392.90" y="67.28" font-size="9.2" text-anchor="end" fill="#111" >10</text><line x1="395.30" y1="37.12" x2="397.60" y2="37.12" stroke="#222" stroke-width="0.8" /><line x1="508.10" y1="37.12" x2="510.40" y2="37.12" stroke="#222" stroke-width="0.8" /><text x="392.90" y="39.92" font-size="9.2" text-anchor="end" fill="#111" >12</text><line x1="395.30" y1="9.76" x2="397.60" y2="9.76" stroke="#222" stroke-width="0.8" /><line x1="508.10" y1="9.76" x2="510.40" y2="9.76" stroke="#222" stroke-width="0.8" /><text x="392.90" y="12.56" font-size="9.2" text-anchor="end" fill="#111" >14</text><line x1="395.30" y1="122.80" x2="395.30" y2="120.50" stroke="#222" stroke-width="0.8" /><line x1="395.30" y1="8.60" x2="395.30" y2="10.90" stroke="#222" stroke-width="0.8" /><text x="395.30" y="132.10" font-size="9.2" text-anchor="middle" fill="#111" >-20</text><line x1="424.08" y1="122.80" x2="424.08" y2="120.50" stroke="#222" stroke-width="0.8" /><line x1="424.08" y1="8.60" x2="424.08" y2="10.90" stroke="#222" stroke-width="0.8" /><text x="424.08" y="132.10" font-size="9.2" text-anchor="middle" fill="#111" >-10</text><line x1="452.85" y1="122.80" x2="452.85" y2="120.50" stroke="#222" stroke-width="0.8" /><line x1="452.85" y1="8.60" x2="452.85" y2="10.90" stroke="#222" stroke-width="0.8" /><text x="452.85" y="132.10" font-size="9.2" text-anchor="middle" fill="#111" >0</text><line x1="481.62" y1="122.80" x2="481.62" y2="120.50" stroke="#222" stroke-width="0.8" /><line x1="481.62" y1="8.60" x2="481.62" y2="10.90" stroke="#222" stroke-width="0.8" /><text x="481.62" y="132.10" font-size="9.2" text-anchor="middle" fill="#111" >10</text><line x1="510.40" y1="122.80" x2="510.40" y2="120.50" stroke="#222" stroke-width="0.8" /><line x1="510.40" y1="8.60" x2="510.40" y2="10.90" stroke="#222" stroke-width="0.8" /><text x="510.40" y="132.10" font-size="9.2" text-anchor="middle" fill="#111" >20</text><text x="453.80" y="144.00" font-size="9.4" text-anchor="middle" fill="#111" >Field (mT)</text><text transform="translate(380.3,66.3) rotate(-90)" font-size="9.4" text-anchor="middle" fill="#111"><tspan font-style="italic">f</tspan> (GHz)</text><text x="370.4" y="7.1" font-size="10" font-weight="bold" fill="#111">c</text><line x1="445.30" y1="78.00" x2="437.76" y2="70.09" stroke="#fff" stroke-width="1.15"/><path d="M435.00,67.20 L440.48,68.89 L437.62,69.95 L436.42,72.75 Z" fill="#fff"/><line x1="461.60" y1="77.80" x2="468.35" y2="70.19" stroke="#fff" stroke-width="1.15"/><path d="M471.00,67.20 L469.78,72.80 L468.48,70.04 L465.59,69.08 Z" fill="#fff"/><text x="453.20" y="86.00" font-size="9.2" text-anchor="middle" fill="#fff" >M2</text><line x1="415.90" y1="95.40" x2="414.95" y2="88.56" stroke="#111" stroke-width="1.15"/><path d="M414.40,84.60 L417.86,89.17 L414.92,88.36 L412.31,89.94 Z" fill="#111"/><text x="418.00" y="106.30" font-size="9.2" text-anchor="middle" fill="#111" >Mx</text><rect x="516.3" y="12.6" width="7.60" height="106.80" fill="url(#g74)" stroke="#333" stroke-width="0.6"/><line x1="522.60" y1="31.90" x2="523.90" y2="31.90" stroke="#222" stroke-width="0.6" /><text x="525.00" y="35.20" font-size="9.2" text-anchor="start" fill="#111" >40</text><line x1="522.60" y1="57.20" x2="523.90" y2="57.20" stroke="#222" stroke-width="0.6" /><text x="525.00" y="60.50" font-size="9.2" text-anchor="start" fill="#111" >20</text><line x1="522.60" y1="82.30" x2="523.90" y2="82.30" stroke="#222" stroke-width="0.6" /><text x="525.00" y="85.60" font-size="9.2" text-anchor="start" fill="#111" >0</text><line x1="522.60" y1="107.60" x2="523.90" y2="107.60" stroke="#222" stroke-width="0.6" /><text x="523.80" y="110.90" font-size="9.2" text-anchor="start" fill="#111" >-20</text><text x="538.7" y="7.2" font-size="10" font-weight="bold" fill="#111">d</text><line x1="550.30" y1="15.50" x2="550.30" y2="122.10" stroke="#222" stroke-width="1.0" /><line x1="549.80" y1="121.90" x2="680.00" y2="121.90" stroke="#222" stroke-width="1.0" /><path d="M550.3,8.6 L554.3,17.2 L550.3,15.6 L546.3,17.2 Z" fill="#222"/><text x="552.50" y="9.40" font-size="9.5" text-anchor="start" fill="#222" >Energy</text><path d="M553.50,34.00 C554.70,34.27 558.38,34.43 560.70,35.60 C563.02,36.77 565.38,38.67 567.40,41.00 C569.42,43.33 571.00,47.20 572.80,49.60 C574.60,52.00 576.42,55.07 578.20,55.40 C579.98,55.73 581.72,53.80 583.50,51.60 C585.28,49.40 587.15,44.48 588.90,42.20 C590.65,39.92 593.15,38.62 594.00,37.90" fill="none" stroke="url(#cv1)" stroke-width="2.1" stroke-linecap="round"/><path d="M594.00,37.90 C594.77,38.75 597.15,39.73 598.60,43.00 C600.05,46.27 601.43,52.92 602.70,57.50 C603.97,62.08 605.10,66.08 606.20,70.50 C607.30,74.92 608.27,79.08 609.30,84.00 C610.33,88.92 611.38,96.13 612.40,100.00 C613.42,103.87 614.42,107.12 615.40,107.20 C616.38,107.28 617.43,103.62 618.30,100.50 C619.17,97.38 619.82,92.75 620.60,88.50 C621.38,84.25 622.17,79.33 623.00,75.00 C623.83,70.67 624.77,66.42 625.60,62.50 C626.43,58.58 627.18,54.05 628.00,51.50 C628.82,48.95 629.67,47.45 630.50,47.20 C631.33,46.95 632.18,48.60 633.00,50.00 C633.82,51.40 634.58,55.60 635.40,55.60 C636.22,55.60 637.07,51.40 637.90,50.00 C638.73,48.60 639.47,46.87 640.40,47.20 C641.33,47.53 642.47,49.53 643.50,52.00 C644.53,54.47 645.65,58.75 646.60,62.00 C647.55,65.25 648.33,69.07 649.20,71.50 C650.07,73.93 651.37,75.75 651.80,76.60" fill="none" stroke="#232c7c" stroke-width="2.1" stroke-linejoin="round"/><path d="M651.80,76.60 C652.25,75.83 653.55,74.35 654.50,72.00 C655.45,69.65 656.45,65.67 657.50,62.50 C658.55,59.33 659.72,55.97 660.80,53.00 C661.88,50.03 662.88,47.12 664.00,44.70 C665.12,42.28 666.25,40.18 667.50,38.50 C668.75,36.82 670.83,35.25 671.50,34.60" fill="none" stroke="url(#cv3)" stroke-width="2.1"/><path d="M583.40,40.80 C584.38,39.77 587.32,35.90 589.30,34.60 C591.28,33.30 593.30,32.77 595.30,33.00 C597.30,33.23 599.57,34.13 601.30,36.00 C603.03,37.87 604.37,40.87 605.70,44.20 C607.03,47.53 608.32,52.45 609.30,56.00 C610.28,59.55 611.06,63.07 611.60,65.50 C612.14,67.93 612.37,69.74 612.52,70.59" fill="none" stroke="#ee4540" stroke-width="1.25"/><path d="M613.50,76.00 L609.19,70.17 L612.56,70.78 L615.49,69.03 Z" fill="#ee4540"/><path d="M618.30,73.50 C618.63,71.75 619.62,66.17 620.30,63.00 C620.98,59.83 621.23,58.07 622.40,54.50 C623.57,50.93 625.27,44.47 627.30,41.60 C629.33,38.73 632.15,37.65 634.60,37.30 C637.05,36.95 640.02,38.13 642.00,39.50 C643.98,40.87 645.50,43.98 646.50,45.50 C647.50,47.02 647.76,48.12 648.01,48.64" fill="none" stroke="#1ea9ea" stroke-width="1.25"/><path d="M650.40,53.60 L644.70,49.13 L648.10,48.82 L650.46,46.36 Z" fill="#1ea9ea"/><path d="M656.00,55.00 C655.07,52.47 652.83,44.20 650.40,39.80 C647.97,35.40 644.88,31.58 641.40,28.60 C637.92,25.62 634.20,23.38 629.50,21.90 C624.80,20.42 618.15,19.70 613.20,19.70 C608.25,19.70 603.78,20.75 599.80,21.90 C595.82,23.05 592.10,24.98 589.30,26.60 C586.50,28.22 584.41,30.27 583.00,31.60 C581.59,32.93 581.20,34.09 580.84,34.58" fill="none" stroke="#2a2a2a" stroke-width="1.05" stroke-dasharray="2.6 1.6"/><path d="M577.80,38.80 L578.75,31.84 L580.73,34.75 L584.11,35.71 Z" fill="#2a2a2a"/><circle cx="579.2" cy="47.2" r="3.75" fill="url(#bk)"/><circle cx="615.6" cy="88.3" r="3.7" fill="url(#rd)"/><circle cx="651.8" cy="64.0" r="3.7" fill="url(#nv)"/><text x="578.50" y="66.60" font-size="9.0" text-anchor="middle" fill="#333" >DW</text><text x="630.50" y="94.40" font-size="9.0" text-anchor="middle" fill="#c8102e" >M1</text><text x="635.80" y="66.80" font-size="9.0" text-anchor="middle" fill="#505050" >Mx</text><text x="665.80" y="73.30" font-size="9.0" text-anchor="middle" fill="#2e2e96" >M2</text><line x1="641.2" y1="114.8" x2="592.5" y2="114.8" stroke="#2a2a2a" stroke-width="1.05" stroke-dasharray="2.6 1.6"/><path d="M586.6,114.8 L594.2,111.2 L592.8,114.8 L594.2,118.4 Z" fill="#2a2a2a"/><text x="644.00" y="118.20" font-size="9.3" text-anchor="start" fill="#1a1a1a" font-style="italic">H</text><line x1="569.1" y1="128.6" x2="598.5" y2="128.6" stroke="#ee4540" stroke-width="1.45"/><path d="M604.0,128.6 L596.4,124.9 L598.0,128.6 L596.4,132.3 Z" fill="#ee4540"/><line x1="629.9" y1="128.6" x2="659.0" y2="128.6" stroke="#1ea9ea" stroke-width="1.45"/><path d="M664.4,128.6 L656.8,124.9 L658.4,128.6 L656.8,132.3 Z" fill="#1ea9ea"/><text x="585.10" y="139.70" font-size="9.3" text-anchor="middle" fill="#ee4540" >1 pulse</text><text x="647.60" y="141.30" font-size="9.3" text-anchor="middle" fill="#1ea9ea" >10 pulses</text><text x="1.4" y="150.2" font-size="10" font-weight="bold" fill="#111">e</text><rect x="23.4" y="158.4" width="643.30" height="76.90" fill="url(#pe)"/><rect x="23.40" y="158.40" width="643.30" height="76.90" fill="none" stroke="#1a1a1a" stroke-width="1.0"/><line x1="23.40" y1="211.20" x2="26.60" y2="211.20" stroke="#222" stroke-width="1.0" /><line x1="663.10" y1="211.20" x2="666.70" y2="211.20" stroke="#222" stroke-width="1.1" /><text x="21.00" y="214.00" font-size="9.2" text-anchor="end" fill="#111" >8</text><line x1="23.40" y1="184.80" x2="26.60" y2="184.80" stroke="#222" stroke-width="1.0" /><line x1="663.10" y1="184.80" x2="666.70" y2="184.80" stroke="#222" stroke-width="1.1" /><text x="21.00" y="187.60" font-size="9.2" text-anchor="end" fill="#111" >10</text><line x1="23.40" y1="158.40" x2="26.60" y2="158.40" stroke="#222" stroke-width="1.0" /><line x1="663.10" y1="158.40" x2="666.70" y2="158.40" stroke="#222" stroke-width="1.1" /><text x="21.00" y="160.60" font-size="9.2" text-anchor="end" fill="#111" >12</text><line x1="23.40" y1="158.40" x2="23.40" y2="162.00" stroke="#222" stroke-width="0.9" /><line x1="23.40" y1="235.30" x2="23.40" y2="231.90" stroke="#222" stroke-width="0.9" /><line x1="87.73" y1="158.40" x2="87.73" y2="162.00" stroke="#222" stroke-width="0.9" /><line x1="87.73" y1="235.30" x2="87.73" y2="231.90" stroke="#222" stroke-width="0.9" /><line x1="152.06" y1="158.40" x2="152.06" y2="162.00" stroke="#222" stroke-width="0.9" /><line x1="152.06" y1="235.30" x2="152.06" y2="231.90" stroke="#222" stroke-width="0.9" /><line x1="216.39" y1="158.40" x2="216.39" y2="162.00" stroke="#222" stroke-width="0.9" /><line x1="216.39" y1="235.30" x2="216.39" y2="231.90" stroke="#222" stroke-width="0.9" /><line x1="280.72" y1="158.40" x2="280.72" y2="162.00" stroke="#222" stroke-width="0.9" /><line x1="280.72" y1="235.30" x2="280.72" y2="231.90" stroke="#222" stroke-width="0.9" /><line x1="345.05" y1="158.40" x2="345.05" y2="162.00" stroke="#222" stroke-width="0.9" /><line x1="345.05" y1="235.30" x2="345.05" y2="231.90" stroke="#222" stroke-width="0.9" /><line x1="409.38" y1="158.40" x2="409.38" y2="162.00" stroke="#222" stroke-width="0.9" /><line x1="409.38" y1="235.30" x2="409.38" y2="231.90" stroke="#222" stroke-width="0.9" /><line x1="473.71" y1="158.40" x2="473.71" y2="162.00" stroke="#222" stroke-width="0.9" /><line x1="473.71" y1="235.30" x2="473.71" y2="231.90" stroke="#222" stroke-width="0.9" /><line x1="538.04" y1="158.40" x2="538.04" y2="162.00" stroke="#222" stroke-width="0.9" /><line x1="538.04" y1="235.30" x2="538.04" y2="231.90" stroke="#222" stroke-width="0.9" /><line x1="602.37" y1="158.40" x2="602.37" y2="162.00" stroke="#222" stroke-width="0.9" /><line x1="602.37" y1="235.30" x2="602.37" y2="231.90" stroke="#222" stroke-width="0.9" /><line x1="666.70" y1="158.40" x2="666.70" y2="162.00" stroke="#222" stroke-width="0.9" /><line x1="666.70" y1="235.30" x2="666.70" y2="231.90" stroke="#222" stroke-width="0.9" /><text transform="translate(8.6,190.5) rotate(-90)" font-size="9.4" text-anchor="middle" fill="#111"><tspan font-style="italic">f</tspan> (GHz)</text><text x="669.40" y="176.00" font-size="9.2" text-anchor="start" fill="#111" >DW</text><text x="669.40" y="197.40" font-size="9.2" text-anchor="start" fill="#2e3aa6" >M2</text><text x="669.40" y="223.40" font-size="9.2" text-anchor="start" fill="#cc1530" >M1</text><g clip-path="url(#clipel)"><line x1="25.65" y1="251.4" x2="25.85" y2="298.0" stroke="#ec3b45" stroke-width="0.85"/><line x1="27.45" y1="298.0" x2="27.60" y2="272.6" stroke="#3a68c0" stroke-width="0.85"/><line x1="29.65" y1="272.6" x2="29.80" y2="251.4" stroke="#3a3a3a" stroke-width="0.85"/><line x1="32.08" y1="251.4" x2="32.28" y2="298.0" stroke="#ec3b45" stroke-width="0.85"/><line x1="33.88" y1="298.0" x2="34.03" y2="272.6" stroke="#3a68c0" stroke-width="0.85"/><line x1="36.08" y1="272.6" x2="36.23" y2="251.4" stroke="#3a3a3a" stroke-width="0.85"/><line x1="38.52" y1="251.4" x2="38.72" y2="298.0" stroke="#ec3b45" stroke-width="0.85"/><line x1="40.32" y1="298.0" x2="40.47" y2="272.6" stroke="#3a68c0" stroke-width="0.85"/><line x1="42.52" y1="272.6" x2="42.67" y2="251.4" stroke="#3a3a3a" stroke-width="0.85"/><line x1="44.95" y1="251.4" x2="45.15" y2="298.0" stroke="#ec3b45" stroke-width="0.85"/><line x1="46.75" y1="298.0" x2="46.90" y2="272.6" stroke="#3a68c0" stroke-width="0.85"/><line x1="48.95" y1="272.6" x2="49.10" y2="251.4" stroke="#3a3a3a" stroke-width="0.85"/><line x1="51.38" y1="251.4" x2="51.58" y2="298.0" stroke="#ec3b45" stroke-width="0.85"/><line x1="53.18" y1="298.0" x2="53.33" y2="272.6" stroke="#3a68c0" stroke-width="0.85"/><line x1="55.38" y1="272.6" x2="55.53" y2="251.4" stroke="#3a3a3a" stroke-width="0.85"/><line x1="57.81" y1="251.4" x2="58.01" y2="298.0" stroke="#ec3b45" stroke-width="0.85"/><line x1="59.61" y1="298.0" x2="59.76" y2="272.6" stroke="#3a68c0" stroke-width="0.85"/><line x1="61.81" y1="272.6" x2="61.96" y2="251.4" stroke="#3a3a3a" stroke-width="0.85"/><line x1="64.25" y1="251.4" x2="64.45" y2="298.0" stroke="#ec3b45" stroke-width="0.85"/><line x1="66.05" y1="298.0" x2="66.20" y2="272.6" stroke="#3a68c0" stroke-width="0.85"/><line x1="68.25" y1="272.6" x2="68.40" y2="251.4" stroke="#3a3a3a" stroke-width="0.85"/><line x1="70.68" y1="251.4" x2="70.88" y2="298.0" stroke="#ec3b45" stroke-width="0.85"/><line x1="72.48" y1="298.0" x2="72.63" y2="272.6" stroke="#3a68c0" stroke-width="0.85"/><line x1="74.68" y1="272.6" x2="74.83" y2="251.4" stroke="#3a3a3a" stroke-width="0.85"/><line x1="77.11" y1="251.4" x2="77.31" y2="298.0" stroke="#ec3b45" stroke-width="0.85"/><line x1="78.91" y1="298.0" x2="79.06" y2="272.6" stroke="#3a68c0" stroke-width="0.85"/><line x1="81.11" y1="272.6" x2="81.26" y2="251.4" stroke="#3a3a3a" stroke-width="0.85"/><line x1="83.55" y1="251.4" x2="83.75" y2="298.0" stroke="#ec3b45" stroke-width="0.85"/><line x1="85.35" y1="298.0" x2="85.50" y2="272.6" stroke="#3a68c0" stroke-width="0.85"/><line x1="87.55" y1="272.6" x2="87.70" y2="251.4" stroke="#3a3a3a" stroke-width="0.85"/><line x1="89.98" y1="251.4" x2="90.18" y2="298.0" stroke="#ec3b45" stroke-width="0.85"/><line x1="91.78" y1="298.0" x2="91.93" y2="272.6" stroke="#3a68c0" stroke-width="0.85"/><line x1="93.98" y1="272.6" x2="94.13" y2="251.4" stroke="#3a3a3a" stroke-width="0.85"/><line x1="96.41" y1="251.4" x2="96.61" y2="298.0" stroke="#ec3b45" stroke-width="0.85"/><line x1="98.21" y1="298.0" x2="98.36" y2="272.6" stroke="#3a68c0" stroke-width="0.85"/><line x1="100.41" y1="272.6" x2="100.56" y2="251.4" stroke="#3a3a3a" stroke-width="0.85"/><line x1="102.85" y1="251.4" x2="103.05" y2="298.0" stroke="#ec3b45" stroke-width="0.85"/><line x1="104.65" y1="298.0" x2="104.80" y2="272.6" stroke="#3a68c0" stroke-width="0.85"/><line x1="106.85" y1="272.6" x2="107.00" y2="251.4" stroke="#3a3a3a" stroke-width="0.85"/><line x1="109.28" y1="251.4" x2="109.48" y2="298.0" stroke="#ec3b45" stroke-width="0.85"/><line x1="111.08" y1="298.0" x2="111.23" y2="272.6" stroke="#3a68c0" stroke-width="0.85"/><line x1="113.28" y1="272.6" x2="113.43" y2="251.4" stroke="#3a3a3a" stroke-width="0.85"/><line x1="115.71" y1="251.4" x2="115.91" y2="298.0" stroke="#ec3b45" stroke-width="0.85"/><line x1="117.51" y1="298.0" x2="117.66" y2="272.6" stroke="#3a68c0" stroke-width="0.85"/><line x1="119.71" y1="272.6" x2="119.86" y2="251.4" stroke="#3a3a3a" stroke-width="0.85"/><line x1="122.15" y1="251.4" x2="122.35" y2="298.0" stroke="#ec3b45" stroke-width="0.85"/><line x1="123.95" y1="298.0" x2="124.10" y2="272.6" stroke="#3a68c0" stroke-width="0.85"/><line x1="126.15" y1="272.6" x2="126.30" y2="251.4" stroke="#3a3a3a" stroke-width="0.85"/><line x1="128.58" y1="251.4" x2="128.78" y2="298.0" stroke="#ec3b45" stroke-width="0.85"/><line x1="130.38" y1="298.0" x2="130.53" y2="272.6" stroke="#3a68c0" stroke-width="0.85"/><line x1="132.58" y1="272.6" x2="132.73" y2="251.4" stroke="#3a3a3a" stroke-width="0.85"/><line x1="135.01" y1="251.4" x2="135.21" y2="298.0" stroke="#ec3b45" stroke-width="0.85"/><line x1="136.81" y1="298.0" x2="136.96" y2="272.6" stroke="#3a68c0" stroke-width="0.85"/><line x1="139.01" y1="272.6" x2="139.16" y2="251.4" stroke="#3a3a3a" stroke-width="0.85"/><line x1="141.44" y1="251.4" x2="141.64" y2="298.0" stroke="#ec3b45" stroke-width="0.85"/><line x1="143.24" y1="298.0" x2="143.39" y2="272.6" stroke="#3a68c0" stroke-width="0.85"/><line x1="145.44" y1="272.6" x2="145.59" y2="251.4" stroke="#3a3a3a" stroke-width="0.85"/><line x1="147.88" y1="251.4" x2="148.08" y2="298.0" stroke="#ec3b45" stroke-width="0.85"/><line x1="149.68" y1="298.0" x2="149.83" y2="272.6" stroke="#3a68c0" stroke-width="0.85"/><line x1="151.88" y1="272.6" x2="152.03" y2="251.4" stroke="#3a3a3a" stroke-width="0.85"/><line x1="154.31" y1="251.4" x2="154.51" y2="298.0" stroke="#ec3b45" stroke-width="0.85"/><line x1="156.11" y1="298.0" x2="156.26" y2="272.6" stroke="#3a68c0" stroke-width="0.85"/><line x1="158.31" y1="272.6" x2="158.46" y2="251.4" stroke="#3a3a3a" stroke-width="0.85"/><line x1="160.74" y1="251.4" x2="160.94" y2="298.0" stroke="#ec3b45" stroke-width="0.85"/><line x1="162.54" y1="298.0" x2="162.69" y2="272.6" stroke="#3a68c0" stroke-width="0.85"/><line x1="164.74" y1="272.6" x2="164.89" y2="251.4" stroke="#3a3a3a" stroke-width="0.85"/><line x1="167.18" y1="251.4" x2="167.38" y2="298.0" stroke="#ec3b45" stroke-width="0.85"/><line x1="168.98" y1="298.0" x2="169.13" y2="272.6" stroke="#3a68c0" stroke-width="0.85"/><line x1="171.18" y1="272.6" x2="171.33" y2="251.4" stroke="#3a3a3a" stroke-width="0.85"/><line x1="173.61" y1="251.4" x2="173.81" y2="298.0" stroke="#ec3b45" stroke-width="0.85"/><line x1="175.41" y1="298.0" x2="175.56" y2="272.6" stroke="#3a68c0" stroke-width="0.85"/><line x1="177.61" y1="272.6" x2="177.76" y2="251.4" stroke="#3a3a3a" stroke-width="0.85"/><line x1="180.04" y1="251.4" x2="180.24" y2="298.0" stroke="#ec3b45" stroke-width="0.85"/><line x1="181.84" y1="298.0" x2="181.99" y2="272.6" stroke="#3a68c0" stroke-width="0.85"/><line x1="184.04" y1="272.6" x2="184.19" y2="251.4" stroke="#3a3a3a" stroke-width="0.85"/><line x1="186.47" y1="251.4" x2="186.67" y2="298.0" stroke="#ec3b45" stroke-width="0.85"/><line x1="188.27" y1="298.0" x2="188.42" y2="272.6" stroke="#3a68c0" stroke-width="0.85"/><line x1="190.47" y1="272.6" x2="190.62" y2="251.4" stroke="#3a3a3a" stroke-width="0.85"/><line x1="192.91" y1="251.4" x2="193.11" y2="298.0" stroke="#ec3b45" stroke-width="0.85"/><line x1="194.71" y1="298.0" x2="194.86" y2="272.6" stroke="#3a68c0" stroke-width="0.85"/><line x1="196.91" y1="272.6" x2="197.06" y2="251.4" stroke="#3a3a3a" stroke-width="0.85"/><line x1="199.34" y1="251.4" x2="199.54" y2="298.0" stroke="#ec3b45" stroke-width="0.85"/><line x1="201.14" y1="298.0" x2="201.29" y2="272.6" stroke="#3a68c0" stroke-width="0.85"/><line x1="203.34" y1="272.6" x2="203.49" y2="251.4" stroke="#3a3a3a" stroke-width="0.85"/><line x1="205.77" y1="251.4" x2="205.97" y2="298.0" stroke="#ec3b45" stroke-width="0.85"/><line x1="207.57" y1="298.0" x2="207.72" y2="272.6" stroke="#3a68c0" stroke-width="0.85"/><line x1="209.77" y1="272.6" x2="209.92" y2="251.4" stroke="#3a3a3a" stroke-width="0.85"/><line x1="212.21" y1="251.4" x2="212.41" y2="298.0" stroke="#ec3b45" stroke-width="0.85"/><line x1="214.01" y1="298.0" x2="214.16" y2="272.6" stroke="#3a68c0" stroke-width="0.85"/><line x1="216.21" y1="272.6" x2="216.36" y2="251.4" stroke="#3a3a3a" stroke-width="0.85"/><line x1="218.64" y1="251.4" x2="218.84" y2="298.0" stroke="#ec3b45" stroke-width="0.85"/><line x1="220.44" y1="298.0" x2="220.59" y2="272.6" stroke="#3a68c0" stroke-width="0.85"/><line x1="222.64" y1="272.6" x2="222.79" y2="251.4" stroke="#3a3a3a" stroke-width="0.85"/><line x1="225.07" y1="251.4" x2="225.27" y2="298.0" stroke="#ec3b45" stroke-width="0.85"/><line x1="226.87" y1="298.0" x2="227.02" y2="272.6" stroke="#3a68c0" stroke-width="0.85"/><line x1="229.07" y1="272.6" x2="229.22" y2="251.4" stroke="#3a3a3a" stroke-width="0.85"/><line x1="231.51" y1="251.4" x2="231.71" y2="298.0" stroke="#ec3b45" stroke-width="0.85"/><line x1="233.31" y1="298.0" x2="233.46" y2="272.6" stroke="#3a68c0" stroke-width="0.85"/><line x1="235.51" y1="272.6" x2="235.66" y2="251.4" stroke="#3a3a3a" stroke-width="0.85"/><line x1="237.94" y1="251.4" x2="238.14" y2="298.0" stroke="#ec3b45" stroke-width="0.85"/><line x1="239.74" y1="298.0" x2="239.89" y2="272.6" stroke="#3a68c0" stroke-width="0.85"/><line x1="241.94" y1="272.6" x2="242.09" y2="251.4" stroke="#3a3a3a" stroke-width="0.85"/><line x1="244.37" y1="251.4" x2="244.57" y2="298.0" stroke="#ec3b45" stroke-width="0.85"/><line x1="246.17" y1="298.0" x2="246.32" y2="272.6" stroke="#3a68c0" stroke-width="0.85"/><line x1="248.37" y1="272.6" x2="248.52" y2="251.4" stroke="#3a3a3a" stroke-width="0.85"/><line x1="250.80" y1="251.4" x2="251.00" y2="298.0" stroke="#ec3b45" stroke-width="0.85"/><line x1="252.60" y1="298.0" x2="252.75" y2="272.6" stroke="#3a68c0" stroke-width="0.85"/><line x1="254.80" y1="272.6" x2="254.95" y2="251.4" stroke="#3a3a3a" stroke-width="0.85"/><line x1="257.24" y1="251.4" x2="257.44" y2="298.0" stroke="#ec3b45" stroke-width="0.85"/><line x1="259.04" y1="298.0" x2="259.19" y2="272.6" stroke="#3a68c0" stroke-width="0.85"/><line x1="261.24" y1="272.6" x2="261.39" y2="251.4" stroke="#3a3a3a" stroke-width="0.85"/><line x1="263.67" y1="251.4" x2="263.87" y2="298.0" stroke="#ec3b45" stroke-width="0.85"/><line x1="265.47" y1="298.0" x2="265.62" y2="272.6" stroke="#3a68c0" stroke-width="0.85"/><line x1="267.67" y1="272.6" x2="267.82" y2="251.4" stroke="#3a3a3a" stroke-width="0.85"/><line x1="270.10" y1="251.4" x2="270.30" y2="298.0" stroke="#ec3b45" stroke-width="0.85"/><line x1="271.90" y1="298.0" x2="272.05" y2="272.6" stroke="#3a68c0" stroke-width="0.85"/><line x1="274.10" y1="272.6" x2="274.25" y2="251.4" stroke="#3a3a3a" stroke-width="0.85"/><line x1="276.54" y1="251.4" x2="276.74" y2="298.0" stroke="#ec3b45" stroke-width="0.85"/><line x1="278.34" y1="298.0" x2="278.49" y2="272.6" stroke="#3a68c0" stroke-width="0.85"/><line x1="280.54" y1="272.6" x2="280.69" y2="251.4" stroke="#3a3a3a" stroke-width="0.85"/><line x1="282.97" y1="251.4" x2="283.17" y2="298.0" stroke="#ec3b45" stroke-width="0.85"/><line x1="284.77" y1="298.0" x2="284.92" y2="272.6" stroke="#3a68c0" stroke-width="0.85"/><line x1="286.97" y1="272.6" x2="287.12" y2="251.4" stroke="#3a3a3a" stroke-width="0.85"/><line x1="289.40" y1="251.4" x2="289.60" y2="298.0" stroke="#ec3b45" stroke-width="0.85"/><line x1="291.20" y1="298.0" x2="291.35" y2="272.6" stroke="#3a68c0" stroke-width="0.85"/><line x1="293.40" y1="272.6" x2="293.55" y2="251.4" stroke="#3a3a3a" stroke-width="0.85"/><line x1="295.84" y1="251.4" x2="296.04" y2="298.0" stroke="#ec3b45" stroke-width="0.85"/><line x1="297.64" y1="298.0" x2="297.79" y2="272.6" stroke="#3a68c0" stroke-width="0.85"/><line x1="299.84" y1="272.6" x2="299.99" y2="251.4" stroke="#3a3a3a" stroke-width="0.85"/><line x1="302.27" y1="251.4" x2="302.47" y2="298.0" stroke="#ec3b45" stroke-width="0.85"/><line x1="304.07" y1="298.0" x2="304.22" y2="272.6" stroke="#3a68c0" stroke-width="0.85"/><line x1="306.27" y1="272.6" x2="306.42" y2="251.4" stroke="#3a3a3a" stroke-width="0.85"/><line x1="308.70" y1="251.4" x2="308.90" y2="298.0" stroke="#ec3b45" stroke-width="0.85"/><line x1="310.50" y1="298.0" x2="310.65" y2="272.6" stroke="#3a68c0" stroke-width="0.85"/><line x1="312.70" y1="272.6" x2="312.85" y2="251.4" stroke="#3a3a3a" stroke-width="0.85"/><line x1="315.13" y1="251.4" x2="315.33" y2="298.0" stroke="#ec3b45" stroke-width="0.85"/><line x1="316.94" y1="298.0" x2="317.08" y2="272.6" stroke="#3a68c0" stroke-width="0.85"/><line x1="319.13" y1="272.6" x2="319.29" y2="251.4" stroke="#3a3a3a" stroke-width="0.85"/><line x1="321.57" y1="251.4" x2="321.77" y2="298.0" stroke="#ec3b45" stroke-width="0.85"/><line x1="323.37" y1="298.0" x2="323.52" y2="272.6" stroke="#3a68c0" stroke-width="0.85"/><line x1="325.57" y1="272.6" x2="325.72" y2="251.4" stroke="#3a3a3a" stroke-width="0.85"/><line x1="328.00" y1="251.4" x2="328.20" y2="298.0" stroke="#ec3b45" stroke-width="0.85"/><line x1="329.80" y1="298.0" x2="329.95" y2="272.6" stroke="#3a68c0" stroke-width="0.85"/><line x1="332.00" y1="272.6" x2="332.15" y2="251.4" stroke="#3a3a3a" stroke-width="0.85"/><line x1="334.43" y1="251.4" x2="334.63" y2="298.0" stroke="#ec3b45" stroke-width="0.85"/><line x1="336.23" y1="298.0" x2="336.38" y2="272.6" stroke="#3a68c0" stroke-width="0.85"/><line x1="338.43" y1="272.6" x2="338.58" y2="251.4" stroke="#3a3a3a" stroke-width="0.85"/><line x1="340.87" y1="251.4" x2="341.07" y2="298.0" stroke="#ec3b45" stroke-width="0.85"/><line x1="342.67" y1="298.0" x2="342.82" y2="272.6" stroke="#3a68c0" stroke-width="0.85"/><line x1="344.87" y1="272.6" x2="345.02" y2="251.4" stroke="#3a3a3a" stroke-width="0.85"/><line x1="347.30" y1="251.4" x2="347.50" y2="298.0" stroke="#ec3b45" stroke-width="0.85"/><line x1="349.10" y1="298.0" x2="349.25" y2="272.6" stroke="#3a68c0" stroke-width="0.85"/><line x1="351.30" y1="272.6" x2="351.45" y2="251.4" stroke="#3a3a3a" stroke-width="0.85"/><line x1="353.73" y1="251.4" x2="353.93" y2="298.0" stroke="#ec3b45" stroke-width="0.85"/><line x1="355.53" y1="298.0" x2="355.68" y2="272.6" stroke="#3a68c0" stroke-width="0.85"/><line x1="357.73" y1="272.6" x2="357.88" y2="251.4" stroke="#3a3a3a" stroke-width="0.85"/><line x1="360.17" y1="251.4" x2="360.37" y2="298.0" stroke="#ec3b45" stroke-width="0.85"/><line x1="361.97" y1="298.0" x2="362.12" y2="272.6" stroke="#3a68c0" stroke-width="0.85"/><line x1="364.17" y1="272.6" x2="364.32" y2="251.4" stroke="#3a3a3a" stroke-width="0.85"/><line x1="366.60" y1="251.4" x2="366.80" y2="298.0" stroke="#ec3b45" stroke-width="0.85"/><line x1="368.40" y1="298.0" x2="368.55" y2="272.6" stroke="#3a68c0" stroke-width="0.85"/><line x1="370.60" y1="272.6" x2="370.75" y2="251.4" stroke="#3a3a3a" stroke-width="0.85"/><line x1="373.03" y1="251.4" x2="373.23" y2="298.0" stroke="#ec3b45" stroke-width="0.85"/><line x1="374.83" y1="298.0" x2="374.98" y2="272.6" stroke="#3a68c0" stroke-width="0.85"/><line x1="377.03" y1="272.6" x2="377.18" y2="251.4" stroke="#3a3a3a" stroke-width="0.85"/><line x1="379.46" y1="251.4" x2="379.66" y2="298.0" stroke="#ec3b45" stroke-width="0.85"/><line x1="381.26" y1="298.0" x2="381.41" y2="272.6" stroke="#3a68c0" stroke-width="0.85"/><line x1="383.46" y1="272.6" x2="383.62" y2="251.4" stroke="#3a3a3a" stroke-width="0.85"/><line x1="385.90" y1="251.4" x2="386.10" y2="298.0" stroke="#ec3b45" stroke-width="0.85"/><line x1="387.70" y1="298.0" x2="387.85" y2="272.6" stroke="#3a68c0" stroke-width="0.85"/><line x1="389.90" y1="272.6" x2="390.05" y2="251.4" stroke="#3a3a3a" stroke-width="0.85"/><line x1="392.33" y1="251.4" x2="392.53" y2="298.0" stroke="#ec3b45" stroke-width="0.85"/><line x1="394.13" y1="298.0" x2="394.28" y2="272.6" stroke="#3a68c0" stroke-width="0.85"/><line x1="396.33" y1="272.6" x2="396.48" y2="251.4" stroke="#3a3a3a" stroke-width="0.85"/><line x1="398.76" y1="251.4" x2="398.96" y2="298.0" stroke="#ec3b45" stroke-width="0.85"/><line x1="400.56" y1="298.0" x2="400.71" y2="272.6" stroke="#3a68c0" stroke-width="0.85"/><line x1="402.76" y1="272.6" x2="402.91" y2="251.4" stroke="#3a3a3a" stroke-width="0.85"/><line x1="405.20" y1="251.4" x2="405.40" y2="298.0" stroke="#ec3b45" stroke-width="0.85"/><line x1="407.00" y1="298.0" x2="407.15" y2="272.6" stroke="#3a68c0" stroke-width="0.85"/><line x1="409.20" y1="272.6" x2="409.35" y2="251.4" stroke="#3a3a3a" stroke-width="0.85"/><line x1="411.63" y1="251.4" x2="411.83" y2="298.0" stroke="#ec3b45" stroke-width="0.85"/><line x1="413.43" y1="298.0" x2="413.58" y2="272.6" stroke="#3a68c0" stroke-width="0.85"/><line x1="415.63" y1="272.6" x2="415.78" y2="251.4" stroke="#3a3a3a" stroke-width="0.85"/><line x1="418.06" y1="251.4" x2="418.26" y2="298.0" stroke="#ec3b45" stroke-width="0.85"/><line x1="419.86" y1="298.0" x2="420.01" y2="272.6" stroke="#3a68c0" stroke-width="0.85"/><line x1="422.06" y1="272.6" x2="422.21" y2="251.4" stroke="#3a3a3a" stroke-width="0.85"/><line x1="424.50" y1="251.4" x2="424.70" y2="298.0" stroke="#ec3b45" stroke-width="0.85"/><line x1="426.30" y1="298.0" x2="426.45" y2="272.6" stroke="#3a68c0" stroke-width="0.85"/><line x1="428.50" y1="272.6" x2="428.65" y2="251.4" stroke="#3a3a3a" stroke-width="0.85"/><line x1="430.93" y1="251.4" x2="431.13" y2="298.0" stroke="#ec3b45" stroke-width="0.85"/><line x1="432.73" y1="298.0" x2="432.88" y2="272.6" stroke="#3a68c0" stroke-width="0.85"/><line x1="434.93" y1="272.6" x2="435.08" y2="251.4" stroke="#3a3a3a" stroke-width="0.85"/><line x1="437.36" y1="251.4" x2="437.56" y2="298.0" stroke="#ec3b45" stroke-width="0.85"/><line x1="439.16" y1="298.0" x2="439.31" y2="272.6" stroke="#3a68c0" stroke-width="0.85"/><line x1="441.36" y1="272.6" x2="441.51" y2="251.4" stroke="#3a3a3a" stroke-width="0.85"/><line x1="443.79" y1="251.4" x2="443.99" y2="298.0" stroke="#ec3b45" stroke-width="0.85"/><line x1="445.59" y1="298.0" x2="445.74" y2="272.6" stroke="#3a68c0" stroke-width="0.85"/><line x1="447.79" y1="272.6" x2="447.94" y2="251.4" stroke="#3a3a3a" stroke-width="0.85"/><line x1="450.23" y1="251.4" x2="450.43" y2="298.0" stroke="#ec3b45" stroke-width="0.85"/><line x1="452.03" y1="298.0" x2="452.18" y2="272.6" stroke="#3a68c0" stroke-width="0.85"/><line x1="454.23" y1="272.6" x2="454.38" y2="251.4" stroke="#3a3a3a" stroke-width="0.85"/><line x1="456.66" y1="251.4" x2="456.86" y2="298.0" stroke="#ec3b45" stroke-width="0.85"/><line x1="458.46" y1="298.0" x2="458.61" y2="272.6" stroke="#3a68c0" stroke-width="0.85"/><line x1="460.66" y1="272.6" x2="460.81" y2="251.4" stroke="#3a3a3a" stroke-width="0.85"/><line x1="463.09" y1="251.4" x2="463.29" y2="298.0" stroke="#ec3b45" stroke-width="0.85"/><line x1="464.89" y1="298.0" x2="465.04" y2="272.6" stroke="#3a68c0" stroke-width="0.85"/><line x1="467.09" y1="272.6" x2="467.24" y2="251.4" stroke="#3a3a3a" stroke-width="0.85"/><line x1="469.53" y1="251.4" x2="469.73" y2="298.0" stroke="#ec3b45" stroke-width="0.85"/><line x1="471.33" y1="298.0" x2="471.48" y2="272.6" stroke="#3a68c0" stroke-width="0.85"/><line x1="473.53" y1="272.6" x2="473.68" y2="251.4" stroke="#3a3a3a" stroke-width="0.85"/><line x1="475.96" y1="251.4" x2="476.16" y2="298.0" stroke="#ec3b45" stroke-width="0.85"/><line x1="477.76" y1="298.0" x2="477.91" y2="272.6" stroke="#3a68c0" stroke-width="0.85"/><line x1="479.96" y1="272.6" x2="480.11" y2="251.4" stroke="#3a3a3a" stroke-width="0.85"/><line x1="482.39" y1="251.4" x2="482.59" y2="298.0" stroke="#ec3b45" stroke-width="0.85"/><line x1="484.19" y1="298.0" x2="484.34" y2="272.6" stroke="#3a68c0" stroke-width="0.85"/><line x1="486.39" y1="272.6" x2="486.54" y2="251.4" stroke="#3a3a3a" stroke-width="0.85"/><line x1="488.83" y1="251.4" x2="489.03" y2="298.0" stroke="#ec3b45" stroke-width="0.85"/><line x1="490.63" y1="298.0" x2="490.78" y2="272.6" stroke="#3a68c0" stroke-width="0.85"/><line x1="492.83" y1="272.6" x2="492.98" y2="251.4" stroke="#3a3a3a" stroke-width="0.85"/><line x1="495.26" y1="251.4" x2="495.46" y2="298.0" stroke="#ec3b45" stroke-width="0.85"/><line x1="497.06" y1="298.0" x2="497.21" y2="272.6" stroke="#3a68c0" stroke-width="0.85"/><line x1="499.26" y1="272.6" x2="499.41" y2="251.4" stroke="#3a3a3a" stroke-width="0.85"/><line x1="501.69" y1="251.4" x2="501.89" y2="298.0" stroke="#ec3b45" stroke-width="0.85"/><line x1="503.49" y1="298.0" x2="503.64" y2="272.6" stroke="#3a68c0" stroke-width="0.85"/><line x1="505.69" y1="272.6" x2="505.84" y2="251.4" stroke="#3a3a3a" stroke-width="0.85"/><line x1="508.12" y1="251.4" x2="508.32" y2="298.0" stroke="#ec3b45" stroke-width="0.85"/><line x1="509.92" y1="298.0" x2="510.07" y2="272.6" stroke="#3a68c0" stroke-width="0.85"/><line x1="512.12" y1="272.6" x2="512.27" y2="251.4" stroke="#3a3a3a" stroke-width="0.85"/><line x1="514.56" y1="251.4" x2="514.76" y2="298.0" stroke="#ec3b45" stroke-width="0.85"/><line x1="516.36" y1="298.0" x2="516.51" y2="272.6" stroke="#3a68c0" stroke-width="0.85"/><line x1="518.56" y1="272.6" x2="518.71" y2="251.4" stroke="#3a3a3a" stroke-width="0.85"/><line x1="520.99" y1="251.4" x2="521.19" y2="298.0" stroke="#ec3b45" stroke-width="0.85"/><line x1="522.79" y1="298.0" x2="522.94" y2="272.6" stroke="#3a68c0" stroke-width="0.85"/><line x1="524.99" y1="272.6" x2="525.14" y2="251.4" stroke="#3a3a3a" stroke-width="0.85"/><line x1="527.42" y1="251.4" x2="527.62" y2="298.0" stroke="#ec3b45" stroke-width="0.85"/><line x1="529.22" y1="298.0" x2="529.37" y2="272.6" stroke="#3a68c0" stroke-width="0.85"/><line x1="531.42" y1="272.6" x2="531.57" y2="251.4" stroke="#3a3a3a" stroke-width="0.85"/><line x1="533.86" y1="251.4" x2="534.06" y2="298.0" stroke="#ec3b45" stroke-width="0.85"/><line x1="535.66" y1="298.0" x2="535.81" y2="272.6" stroke="#3a68c0" stroke-width="0.85"/><line x1="537.86" y1="272.6" x2="538.01" y2="251.4" stroke="#3a3a3a" stroke-width="0.85"/><line x1="540.29" y1="251.4" x2="540.49" y2="298.0" stroke="#ec3b45" stroke-width="0.85"/><line x1="542.09" y1="298.0" x2="542.24" y2="272.6" stroke="#3a68c0" stroke-width="0.85"/><line x1="544.29" y1="272.6" x2="544.44" y2="251.4" stroke="#3a3a3a" stroke-width="0.85"/><line x1="546.72" y1="251.4" x2="546.92" y2="298.0" stroke="#ec3b45" stroke-width="0.85"/><line x1="548.52" y1="298.0" x2="548.67" y2="272.6" stroke="#3a68c0" stroke-width="0.85"/><line x1="550.72" y1="272.6" x2="550.87" y2="251.4" stroke="#3a3a3a" stroke-width="0.85"/><line x1="553.16" y1="251.4" x2="553.36" y2="298.0" stroke="#ec3b45" stroke-width="0.85"/><line x1="554.96" y1="298.0" x2="555.11" y2="272.6" stroke="#3a68c0" stroke-width="0.85"/><line x1="557.16" y1="272.6" x2="557.31" y2="251.4" stroke="#3a3a3a" stroke-width="0.85"/><line x1="559.59" y1="251.4" x2="559.79" y2="298.0" stroke="#ec3b45" stroke-width="0.85"/><line x1="561.39" y1="298.0" x2="561.54" y2="272.6" stroke="#3a68c0" stroke-width="0.85"/><line x1="563.59" y1="272.6" x2="563.74" y2="251.4" stroke="#3a3a3a" stroke-width="0.85"/><line x1="566.02" y1="251.4" x2="566.22" y2="298.0" stroke="#ec3b45" stroke-width="0.85"/><line x1="567.82" y1="298.0" x2="567.97" y2="272.6" stroke="#3a68c0" stroke-width="0.85"/><line x1="570.02" y1="272.6" x2="570.17" y2="251.4" stroke="#3a3a3a" stroke-width="0.85"/><line x1="572.46" y1="251.4" x2="572.65" y2="298.0" stroke="#ec3b45" stroke-width="0.85"/><line x1="574.25" y1="298.0" x2="574.40" y2="272.6" stroke="#3a68c0" stroke-width="0.85"/><line x1="576.46" y1="272.6" x2="576.61" y2="251.4" stroke="#3a3a3a" stroke-width="0.85"/><line x1="578.89" y1="251.4" x2="579.09" y2="298.0" stroke="#ec3b45" stroke-width="0.85"/><line x1="580.69" y1="298.0" x2="580.84" y2="272.6" stroke="#3a68c0" stroke-width="0.85"/><line x1="582.89" y1="272.6" x2="583.04" y2="251.4" stroke="#3a3a3a" stroke-width="0.85"/><line x1="585.32" y1="251.4" x2="585.52" y2="298.0" stroke="#ec3b45" stroke-width="0.85"/><line x1="587.12" y1="298.0" x2="587.27" y2="272.6" stroke="#3a68c0" stroke-width="0.85"/><line x1="589.32" y1="272.6" x2="589.47" y2="251.4" stroke="#3a3a3a" stroke-width="0.85"/><line x1="591.75" y1="251.4" x2="591.95" y2="298.0" stroke="#ec3b45" stroke-width="0.85"/><line x1="593.55" y1="298.0" x2="593.70" y2="272.6" stroke="#3a68c0" stroke-width="0.85"/><line x1="595.75" y1="272.6" x2="595.90" y2="251.4" stroke="#3a3a3a" stroke-width="0.85"/><line x1="598.19" y1="251.4" x2="598.39" y2="298.0" stroke="#ec3b45" stroke-width="0.85"/><line x1="599.99" y1="298.0" x2="600.14" y2="272.6" stroke="#3a68c0" stroke-width="0.85"/><line x1="602.19" y1="272.6" x2="602.34" y2="251.4" stroke="#3a3a3a" stroke-width="0.85"/><line x1="604.62" y1="251.4" x2="604.82" y2="298.0" stroke="#ec3b45" stroke-width="0.85"/><line x1="606.42" y1="298.0" x2="606.57" y2="272.6" stroke="#3a68c0" stroke-width="0.85"/><line x1="608.62" y1="272.6" x2="608.77" y2="251.4" stroke="#3a3a3a" stroke-width="0.85"/><line x1="611.05" y1="251.4" x2="611.25" y2="298.0" stroke="#ec3b45" stroke-width="0.85"/><line x1="612.85" y1="298.0" x2="613.00" y2="272.6" stroke="#3a68c0" stroke-width="0.85"/><line x1="615.05" y1="272.6" x2="615.20" y2="251.4" stroke="#3a3a3a" stroke-width="0.85"/><line x1="617.49" y1="251.4" x2="617.69" y2="298.0" stroke="#ec3b45" stroke-width="0.85"/><line x1="619.29" y1="298.0" x2="619.44" y2="272.6" stroke="#3a68c0" stroke-width="0.85"/><line x1="621.49" y1="272.6" x2="621.64" y2="251.4" stroke="#3a3a3a" stroke-width="0.85"/><line x1="623.92" y1="251.4" x2="624.12" y2="298.0" stroke="#ec3b45" stroke-width="0.85"/><line x1="625.72" y1="298.0" x2="625.87" y2="272.6" stroke="#3a68c0" stroke-width="0.85"/><line x1="627.92" y1="272.6" x2="628.07" y2="251.4" stroke="#3a3a3a" stroke-width="0.85"/><line x1="630.35" y1="251.4" x2="630.55" y2="298.0" stroke="#ec3b45" stroke-width="0.85"/><line x1="632.15" y1="298.0" x2="632.30" y2="272.6" stroke="#3a68c0" stroke-width="0.85"/><line x1="634.35" y1="272.6" x2="634.50" y2="251.4" stroke="#3a3a3a" stroke-width="0.85"/><line x1="636.79" y1="251.4" x2="636.99" y2="298.0" stroke="#ec3b45" stroke-width="0.85"/><line x1="638.59" y1="298.0" x2="638.74" y2="272.6" stroke="#3a68c0" stroke-width="0.85"/><line x1="640.79" y1="272.6" x2="640.94" y2="251.4" stroke="#3a3a3a" stroke-width="0.85"/><line x1="643.22" y1="251.4" x2="643.42" y2="298.0" stroke="#ec3b45" stroke-width="0.85"/><line x1="645.02" y1="298.0" x2="645.17" y2="272.6" stroke="#3a68c0" stroke-width="0.85"/><line x1="647.22" y1="272.6" x2="647.37" y2="251.4" stroke="#3a3a3a" stroke-width="0.85"/><line x1="649.65" y1="251.4" x2="649.85" y2="298.0" stroke="#ec3b45" stroke-width="0.85"/><line x1="651.45" y1="298.0" x2="651.60" y2="272.6" stroke="#3a68c0" stroke-width="0.85"/><line x1="653.65" y1="272.6" x2="653.80" y2="251.4" stroke="#3a3a3a" stroke-width="0.85"/><line x1="656.08" y1="251.4" x2="656.28" y2="298.0" stroke="#ec3b45" stroke-width="0.85"/><line x1="657.88" y1="298.0" x2="658.03" y2="272.6" stroke="#3a68c0" stroke-width="0.85"/><line x1="660.08" y1="272.6" x2="660.23" y2="251.4" stroke="#3a3a3a" stroke-width="0.85"/><line x1="662.52" y1="251.4" x2="662.72" y2="298.0" stroke="#ec3b45" stroke-width="0.85"/><line x1="664.32" y1="298.0" x2="664.47" y2="272.6" stroke="#3a68c0" stroke-width="0.85"/><rect x="23.00" y="250.4" width="3.5" height="2.0" rx="0.9" fill="#111"/><rect x="24.80" y="297.0" width="3.5" height="2.0" rx="0.9" fill="#e0202e"/><rect x="26.90" y="271.6" width="3.4" height="2.0" rx="0.9" fill="#2450b0"/><rect x="29.43" y="250.4" width="3.5" height="2.0" rx="0.9" fill="#111"/><rect x="31.23" y="297.0" width="3.5" height="2.0" rx="0.9" fill="#e0202e"/><rect x="33.33" y="271.6" width="3.4" height="2.0" rx="0.9" fill="#2450b0"/><rect x="35.87" y="250.4" width="3.5" height="2.0" rx="0.9" fill="#111"/><rect x="37.67" y="297.0" width="3.5" height="2.0" rx="0.9" fill="#e0202e"/><rect x="39.77" y="271.6" width="3.4" height="2.0" rx="0.9" fill="#2450b0"/><rect x="42.30" y="250.4" width="3.5" height="2.0" rx="0.9" fill="#111"/><rect x="44.10" y="297.0" width="3.5" height="2.0" rx="0.9" fill="#e0202e"/><rect x="46.20" y="271.6" width="3.4" height="2.0" rx="0.9" fill="#2450b0"/><rect x="48.73" y="250.4" width="3.5" height="2.0" rx="0.9" fill="#111"/><rect x="50.53" y="297.0" width="3.5" height="2.0" rx="0.9" fill="#e0202e"/><rect x="52.63" y="271.6" width="3.4" height="2.0" rx="0.9" fill="#2450b0"/><rect x="55.16" y="250.4" width="3.5" height="2.0" rx="0.9" fill="#111"/><rect x="56.96" y="297.0" width="3.5" height="2.0" rx="0.9" fill="#e0202e"/><rect x="59.06" y="271.6" width="3.4" height="2.0" rx="0.9" fill="#2450b0"/><rect x="61.60" y="250.4" width="3.5" height="2.0" rx="0.9" fill="#111"/><rect x="63.40" y="297.0" width="3.5" height="2.0" rx="0.9" fill="#e0202e"/><rect x="65.50" y="271.6" width="3.4" height="2.0" rx="0.9" fill="#2450b0"/><rect x="68.03" y="250.4" width="3.5" height="2.0" rx="0.9" fill="#111"/><rect x="69.83" y="297.0" width="3.5" height="2.0" rx="0.9" fill="#e0202e"/><rect x="71.93" y="271.6" width="3.4" height="2.0" rx="0.9" fill="#2450b0"/><rect x="74.46" y="250.4" width="3.5" height="2.0" rx="0.9" fill="#111"/><rect x="76.26" y="297.0" width="3.5" height="2.0" rx="0.9" fill="#e0202e"/><rect x="78.36" y="271.6" width="3.4" height="2.0" rx="0.9" fill="#2450b0"/><rect x="80.90" y="250.4" width="3.5" height="2.0" rx="0.9" fill="#111"/><rect x="82.70" y="297.0" width="3.5" height="2.0" rx="0.9" fill="#e0202e"/><rect x="84.80" y="271.6" width="3.4" height="2.0" rx="0.9" fill="#2450b0"/><rect x="87.33" y="250.4" width="3.5" height="2.0" rx="0.9" fill="#111"/><rect x="89.13" y="297.0" width="3.5" height="2.0" rx="0.9" fill="#e0202e"/><rect x="91.23" y="271.6" width="3.4" height="2.0" rx="0.9" fill="#2450b0"/><rect x="93.76" y="250.4" width="3.5" height="2.0" rx="0.9" fill="#111"/><rect x="95.56" y="297.0" width="3.5" height="2.0" rx="0.9" fill="#e0202e"/><rect x="97.66" y="271.6" width="3.4" height="2.0" rx="0.9" fill="#2450b0"/><rect x="100.20" y="250.4" width="3.5" height="2.0" rx="0.9" fill="#111"/><rect x="102.00" y="297.0" width="3.5" height="2.0" rx="0.9" fill="#e0202e"/><rect x="104.10" y="271.6" width="3.4" height="2.0" rx="0.9" fill="#2450b0"/><rect x="106.63" y="250.4" width="3.5" height="2.0" rx="0.9" fill="#111"/><rect x="108.43" y="297.0" width="3.5" height="2.0" rx="0.9" fill="#e0202e"/><rect x="110.53" y="271.6" width="3.4" height="2.0" rx="0.9" fill="#2450b0"/><rect x="113.06" y="250.4" width="3.5" height="2.0" rx="0.9" fill="#111"/><rect x="114.86" y="297.0" width="3.5" height="2.0" rx="0.9" fill="#e0202e"/><rect x="116.96" y="271.6" width="3.4" height="2.0" rx="0.9" fill="#2450b0"/><rect x="119.50" y="250.4" width="3.5" height="2.0" rx="0.9" fill="#111"/><rect x="121.30" y="297.0" width="3.5" height="2.0" rx="0.9" fill="#e0202e"/><rect x="123.40" y="271.6" width="3.4" height="2.0" rx="0.9" fill="#2450b0"/><rect x="125.93" y="250.4" width="3.5" height="2.0" rx="0.9" fill="#111"/><rect x="127.73" y="297.0" width="3.5" height="2.0" rx="0.9" fill="#e0202e"/><rect x="129.83" y="271.6" width="3.4" height="2.0" rx="0.9" fill="#2450b0"/><rect x="132.36" y="250.4" width="3.5" height="2.0" rx="0.9" fill="#111"/><rect x="134.16" y="297.0" width="3.5" height="2.0" rx="0.9" fill="#e0202e"/><rect x="136.26" y="271.6" width="3.4" height="2.0" rx="0.9" fill="#2450b0"/><rect x="138.79" y="250.4" width="3.5" height="2.0" rx="0.9" fill="#111"/><rect x="140.59" y="297.0" width="3.5" height="2.0" rx="0.9" fill="#e0202e"/><rect x="142.69" y="271.6" width="3.4" height="2.0" rx="0.9" fill="#2450b0"/><rect x="145.23" y="250.4" width="3.5" height="2.0" rx="0.9" fill="#111"/><rect x="147.03" y="297.0" width="3.5" height="2.0" rx="0.9" fill="#e0202e"/><rect x="149.13" y="271.6" width="3.4" height="2.0" rx="0.9" fill="#2450b0"/><rect x="151.66" y="250.4" width="3.5" height="2.0" rx="0.9" fill="#111"/><rect x="153.46" y="297.0" width="3.5" height="2.0" rx="0.9" fill="#e0202e"/><rect x="155.56" y="271.6" width="3.4" height="2.0" rx="0.9" fill="#2450b0"/><rect x="158.09" y="250.4" width="3.5" height="2.0" rx="0.9" fill="#111"/><rect x="159.89" y="297.0" width="3.5" height="2.0" rx="0.9" fill="#e0202e"/><rect x="161.99" y="271.6" width="3.4" height="2.0" rx="0.9" fill="#2450b0"/><rect x="164.53" y="250.4" width="3.5" height="2.0" rx="0.9" fill="#111"/><rect x="166.33" y="297.0" width="3.5" height="2.0" rx="0.9" fill="#e0202e"/><rect x="168.43" y="271.6" width="3.4" height="2.0" rx="0.9" fill="#2450b0"/><rect x="170.96" y="250.4" width="3.5" height="2.0" rx="0.9" fill="#111"/><rect x="172.76" y="297.0" width="3.5" height="2.0" rx="0.9" fill="#e0202e"/><rect x="174.86" y="271.6" width="3.4" height="2.0" rx="0.9" fill="#2450b0"/><rect x="177.39" y="250.4" width="3.5" height="2.0" rx="0.9" fill="#111"/><rect x="179.19" y="297.0" width="3.5" height="2.0" rx="0.9" fill="#e0202e"/><rect x="181.29" y="271.6" width="3.4" height="2.0" rx="0.9" fill="#2450b0"/><rect x="183.82" y="250.4" width="3.5" height="2.0" rx="0.9" fill="#111"/><rect x="185.62" y="297.0" width="3.5" height="2.0" rx="0.9" fill="#e0202e"/><rect x="187.72" y="271.6" width="3.4" height="2.0" rx="0.9" fill="#2450b0"/><rect x="190.26" y="250.4" width="3.5" height="2.0" rx="0.9" fill="#111"/><rect x="192.06" y="297.0" width="3.5" height="2.0" rx="0.9" fill="#e0202e"/><rect x="194.16" y="271.6" width="3.4" height="2.0" rx="0.9" fill="#2450b0"/><rect x="196.69" y="250.4" width="3.5" height="2.0" rx="0.9" fill="#111"/><rect x="198.49" y="297.0" width="3.5" height="2.0" rx="0.9" fill="#e0202e"/><rect x="200.59" y="271.6" width="3.4" height="2.0" rx="0.9" fill="#2450b0"/><rect x="203.12" y="250.4" width="3.5" height="2.0" rx="0.9" fill="#111"/><rect x="204.92" y="297.0" width="3.5" height="2.0" rx="0.9" fill="#e0202e"/><rect x="207.02" y="271.6" width="3.4" height="2.0" rx="0.9" fill="#2450b0"/><rect x="209.56" y="250.4" width="3.5" height="2.0" rx="0.9" fill="#111"/><rect x="211.36" y="297.0" width="3.5" height="2.0" rx="0.9" fill="#e0202e"/><rect x="213.46" y="271.6" width="3.4" height="2.0" rx="0.9" fill="#2450b0"/><rect x="215.99" y="250.4" width="3.5" height="2.0" rx="0.9" fill="#111"/><rect x="217.79" y="297.0" width="3.5" height="2.0" rx="0.9" fill="#e0202e"/><rect x="219.89" y="271.6" width="3.4" height="2.0" rx="0.9" fill="#2450b0"/><rect x="222.42" y="250.4" width="3.5" height="2.0" rx="0.9" fill="#111"/><rect x="224.22" y="297.0" width="3.5" height="2.0" rx="0.9" fill="#e0202e"/><rect x="226.32" y="271.6" width="3.4" height="2.0" rx="0.9" fill="#2450b0"/><rect x="228.86" y="250.4" width="3.5" height="2.0" rx="0.9" fill="#111"/><rect x="230.66" y="297.0" width="3.5" height="2.0" rx="0.9" fill="#e0202e"/><rect x="232.76" y="271.6" width="3.4" height="2.0" rx="0.9" fill="#2450b0"/><rect x="235.29" y="250.4" width="3.5" height="2.0" rx="0.9" fill="#111"/><rect x="237.09" y="297.0" width="3.5" height="2.0" rx="0.9" fill="#e0202e"/><rect x="239.19" y="271.6" width="3.4" height="2.0" rx="0.9" fill="#2450b0"/><rect x="241.72" y="250.4" width="3.5" height="2.0" rx="0.9" fill="#111"/><rect x="243.52" y="297.0" width="3.5" height="2.0" rx="0.9" fill="#e0202e"/><rect x="245.62" y="271.6" width="3.4" height="2.0" rx="0.9" fill="#2450b0"/><rect x="248.16" y="250.4" width="3.5" height="2.0" rx="0.9" fill="#111"/><rect x="249.95" y="297.0" width="3.5" height="2.0" rx="0.9" fill="#e0202e"/><rect x="252.05" y="271.6" width="3.4" height="2.0" rx="0.9" fill="#2450b0"/><rect x="254.59" y="250.4" width="3.5" height="2.0" rx="0.9" fill="#111"/><rect x="256.39" y="297.0" width="3.5" height="2.0" rx="0.9" fill="#e0202e"/><rect x="258.49" y="271.6" width="3.4" height="2.0" rx="0.9" fill="#2450b0"/><rect x="261.02" y="250.4" width="3.5" height="2.0" rx="0.9" fill="#111"/><rect x="262.82" y="297.0" width="3.5" height="2.0" rx="0.9" fill="#e0202e"/><rect x="264.92" y="271.6" width="3.4" height="2.0" rx="0.9" fill="#2450b0"/><rect x="267.45" y="250.4" width="3.5" height="2.0" rx="0.9" fill="#111"/><rect x="269.25" y="297.0" width="3.5" height="2.0" rx="0.9" fill="#e0202e"/><rect x="271.35" y="271.6" width="3.4" height="2.0" rx="0.9" fill="#2450b0"/><rect x="273.89" y="250.4" width="3.5" height="2.0" rx="0.9" fill="#111"/><rect x="275.69" y="297.0" width="3.5" height="2.0" rx="0.9" fill="#e0202e"/><rect x="277.79" y="271.6" width="3.4" height="2.0" rx="0.9" fill="#2450b0"/><rect x="280.32" y="250.4" width="3.5" height="2.0" rx="0.9" fill="#111"/><rect x="282.12" y="297.0" width="3.5" height="2.0" rx="0.9" fill="#e0202e"/><rect x="284.22" y="271.6" width="3.4" height="2.0" rx="0.9" fill="#2450b0"/><rect x="286.75" y="250.4" width="3.5" height="2.0" rx="0.9" fill="#111"/><rect x="288.55" y="297.0" width="3.5" height="2.0" rx="0.9" fill="#e0202e"/><rect x="290.65" y="271.6" width="3.4" height="2.0" rx="0.9" fill="#2450b0"/><rect x="293.19" y="250.4" width="3.5" height="2.0" rx="0.9" fill="#111"/><rect x="294.99" y="297.0" width="3.5" height="2.0" rx="0.9" fill="#e0202e"/><rect x="297.09" y="271.6" width="3.4" height="2.0" rx="0.9" fill="#2450b0"/><rect x="299.62" y="250.4" width="3.5" height="2.0" rx="0.9" fill="#111"/><rect x="301.42" y="297.0" width="3.5" height="2.0" rx="0.9" fill="#e0202e"/><rect x="303.52" y="271.6" width="3.4" height="2.0" rx="0.9" fill="#2450b0"/><rect x="306.05" y="250.4" width="3.5" height="2.0" rx="0.9" fill="#111"/><rect x="307.85" y="297.0" width="3.5" height="2.0" rx="0.9" fill="#e0202e"/><rect x="309.95" y="271.6" width="3.4" height="2.0" rx="0.9" fill="#2450b0"/><rect x="312.49" y="250.4" width="3.5" height="2.0" rx="0.9" fill="#111"/><rect x="314.29" y="297.0" width="3.5" height="2.0" rx="0.9" fill="#e0202e"/><rect x="316.38" y="271.6" width="3.4" height="2.0" rx="0.9" fill="#2450b0"/><rect x="318.92" y="250.4" width="3.5" height="2.0" rx="0.9" fill="#111"/><rect x="320.72" y="297.0" width="3.5" height="2.0" rx="0.9" fill="#e0202e"/><rect x="322.82" y="271.6" width="3.4" height="2.0" rx="0.9" fill="#2450b0"/><rect x="325.35" y="250.4" width="3.5" height="2.0" rx="0.9" fill="#111"/><rect x="327.15" y="297.0" width="3.5" height="2.0" rx="0.9" fill="#e0202e"/><rect x="329.25" y="271.6" width="3.4" height="2.0" rx="0.9" fill="#2450b0"/><rect x="331.78" y="250.4" width="3.5" height="2.0" rx="0.9" fill="#111"/><rect x="333.58" y="297.0" width="3.5" height="2.0" rx="0.9" fill="#e0202e"/><rect x="335.68" y="271.6" width="3.4" height="2.0" rx="0.9" fill="#2450b0"/><rect x="338.22" y="250.4" width="3.5" height="2.0" rx="0.9" fill="#111"/><rect x="340.02" y="297.0" width="3.5" height="2.0" rx="0.9" fill="#e0202e"/><rect x="342.12" y="271.6" width="3.4" height="2.0" rx="0.9" fill="#2450b0"/><rect x="344.65" y="250.4" width="3.5" height="2.0" rx="0.9" fill="#111"/><rect x="346.45" y="297.0" width="3.5" height="2.0" rx="0.9" fill="#e0202e"/><rect x="348.55" y="271.6" width="3.4" height="2.0" rx="0.9" fill="#2450b0"/><rect x="351.08" y="250.4" width="3.5" height="2.0" rx="0.9" fill="#111"/><rect x="352.88" y="297.0" width="3.5" height="2.0" rx="0.9" fill="#e0202e"/><rect x="354.98" y="271.6" width="3.4" height="2.0" rx="0.9" fill="#2450b0"/><rect x="357.52" y="250.4" width="3.5" height="2.0" rx="0.9" fill="#111"/><rect x="359.32" y="297.0" width="3.5" height="2.0" rx="0.9" fill="#e0202e"/><rect x="361.42" y="271.6" width="3.4" height="2.0" rx="0.9" fill="#2450b0"/><rect x="363.95" y="250.4" width="3.5" height="2.0" rx="0.9" fill="#111"/><rect x="365.75" y="297.0" width="3.5" height="2.0" rx="0.9" fill="#e0202e"/><rect x="367.85" y="271.6" width="3.4" height="2.0" rx="0.9" fill="#2450b0"/><rect x="370.38" y="250.4" width="3.5" height="2.0" rx="0.9" fill="#111"/><rect x="372.18" y="297.0" width="3.5" height="2.0" rx="0.9" fill="#e0202e"/><rect x="374.28" y="271.6" width="3.4" height="2.0" rx="0.9" fill="#2450b0"/><rect x="376.81" y="250.4" width="3.5" height="2.0" rx="0.9" fill="#111"/><rect x="378.62" y="297.0" width="3.5" height="2.0" rx="0.9" fill="#e0202e"/><rect x="380.71" y="271.6" width="3.4" height="2.0" rx="0.9" fill="#2450b0"/><rect x="383.25" y="250.4" width="3.5" height="2.0" rx="0.9" fill="#111"/><rect x="385.05" y="297.0" width="3.5" height="2.0" rx="0.9" fill="#e0202e"/><rect x="387.15" y="271.6" width="3.4" height="2.0" rx="0.9" fill="#2450b0"/><rect x="389.68" y="250.4" width="3.5" height="2.0" rx="0.9" fill="#111"/><rect x="391.48" y="297.0" width="3.5" height="2.0" rx="0.9" fill="#e0202e"/><rect x="393.58" y="271.6" width="3.4" height="2.0" rx="0.9" fill="#2450b0"/><rect x="396.11" y="250.4" width="3.5" height="2.0" rx="0.9" fill="#111"/><rect x="397.91" y="297.0" width="3.5" height="2.0" rx="0.9" fill="#e0202e"/><rect x="400.01" y="271.6" width="3.4" height="2.0" rx="0.9" fill="#2450b0"/><rect x="402.55" y="250.4" width="3.5" height="2.0" rx="0.9" fill="#111"/><rect x="404.35" y="297.0" width="3.5" height="2.0" rx="0.9" fill="#e0202e"/><rect x="406.45" y="271.6" width="3.4" height="2.0" rx="0.9" fill="#2450b0"/><rect x="408.98" y="250.4" width="3.5" height="2.0" rx="0.9" fill="#111"/><rect x="410.78" y="297.0" width="3.5" height="2.0" rx="0.9" fill="#e0202e"/><rect x="412.88" y="271.6" width="3.4" height="2.0" rx="0.9" fill="#2450b0"/><rect x="415.41" y="250.4" width="3.5" height="2.0" rx="0.9" fill="#111"/><rect x="417.21" y="297.0" width="3.5" height="2.0" rx="0.9" fill="#e0202e"/><rect x="419.31" y="271.6" width="3.4" height="2.0" rx="0.9" fill="#2450b0"/><rect x="421.85" y="250.4" width="3.5" height="2.0" rx="0.9" fill="#111"/><rect x="423.65" y="297.0" width="3.5" height="2.0" rx="0.9" fill="#e0202e"/><rect x="425.75" y="271.6" width="3.4" height="2.0" rx="0.9" fill="#2450b0"/><rect x="428.28" y="250.4" width="3.5" height="2.0" rx="0.9" fill="#111"/><rect x="430.08" y="297.0" width="3.5" height="2.0" rx="0.9" fill="#e0202e"/><rect x="432.18" y="271.6" width="3.4" height="2.0" rx="0.9" fill="#2450b0"/><rect x="434.71" y="250.4" width="3.5" height="2.0" rx="0.9" fill="#111"/><rect x="436.51" y="297.0" width="3.5" height="2.0" rx="0.9" fill="#e0202e"/><rect x="438.61" y="271.6" width="3.4" height="2.0" rx="0.9" fill="#2450b0"/><rect x="441.14" y="250.4" width="3.5" height="2.0" rx="0.9" fill="#111"/><rect x="442.94" y="297.0" width="3.5" height="2.0" rx="0.9" fill="#e0202e"/><rect x="445.04" y="271.6" width="3.4" height="2.0" rx="0.9" fill="#2450b0"/><rect x="447.58" y="250.4" width="3.5" height="2.0" rx="0.9" fill="#111"/><rect x="449.38" y="297.0" width="3.5" height="2.0" rx="0.9" fill="#e0202e"/><rect x="451.48" y="271.6" width="3.4" height="2.0" rx="0.9" fill="#2450b0"/><rect x="454.01" y="250.4" width="3.5" height="2.0" rx="0.9" fill="#111"/><rect x="455.81" y="297.0" width="3.5" height="2.0" rx="0.9" fill="#e0202e"/><rect x="457.91" y="271.6" width="3.4" height="2.0" rx="0.9" fill="#2450b0"/><rect x="460.44" y="250.4" width="3.5" height="2.0" rx="0.9" fill="#111"/><rect x="462.24" y="297.0" width="3.5" height="2.0" rx="0.9" fill="#e0202e"/><rect x="464.34" y="271.6" width="3.4" height="2.0" rx="0.9" fill="#2450b0"/><rect x="466.88" y="250.4" width="3.5" height="2.0" rx="0.9" fill="#111"/><rect x="468.68" y="297.0" width="3.5" height="2.0" rx="0.9" fill="#e0202e"/><rect x="470.78" y="271.6" width="3.4" height="2.0" rx="0.9" fill="#2450b0"/><rect x="473.31" y="250.4" width="3.5" height="2.0" rx="0.9" fill="#111"/><rect x="475.11" y="297.0" width="3.5" height="2.0" rx="0.9" fill="#e0202e"/><rect x="477.21" y="271.6" width="3.4" height="2.0" rx="0.9" fill="#2450b0"/><rect x="479.74" y="250.4" width="3.5" height="2.0" rx="0.9" fill="#111"/><rect x="481.54" y="297.0" width="3.5" height="2.0" rx="0.9" fill="#e0202e"/><rect x="483.64" y="271.6" width="3.4" height="2.0" rx="0.9" fill="#2450b0"/><rect x="486.18" y="250.4" width="3.5" height="2.0" rx="0.9" fill="#111"/><rect x="487.98" y="297.0" width="3.5" height="2.0" rx="0.9" fill="#e0202e"/><rect x="490.08" y="271.6" width="3.4" height="2.0" rx="0.9" fill="#2450b0"/><rect x="492.61" y="250.4" width="3.5" height="2.0" rx="0.9" fill="#111"/><rect x="494.41" y="297.0" width="3.5" height="2.0" rx="0.9" fill="#e0202e"/><rect x="496.51" y="271.6" width="3.4" height="2.0" rx="0.9" fill="#2450b0"/><rect x="499.04" y="250.4" width="3.5" height="2.0" rx="0.9" fill="#111"/><rect x="500.84" y="297.0" width="3.5" height="2.0" rx="0.9" fill="#e0202e"/><rect x="502.94" y="271.6" width="3.4" height="2.0" rx="0.9" fill="#2450b0"/><rect x="505.47" y="250.4" width="3.5" height="2.0" rx="0.9" fill="#111"/><rect x="507.27" y="297.0" width="3.5" height="2.0" rx="0.9" fill="#e0202e"/><rect x="509.37" y="271.6" width="3.4" height="2.0" rx="0.9" fill="#2450b0"/><rect x="511.91" y="250.4" width="3.5" height="2.0" rx="0.9" fill="#111"/><rect x="513.71" y="297.0" width="3.5" height="2.0" rx="0.9" fill="#e0202e"/><rect x="515.81" y="271.6" width="3.4" height="2.0" rx="0.9" fill="#2450b0"/><rect x="518.34" y="250.4" width="3.5" height="2.0" rx="0.9" fill="#111"/><rect x="520.14" y="297.0" width="3.5" height="2.0" rx="0.9" fill="#e0202e"/><rect x="522.24" y="271.6" width="3.4" height="2.0" rx="0.9" fill="#2450b0"/><rect x="524.77" y="250.4" width="3.5" height="2.0" rx="0.9" fill="#111"/><rect x="526.57" y="297.0" width="3.5" height="2.0" rx="0.9" fill="#e0202e"/><rect x="528.67" y="271.6" width="3.4" height="2.0" rx="0.9" fill="#2450b0"/><rect x="531.21" y="250.4" width="3.5" height="2.0" rx="0.9" fill="#111"/><rect x="533.01" y="297.0" width="3.5" height="2.0" rx="0.9" fill="#e0202e"/><rect x="535.11" y="271.6" width="3.4" height="2.0" rx="0.9" fill="#2450b0"/><rect x="537.64" y="250.4" width="3.5" height="2.0" rx="0.9" fill="#111"/><rect x="539.44" y="297.0" width="3.5" height="2.0" rx="0.9" fill="#e0202e"/><rect x="541.54" y="271.6" width="3.4" height="2.0" rx="0.9" fill="#2450b0"/><rect x="544.07" y="250.4" width="3.5" height="2.0" rx="0.9" fill="#111"/><rect x="545.87" y="297.0" width="3.5" height="2.0" rx="0.9" fill="#e0202e"/><rect x="547.97" y="271.6" width="3.4" height="2.0" rx="0.9" fill="#2450b0"/><rect x="550.51" y="250.4" width="3.5" height="2.0" rx="0.9" fill="#111"/><rect x="552.31" y="297.0" width="3.5" height="2.0" rx="0.9" fill="#e0202e"/><rect x="554.41" y="271.6" width="3.4" height="2.0" rx="0.9" fill="#2450b0"/><rect x="556.94" y="250.4" width="3.5" height="2.0" rx="0.9" fill="#111"/><rect x="558.74" y="297.0" width="3.5" height="2.0" rx="0.9" fill="#e0202e"/><rect x="560.84" y="271.6" width="3.4" height="2.0" rx="0.9" fill="#2450b0"/><rect x="563.37" y="250.4" width="3.5" height="2.0" rx="0.9" fill="#111"/><rect x="565.17" y="297.0" width="3.5" height="2.0" rx="0.9" fill="#e0202e"/><rect x="567.27" y="271.6" width="3.4" height="2.0" rx="0.9" fill="#2450b0"/><rect x="569.80" y="250.4" width="3.5" height="2.0" rx="0.9" fill="#111"/><rect x="571.61" y="297.0" width="3.5" height="2.0" rx="0.9" fill="#e0202e"/><rect x="573.71" y="271.6" width="3.4" height="2.0" rx="0.9" fill="#2450b0"/><rect x="576.24" y="250.4" width="3.5" height="2.0" rx="0.9" fill="#111"/><rect x="578.04" y="297.0" width="3.5" height="2.0" rx="0.9" fill="#e0202e"/><rect x="580.14" y="271.6" width="3.4" height="2.0" rx="0.9" fill="#2450b0"/><rect x="582.67" y="250.4" width="3.5" height="2.0" rx="0.9" fill="#111"/><rect x="584.47" y="297.0" width="3.5" height="2.0" rx="0.9" fill="#e0202e"/><rect x="586.57" y="271.6" width="3.4" height="2.0" rx="0.9" fill="#2450b0"/><rect x="589.10" y="250.4" width="3.5" height="2.0" rx="0.9" fill="#111"/><rect x="590.90" y="297.0" width="3.5" height="2.0" rx="0.9" fill="#e0202e"/><rect x="593.00" y="271.6" width="3.4" height="2.0" rx="0.9" fill="#2450b0"/><rect x="595.54" y="250.4" width="3.5" height="2.0" rx="0.9" fill="#111"/><rect x="597.34" y="297.0" width="3.5" height="2.0" rx="0.9" fill="#e0202e"/><rect x="599.44" y="271.6" width="3.4" height="2.0" rx="0.9" fill="#2450b0"/><rect x="601.97" y="250.4" width="3.5" height="2.0" rx="0.9" fill="#111"/><rect x="603.77" y="297.0" width="3.5" height="2.0" rx="0.9" fill="#e0202e"/><rect x="605.87" y="271.6" width="3.4" height="2.0" rx="0.9" fill="#2450b0"/><rect x="608.40" y="250.4" width="3.5" height="2.0" rx="0.9" fill="#111"/><rect x="610.20" y="297.0" width="3.5" height="2.0" rx="0.9" fill="#e0202e"/><rect x="612.30" y="271.6" width="3.4" height="2.0" rx="0.9" fill="#2450b0"/><rect x="614.84" y="250.4" width="3.5" height="2.0" rx="0.9" fill="#111"/><rect x="616.64" y="297.0" width="3.5" height="2.0" rx="0.9" fill="#e0202e"/><rect x="618.74" y="271.6" width="3.4" height="2.0" rx="0.9" fill="#2450b0"/><rect x="621.27" y="250.4" width="3.5" height="2.0" rx="0.9" fill="#111"/><rect x="623.07" y="297.0" width="3.5" height="2.0" rx="0.9" fill="#e0202e"/><rect x="625.17" y="271.6" width="3.4" height="2.0" rx="0.9" fill="#2450b0"/><rect x="627.70" y="250.4" width="3.5" height="2.0" rx="0.9" fill="#111"/><rect x="629.50" y="297.0" width="3.5" height="2.0" rx="0.9" fill="#e0202e"/><rect x="631.60" y="271.6" width="3.4" height="2.0" rx="0.9" fill="#2450b0"/><rect x="634.13" y="250.4" width="3.5" height="2.0" rx="0.9" fill="#111"/><rect x="635.94" y="297.0" width="3.5" height="2.0" rx="0.9" fill="#e0202e"/><rect x="638.04" y="271.6" width="3.4" height="2.0" rx="0.9" fill="#2450b0"/><rect x="640.57" y="250.4" width="3.5" height="2.0" rx="0.9" fill="#111"/><rect x="642.37" y="297.0" width="3.5" height="2.0" rx="0.9" fill="#e0202e"/><rect x="644.47" y="271.6" width="3.4" height="2.0" rx="0.9" fill="#2450b0"/><rect x="647.00" y="250.4" width="3.5" height="2.0" rx="0.9" fill="#111"/><rect x="648.80" y="297.0" width="3.5" height="2.0" rx="0.9" fill="#e0202e"/><rect x="650.90" y="271.6" width="3.4" height="2.0" rx="0.9" fill="#2450b0"/><rect x="653.43" y="250.4" width="3.5" height="2.0" rx="0.9" fill="#111"/><rect x="655.23" y="297.0" width="3.5" height="2.0" rx="0.9" fill="#e0202e"/><rect x="657.33" y="271.6" width="3.4" height="2.0" rx="0.9" fill="#2450b0"/><rect x="659.87" y="250.4" width="3.5" height="2.0" rx="0.9" fill="#111"/><rect x="661.67" y="297.0" width="3.5" height="2.0" rx="0.9" fill="#e0202e"/><rect x="663.77" y="271.6" width="3.4" height="2.0" rx="0.9" fill="#2450b0"/></g><rect x="23.40" y="235.30" width="643.30" height="76.70" fill="none" stroke="#1a1a1a" stroke-width="1.0"/><line x1="23.40" y1="301.50" x2="25.00" y2="301.50" stroke="#222" stroke-width="0.95" /><line x1="664.80" y1="301.50" x2="666.70" y2="301.50" stroke="#222" stroke-width="0.95" /><line x1="23.40" y1="288.20" x2="26.30" y2="288.20" stroke="#222" stroke-width="0.95" /><line x1="663.50" y1="288.20" x2="666.70" y2="288.20" stroke="#222" stroke-width="0.95" /><text x="21.00" y="291.00" font-size="9.2" text-anchor="end" fill="#111" >8</text><line x1="23.40" y1="274.90" x2="25.00" y2="274.90" stroke="#222" stroke-width="0.95" /><line x1="664.80" y1="274.90" x2="666.70" y2="274.90" stroke="#222" stroke-width="0.95" /><line x1="23.40" y1="261.60" x2="26.30" y2="261.60" stroke="#222" stroke-width="0.95" /><line x1="663.50" y1="261.60" x2="666.70" y2="261.60" stroke="#222" stroke-width="0.95" /><text x="21.00" y="264.40" font-size="9.2" text-anchor="end" fill="#111" >10</text><line x1="23.40" y1="248.30" x2="25.00" y2="248.30" stroke="#222" stroke-width="0.95" /><line x1="664.80" y1="248.30" x2="666.70" y2="248.30" stroke="#222" stroke-width="0.95" /><line x1="23.40" y1="235.00" x2="26.30" y2="235.00" stroke="#222" stroke-width="0.95" /><line x1="663.50" y1="235.00" x2="666.70" y2="235.00" stroke="#222" stroke-width="0.95" /><text x="21.00" y="237.80" font-size="9.2" text-anchor="end" fill="#111" >12</text><line x1="23.40" y1="312.00" x2="23.40" y2="310.20" stroke="#222" stroke-width="0.8" /><text x="23.40" y="323.40" font-size="9.2" text-anchor="middle" fill="#111" >0</text><line x1="55.57" y1="312.00" x2="55.57" y2="310.90" stroke="#222" stroke-width="0.8" /><line x1="87.73" y1="312.00" x2="87.73" y2="310.20" stroke="#222" stroke-width="0.8" /><text x="87.73" y="323.40" font-size="9.2" text-anchor="middle" fill="#111" >10</text><line x1="119.90" y1="312.00" x2="119.90" y2="310.90" stroke="#222" stroke-width="0.8" /><line x1="152.06" y1="312.00" x2="152.06" y2="310.20" stroke="#222" stroke-width="0.8" /><text x="152.06" y="323.40" font-size="9.2" text-anchor="middle" fill="#111" >20</text><line x1="184.23" y1="312.00" x2="184.23" y2="310.90" stroke="#222" stroke-width="0.8" /><line x1="216.39" y1="312.00" x2="216.39" y2="310.20" stroke="#222" stroke-width="0.8" /><text x="216.39" y="323.40" font-size="9.2" text-anchor="middle" fill="#111" >30</text><line x1="248.56" y1="312.00" x2="248.56" y2="310.90" stroke="#222" stroke-width="0.8" /><line x1="280.72" y1="312.00" x2="280.72" y2="310.20" stroke="#222" stroke-width="0.8" /><text x="280.72" y="323.40" font-size="9.2" text-anchor="middle" fill="#111" >40</text><line x1="312.88" y1="312.00" x2="312.88" y2="310.90" stroke="#222" stroke-width="0.8" /><line x1="345.05" y1="312.00" x2="345.05" y2="310.20" stroke="#222" stroke-width="0.8" /><text x="345.05" y="323.40" font-size="9.2" text-anchor="middle" fill="#111" >50</text><line x1="377.22" y1="312.00" x2="377.22" y2="310.90" stroke="#222" stroke-width="0.8" /><line x1="409.38" y1="312.00" x2="409.38" y2="310.20" stroke="#222" stroke-width="0.8" /><text x="409.38" y="323.40" font-size="9.2" text-anchor="middle" fill="#111" >60</text><line x1="441.55" y1="312.00" x2="441.55" y2="310.90" stroke="#222" stroke-width="0.8" /><line x1="473.71" y1="312.00" x2="473.71" y2="310.20" stroke="#222" stroke-width="0.8" /><text x="473.71" y="323.40" font-size="9.2" text-anchor="middle" fill="#111" >70</text><line x1="505.88" y1="312.00" x2="505.88" y2="310.90" stroke="#222" stroke-width="0.8" /><line x1="538.04" y1="312.00" x2="538.04" y2="310.20" stroke="#222" stroke-width="0.8" /><text x="538.04" y="323.40" font-size="9.2" text-anchor="middle" fill="#111" >80</text><line x1="570.21" y1="312.00" x2="570.21" y2="310.90" stroke="#222" stroke-width="0.8" /><line x1="602.37" y1="312.00" x2="602.37" y2="310.20" stroke="#222" stroke-width="0.8" /><text x="602.37" y="323.40" font-size="9.2" text-anchor="middle" fill="#111" >90</text><line x1="634.54" y1="312.00" x2="634.54" y2="310.90" stroke="#222" stroke-width="0.8" /><line x1="666.70" y1="312.00" x2="666.70" y2="310.20" stroke="#222" stroke-width="0.8" /><text x="666.70" y="323.40" font-size="9.2" text-anchor="middle" fill="#111" >100</text><text transform="translate(8.6,268.6) rotate(-90)" font-size="9.4" text-anchor="middle" fill="#111"><tspan font-style="italic">f</tspan> (GHz)</text><text x="344.00" y="334.80" font-size="9.4" text-anchor="middle" fill="#111" >Counts</text><text x="669.40" y="252.60" font-size="9.2" text-anchor="start" fill="#111" >DW</text><text x="669.40" y="276.60" font-size="9.2" text-anchor="start" fill="#2e3aa6" >M2</text><text x="669.40" y="301.40" font-size="9.2" text-anchor="start" fill="#cc1530" >M1</text></svg></body></html>
